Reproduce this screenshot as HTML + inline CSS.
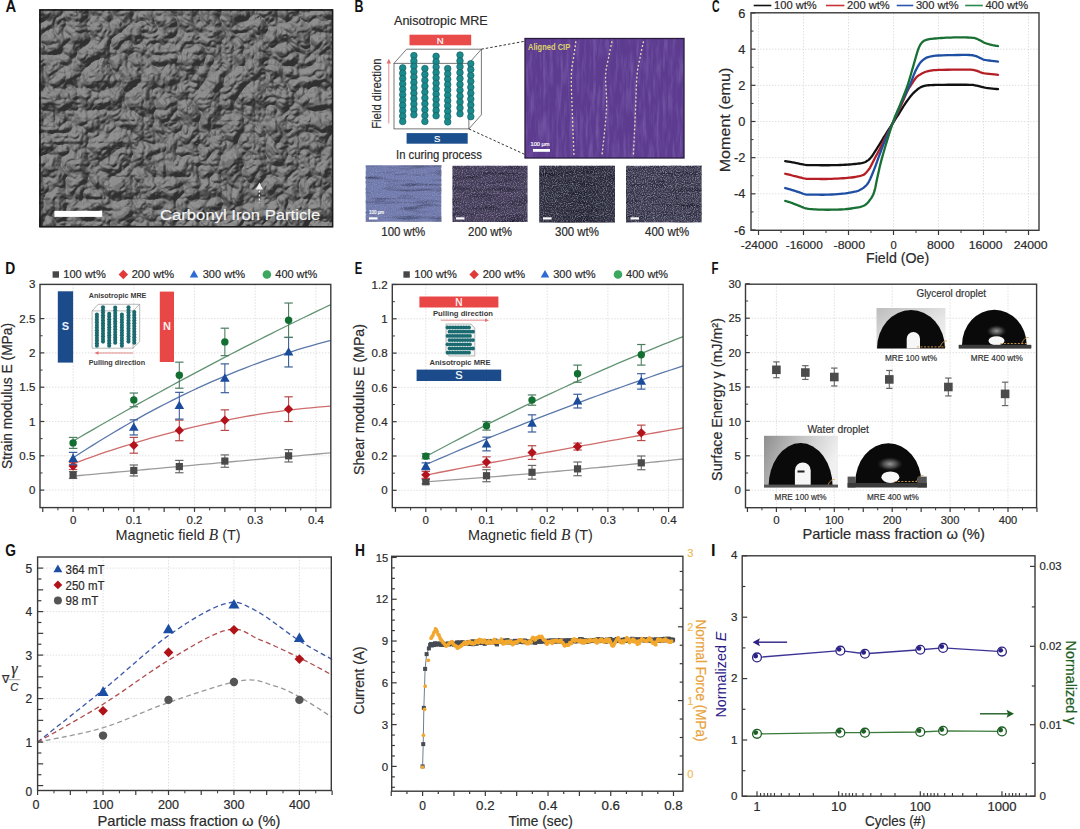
<!DOCTYPE html>
<html><head><meta charset="utf-8"><style>
html,body{margin:0;padding:0;background:#fff;width:1080px;height:829px;overflow:hidden}
svg{display:block;font-family:"Liberation Sans", sans-serif}
</style></head><body>
<svg width="1080" height="829" viewBox="0 0 1080 829" font-family='"Liberation Sans", sans-serif' fill="#2a2a2a"><defs><filter id="sem" x="0" y="0" width="100%" height="100%" color-interpolation-filters="sRGB">
<feTurbulence type="turbulence" baseFrequency="0.045" numOctaves="3" seed="4" result="n"/>
<feColorMatrix in="n" type="matrix" values="0 0 0 0 0  0 0 0 0 0  0 0 0 0 0  1.5 0 0 0 0" result="h"/>
<feDiffuseLighting in="h" surfaceScale="6" diffuseConstant="1" lighting-color="#fff" result="l"><feDistantLight azimuth="240" elevation="45"/></feDiffuseLighting>
<feColorMatrix in="l" type="matrix" values="0.38 0 0 0 0.19  0.38 0 0 0 0.19  0.38 0 0 0 0.19  0 0 0 0 1" result="g"/>
<feGaussianBlur in="g" stdDeviation="0.6"/>
</filter><filter id="purp" x="0" y="0" width="100%" height="100%" color-interpolation-filters="sRGB">
<feTurbulence type="fractalNoise" baseFrequency="0.3 0.035" numOctaves="3" seed="2" result="n"/>
<feColorMatrix in="n" type="matrix" values="0 0 0 0 0.50  0 0 0 0 0.38  0 0 0 0 0.68  1.5 0 0 0 -0.64" result="c"/>
<feComposite in="c" in2="SourceGraphic" operator="over"/>
</filter><filter id="si1" x="0" y="0" width="100%" height="100%" color-interpolation-filters="sRGB">
<feTurbulence type="fractalNoise" baseFrequency="0.9 0.9" numOctaves="2" seed="11" result="n"/>
<feColorMatrix in="n" type="matrix" values="0 0 0 0 0.6  0 0 0 0 0.64  0 0 0 0 0.8  1.3 0 0 0 -0.55" result="c"/>
<feTurbulence type="fractalNoise" baseFrequency="0.03 0.25" numOctaves="2" seed="31" result="n2"/>
<feColorMatrix in="n2" type="matrix" values="0 0 0 0 0  0 0 0 0 0  0 0 0 0 0.05  1.2 0 0 0 -0.58" result="c2"/>
<feMerge result="m"><feMergeNode in="SourceGraphic"/><feMergeNode in="c2"/><feMergeNode in="c"/></feMerge>
<feGaussianBlur in="m" stdDeviation="0.45"/>
</filter><filter id="si2" x="0" y="0" width="100%" height="100%" color-interpolation-filters="sRGB">
<feTurbulence type="fractalNoise" baseFrequency="0.9 0.9" numOctaves="2" seed="12" result="n"/>
<feColorMatrix in="n" type="matrix" values="0 0 0 0 0.62  0 0 0 0 0.6  0 0 0 0 0.72  1.8 0 0 0 -0.8" result="c"/>
<feTurbulence type="fractalNoise" baseFrequency="0.03 0.25" numOctaves="2" seed="32" result="n2"/>
<feColorMatrix in="n2" type="matrix" values="0 0 0 0 0  0 0 0 0 0  0 0 0 0 0.05  1.2 0 0 0 -0.58" result="c2"/>
<feMerge result="m"><feMergeNode in="SourceGraphic"/><feMergeNode in="c2"/><feMergeNode in="c"/></feMerge>
<feGaussianBlur in="m" stdDeviation="0.45"/>
</filter><filter id="si3" x="0" y="0" width="100%" height="100%" color-interpolation-filters="sRGB">
<feTurbulence type="fractalNoise" baseFrequency="0.9 0.9" numOctaves="2" seed="13" result="n"/>
<feColorMatrix in="n" type="matrix" values="0 0 0 0 0.55  0 0 0 0 0.56  0 0 0 0 0.66  2.0 0 0 0 -0.85" result="c"/>
<feTurbulence type="fractalNoise" baseFrequency="0.03 0.25" numOctaves="2" seed="33" result="n2"/>
<feColorMatrix in="n2" type="matrix" values="0 0 0 0 0  0 0 0 0 0  0 0 0 0 0.05  1.2 0 0 0 -0.58" result="c2"/>
<feMerge result="m"><feMergeNode in="SourceGraphic"/><feMergeNode in="c2"/><feMergeNode in="c"/></feMerge>
<feGaussianBlur in="m" stdDeviation="0.45"/>
</filter><filter id="si4" x="0" y="0" width="100%" height="100%" color-interpolation-filters="sRGB">
<feTurbulence type="fractalNoise" baseFrequency="0.9 0.9" numOctaves="2" seed="14" result="n"/>
<feColorMatrix in="n" type="matrix" values="0 0 0 0 0.6  0 0 0 0 0.6  0 0 0 0 0.7  2.0 0 0 0 -0.82" result="c"/>
<feTurbulence type="fractalNoise" baseFrequency="0.03 0.25" numOctaves="2" seed="34" result="n2"/>
<feColorMatrix in="n2" type="matrix" values="0 0 0 0 0  0 0 0 0 0  0 0 0 0 0.05  1.2 0 0 0 -0.58" result="c2"/>
<feMerge result="m"><feMergeNode in="SourceGraphic"/><feMergeNode in="c2"/><feMergeNode in="c"/></feMerge>
<feGaussianBlur in="m" stdDeviation="0.45"/>
</filter><linearGradient id="gbg1" x1="0" y1="0" x2="1" y2="1"><stop offset="0" stop-color="#bdbdbd"/><stop offset="0.6" stop-color="#e6e6e6"/><stop offset="1" stop-color="#f4f4f4"/></linearGradient>
<linearGradient id="wbg1" x1="0" y1="0" x2="1" y2="0.3"><stop offset="0" stop-color="#8e8e8e"/><stop offset="0.5" stop-color="#c6c6c6"/><stop offset="1" stop-color="#f0f0f0"/></linearGradient>
<radialGradient id="glow"><stop offset="0" stop-color="#9a9a9a"/><stop offset="0.5" stop-color="#6a6a6a" stop-opacity="0.7"/><stop offset="1" stop-color="#333" stop-opacity="0"/></radialGradient></defs><rect width="1080" height="829" fill="#ffffff"/><text x="5.4" y="11.7" font-size="16.3" fill="#111" font-weight="bold" textLength="10.7" lengthAdjust="spacingAndGlyphs">A</text>
<rect x="39.5" y="9.5" width="293.5" height="217.5" fill="#6a6a6a" filter="url(#sem)"/>
<rect x="40" y="10" width="292.6" height="216.8" fill="none" stroke="#1a1a1a" stroke-width="1.6"/>
<rect x="54.4" y="210.9" width="47.8" height="6" fill="#ffffff"/>
<text x="160" y="219.9" font-size="15.5" fill="#f4f4f4" stroke="#f4f4f4" stroke-width="0.2" textLength="160.2" lengthAdjust="spacingAndGlyphs">Carbonyl Iron Particle</text>
<path d="M259.4 182.5 L255.8 189.5 L263 189.5 Z" fill="#f0f0f0"/>
<line x1="259.4" y1="190.5" x2="259.4" y2="203" stroke="#eeeeee" stroke-width="1.4" stroke-dasharray="2 2"/>
<text x="354.6" y="11.7" font-size="16.3" fill="#111" font-weight="bold" textLength="9" lengthAdjust="spacingAndGlyphs">B</text>
<text x="394" y="25" font-size="13.5" stroke="#2a2a2a" stroke-width="0.2" textLength="93.6" lengthAdjust="spacingAndGlyphs">Anisotropic MRE</text>
<rect x="409.5" y="34.7" width="61.7" height="10.6" fill="#e94b4b"/>
<text x="440.3" y="43.6" font-size="9.5" text-anchor="middle" fill="#ffffff" stroke="#ffffff" stroke-width="0.2">N</text>
<rect x="406.6" y="133.1" width="61.1" height="10.6" fill="#1c4f8e"/>
<text x="437.2" y="142" font-size="9.5" text-anchor="middle" fill="#ffffff" stroke="#ffffff" stroke-width="0.2">S</text>
<text x="396" y="159.2" font-size="13.5" stroke="#2a2a2a" stroke-width="0.2" textLength="85.8" lengthAdjust="spacingAndGlyphs">In curing process</text>
<text x="381.5" y="93.6" font-size="12.2" text-anchor="middle" stroke="#2a2a2a" stroke-width="0.2" textLength="70.4" lengthAdjust="spacingAndGlyphs" transform="rotate(-90 381.5 93.6)">Field direction</text>
<line x1="388.8" y1="123.5" x2="388.8" y2="62" stroke="#e07070" stroke-width="0.8"/>
<path d="M388.8 58.8 L386.6 63.5 L391 63.5 Z" fill="#e07070"/>
<rect x="394" y="63.3" width="74.9" height="65.6" fill="none" stroke="#555555" stroke-width="0.8"/>
<path d="M394 63.3 L406.6 49.2 L481.4 49.2 L481.4 114.8 L468.9 128.9 M468.9 63.3 L481.4 49.2" fill="none" stroke="#555555" stroke-width="0.8"/>
<circle cx="402.7" cy="67.9" r="3.3" fill="#1b8a8c" stroke="#0e5a5e" stroke-width="0.6"/>
<circle cx="402.7" cy="73.26" r="3.3" fill="#1b8a8c" stroke="#0e5a5e" stroke-width="0.6"/>
<circle cx="402.7" cy="78.62" r="3.3" fill="#1b8a8c" stroke="#0e5a5e" stroke-width="0.6"/>
<circle cx="402.7" cy="83.98" r="3.3" fill="#1b8a8c" stroke="#0e5a5e" stroke-width="0.6"/>
<circle cx="402.7" cy="89.34" r="3.3" fill="#1b8a8c" stroke="#0e5a5e" stroke-width="0.6"/>
<circle cx="402.7" cy="94.7" r="3.3" fill="#1b8a8c" stroke="#0e5a5e" stroke-width="0.6"/>
<circle cx="402.7" cy="100.06" r="3.3" fill="#1b8a8c" stroke="#0e5a5e" stroke-width="0.6"/>
<circle cx="402.7" cy="105.42" r="3.3" fill="#1b8a8c" stroke="#0e5a5e" stroke-width="0.6"/>
<circle cx="402.7" cy="110.78" r="3.3" fill="#1b8a8c" stroke="#0e5a5e" stroke-width="0.6"/>
<circle cx="402.7" cy="116.14" r="3.3" fill="#1b8a8c" stroke="#0e5a5e" stroke-width="0.6"/>
<circle cx="402.7" cy="121.5" r="3.3" fill="#1b8a8c" stroke="#0e5a5e" stroke-width="0.6"/>
<circle cx="413.9" cy="55.6" r="3.3" fill="#1b8a8c" stroke="#0e5a5e" stroke-width="0.6"/>
<circle cx="413.9" cy="60.98" r="3.3" fill="#1b8a8c" stroke="#0e5a5e" stroke-width="0.6"/>
<circle cx="413.9" cy="66.36" r="3.3" fill="#1b8a8c" stroke="#0e5a5e" stroke-width="0.6"/>
<circle cx="413.9" cy="71.75" r="3.3" fill="#1b8a8c" stroke="#0e5a5e" stroke-width="0.6"/>
<circle cx="413.9" cy="77.13" r="3.3" fill="#1b8a8c" stroke="#0e5a5e" stroke-width="0.6"/>
<circle cx="413.9" cy="82.51" r="3.3" fill="#1b8a8c" stroke="#0e5a5e" stroke-width="0.6"/>
<circle cx="413.9" cy="87.89" r="3.3" fill="#1b8a8c" stroke="#0e5a5e" stroke-width="0.6"/>
<circle cx="413.9" cy="93.27" r="3.3" fill="#1b8a8c" stroke="#0e5a5e" stroke-width="0.6"/>
<circle cx="413.9" cy="98.65" r="3.3" fill="#1b8a8c" stroke="#0e5a5e" stroke-width="0.6"/>
<circle cx="413.9" cy="104.04" r="3.3" fill="#1b8a8c" stroke="#0e5a5e" stroke-width="0.6"/>
<circle cx="413.9" cy="109.42" r="3.3" fill="#1b8a8c" stroke="#0e5a5e" stroke-width="0.6"/>
<circle cx="413.9" cy="114.8" r="3.3" fill="#1b8a8c" stroke="#0e5a5e" stroke-width="0.6"/>
<circle cx="424.9" cy="68.5" r="3.3" fill="#1b8a8c" stroke="#0e5a5e" stroke-width="0.6"/>
<circle cx="424.9" cy="74.39" r="3.3" fill="#1b8a8c" stroke="#0e5a5e" stroke-width="0.6"/>
<circle cx="424.9" cy="80.28" r="3.3" fill="#1b8a8c" stroke="#0e5a5e" stroke-width="0.6"/>
<circle cx="424.9" cy="86.17" r="3.3" fill="#1b8a8c" stroke="#0e5a5e" stroke-width="0.6"/>
<circle cx="424.9" cy="92.06" r="3.3" fill="#1b8a8c" stroke="#0e5a5e" stroke-width="0.6"/>
<circle cx="424.9" cy="97.94" r="3.3" fill="#1b8a8c" stroke="#0e5a5e" stroke-width="0.6"/>
<circle cx="424.9" cy="103.83" r="3.3" fill="#1b8a8c" stroke="#0e5a5e" stroke-width="0.6"/>
<circle cx="424.9" cy="109.72" r="3.3" fill="#1b8a8c" stroke="#0e5a5e" stroke-width="0.6"/>
<circle cx="424.9" cy="115.61" r="3.3" fill="#1b8a8c" stroke="#0e5a5e" stroke-width="0.6"/>
<circle cx="424.9" cy="121.5" r="3.3" fill="#1b8a8c" stroke="#0e5a5e" stroke-width="0.6"/>
<circle cx="436.1" cy="56.3" r="3.3" fill="#1b8a8c" stroke="#0e5a5e" stroke-width="0.6"/>
<circle cx="436.1" cy="61.71" r="3.3" fill="#1b8a8c" stroke="#0e5a5e" stroke-width="0.6"/>
<circle cx="436.1" cy="67.12" r="3.3" fill="#1b8a8c" stroke="#0e5a5e" stroke-width="0.6"/>
<circle cx="436.1" cy="72.53" r="3.3" fill="#1b8a8c" stroke="#0e5a5e" stroke-width="0.6"/>
<circle cx="436.1" cy="77.94" r="3.3" fill="#1b8a8c" stroke="#0e5a5e" stroke-width="0.6"/>
<circle cx="436.1" cy="83.35" r="3.3" fill="#1b8a8c" stroke="#0e5a5e" stroke-width="0.6"/>
<circle cx="436.1" cy="88.75" r="3.3" fill="#1b8a8c" stroke="#0e5a5e" stroke-width="0.6"/>
<circle cx="436.1" cy="94.16" r="3.3" fill="#1b8a8c" stroke="#0e5a5e" stroke-width="0.6"/>
<circle cx="436.1" cy="99.57" r="3.3" fill="#1b8a8c" stroke="#0e5a5e" stroke-width="0.6"/>
<circle cx="436.1" cy="104.98" r="3.3" fill="#1b8a8c" stroke="#0e5a5e" stroke-width="0.6"/>
<circle cx="436.1" cy="110.39" r="3.3" fill="#1b8a8c" stroke="#0e5a5e" stroke-width="0.6"/>
<circle cx="436.1" cy="115.8" r="3.3" fill="#1b8a8c" stroke="#0e5a5e" stroke-width="0.6"/>
<circle cx="447.7" cy="68.5" r="3.3" fill="#1b8a8c" stroke="#0e5a5e" stroke-width="0.6"/>
<circle cx="447.7" cy="73.84" r="3.3" fill="#1b8a8c" stroke="#0e5a5e" stroke-width="0.6"/>
<circle cx="447.7" cy="79.18" r="3.3" fill="#1b8a8c" stroke="#0e5a5e" stroke-width="0.6"/>
<circle cx="447.7" cy="84.52" r="3.3" fill="#1b8a8c" stroke="#0e5a5e" stroke-width="0.6"/>
<circle cx="447.7" cy="89.86" r="3.3" fill="#1b8a8c" stroke="#0e5a5e" stroke-width="0.6"/>
<circle cx="447.7" cy="95.2" r="3.3" fill="#1b8a8c" stroke="#0e5a5e" stroke-width="0.6"/>
<circle cx="447.7" cy="100.54" r="3.3" fill="#1b8a8c" stroke="#0e5a5e" stroke-width="0.6"/>
<circle cx="447.7" cy="105.88" r="3.3" fill="#1b8a8c" stroke="#0e5a5e" stroke-width="0.6"/>
<circle cx="447.7" cy="111.22" r="3.3" fill="#1b8a8c" stroke="#0e5a5e" stroke-width="0.6"/>
<circle cx="447.7" cy="116.56" r="3.3" fill="#1b8a8c" stroke="#0e5a5e" stroke-width="0.6"/>
<circle cx="447.7" cy="121.9" r="3.3" fill="#1b8a8c" stroke="#0e5a5e" stroke-width="0.6"/>
<circle cx="460" cy="55" r="3.3" fill="#1b8a8c" stroke="#0e5a5e" stroke-width="0.6"/>
<circle cx="460" cy="60.88" r="3.3" fill="#1b8a8c" stroke="#0e5a5e" stroke-width="0.6"/>
<circle cx="460" cy="66.76" r="3.3" fill="#1b8a8c" stroke="#0e5a5e" stroke-width="0.6"/>
<circle cx="460" cy="72.64" r="3.3" fill="#1b8a8c" stroke="#0e5a5e" stroke-width="0.6"/>
<circle cx="460" cy="78.52" r="3.3" fill="#1b8a8c" stroke="#0e5a5e" stroke-width="0.6"/>
<circle cx="460" cy="84.4" r="3.3" fill="#1b8a8c" stroke="#0e5a5e" stroke-width="0.6"/>
<circle cx="460" cy="90.28" r="3.3" fill="#1b8a8c" stroke="#0e5a5e" stroke-width="0.6"/>
<circle cx="460" cy="96.16" r="3.3" fill="#1b8a8c" stroke="#0e5a5e" stroke-width="0.6"/>
<circle cx="460" cy="102.04" r="3.3" fill="#1b8a8c" stroke="#0e5a5e" stroke-width="0.6"/>
<circle cx="460" cy="107.92" r="3.3" fill="#1b8a8c" stroke="#0e5a5e" stroke-width="0.6"/>
<circle cx="460" cy="113.8" r="3.3" fill="#1b8a8c" stroke="#0e5a5e" stroke-width="0.6"/>
<circle cx="470.8" cy="63.7" r="3.3" fill="#1b8a8c" stroke="#0e5a5e" stroke-width="0.6"/>
<circle cx="470.8" cy="69.59" r="3.3" fill="#1b8a8c" stroke="#0e5a5e" stroke-width="0.6"/>
<circle cx="470.8" cy="75.48" r="3.3" fill="#1b8a8c" stroke="#0e5a5e" stroke-width="0.6"/>
<circle cx="470.8" cy="81.37" r="3.3" fill="#1b8a8c" stroke="#0e5a5e" stroke-width="0.6"/>
<circle cx="470.8" cy="87.26" r="3.3" fill="#1b8a8c" stroke="#0e5a5e" stroke-width="0.6"/>
<circle cx="470.8" cy="93.14" r="3.3" fill="#1b8a8c" stroke="#0e5a5e" stroke-width="0.6"/>
<circle cx="470.8" cy="99.03" r="3.3" fill="#1b8a8c" stroke="#0e5a5e" stroke-width="0.6"/>
<circle cx="470.8" cy="104.92" r="3.3" fill="#1b8a8c" stroke="#0e5a5e" stroke-width="0.6"/>
<circle cx="470.8" cy="110.81" r="3.3" fill="#1b8a8c" stroke="#0e5a5e" stroke-width="0.6"/>
<circle cx="470.8" cy="116.7" r="3.3" fill="#1b8a8c" stroke="#0e5a5e" stroke-width="0.6"/>
<line x1="481.4" y1="49.2" x2="525" y2="41.2" stroke="#333" stroke-width="1" stroke-dasharray="2.5 2"/>
<line x1="468.9" y1="128.9" x2="525" y2="154.5" stroke="#333" stroke-width="1" stroke-dasharray="2.5 2"/>
<rect x="525" y="38.5" width="159" height="119.5" fill="#5d3c90" filter="url(#purp)"/>
<rect x="525" y="38.5" width="159" height="119.5" fill="none" stroke="#2a1c3c" stroke-width="1.3"/>
<path d="M575.9 41.3 L575.64 43.11 L575.27 45.6 L574.84 48.55 L574.37 51.75 L573.92 54.97 L573.5 58 L573.09 60.69 L572.64 63.18 L572.19 65.69 L571.8 68.46 L571.48 71.68 L571.3 75.6 L571.26 80.23 L571.34 85.39 L571.5 91.02 L571.72 97.05 L571.96 103.4 L572.2 110 L572.47 117.53 L572.8 126.18 L573.16 135.15 L573.5 143.64 L573.79 150.86 L574 156" fill="none" stroke="#efe6b8" stroke-width="1.3" stroke-dasharray="1.8 2.2"/>
<path d="M612 41.3 L611.61 43.11 L611.07 45.6 L610.43 48.55 L609.75 51.75 L609.09 54.97 L608.5 58 L607.94 60.7 L607.35 63.22 L606.78 65.76 L606.26 68.54 L605.86 71.75 L605.6 75.6 L605.59 80.08 L605.82 85.03 L606.16 90.41 L606.47 96.2 L606.62 102.37 L606.5 108.9 L606 116.5 L605.2 125.32 L604.26 134.53 L603.3 143.28 L602.46 150.72 L601.9 156" fill="none" stroke="#efe6b8" stroke-width="1.3" stroke-dasharray="1.8 2.2"/>
<path d="M643.5 41.3 L643.11 43.11 L642.57 45.6 L641.94 48.55 L641.26 51.75 L640.59 54.97 L640 58 L639.46 60.63 L638.91 62.99 L638.39 65.38 L637.89 68.09 L637.42 71.39 L637 75.6 L636.64 80.89 L636.35 87.06 L636.09 93.84 L635.84 100.94 L635.59 108.09 L635.3 115 L634.96 122.22 L634.58 130.07 L634.19 137.96 L633.83 145.31 L633.52 151.52 L633.3 156" fill="none" stroke="#efe6b8" stroke-width="1.3" stroke-dasharray="1.8 2.2"/>
<text x="528" y="50" font-size="9.2" fill="#dcd36a" font-weight="bold" textLength="42.2" lengthAdjust="spacingAndGlyphs">Aligned CIP</text>
<text x="530.5" y="146.3" font-size="6.2" fill="#ffffff" stroke="#ffffff" stroke-width="0.2" textLength="19" lengthAdjust="spacingAndGlyphs">100 µm</text>
<rect x="533" y="149" width="17" height="2.8" fill="#ffffff"/>
<rect x="365.8" y="165.3" width="75.4" height="56.4" fill="#7079ab" filter="url(#si1)"/>
<rect x="452.5" y="165.8" width="75" height="56.2" fill="#453d58" filter="url(#si2)"/>
<rect x="539.2" y="165.8" width="75.8" height="56.7" fill="#2c2c3a" filter="url(#si3)"/>
<rect x="626" y="165.9" width="75.6" height="56.4" fill="#38374a" filter="url(#si4)"/>
<text x="369" y="214" font-size="5.2" fill="#ffffff" stroke="#ffffff" stroke-width="0.2" textLength="15" lengthAdjust="spacingAndGlyphs">100 µm</text>
<rect x="369" y="217.3" width="8.5" height="2.2" fill="#ffffff"/>
<rect x="456" y="217.3" width="8.5" height="2.2" fill="#ffffff"/>
<rect x="543" y="217.3" width="8.5" height="2.2" fill="#ffffff"/>
<rect x="630.5" y="217.3" width="8.5" height="2.2" fill="#ffffff"/>
<text x="403.3" y="235.8" font-size="12.2" text-anchor="middle" stroke="#2a2a2a" stroke-width="0.2" textLength="44" lengthAdjust="spacingAndGlyphs">100 wt%</text>
<text x="490" y="235.8" font-size="12.2" text-anchor="middle" stroke="#2a2a2a" stroke-width="0.2" textLength="44" lengthAdjust="spacingAndGlyphs">200 wt%</text>
<text x="577" y="235.8" font-size="12.2" text-anchor="middle" stroke="#2a2a2a" stroke-width="0.2" textLength="44" lengthAdjust="spacingAndGlyphs">300 wt%</text>
<text x="667.1" y="235.8" font-size="12.2" text-anchor="middle" stroke="#2a2a2a" stroke-width="0.2" textLength="44" lengthAdjust="spacingAndGlyphs">400 wt%</text>
<text x="712" y="11.9" font-size="16.3" fill="#111" font-weight="bold" textLength="7.6" lengthAdjust="spacingAndGlyphs">C</text>
<line x1="758.5" y1="13" x2="758.5" y2="230.3" stroke="#dcdcdc" stroke-width="0.9" stroke-dasharray="1.5 1.5"/>
<line x1="803.5" y1="13" x2="803.5" y2="230.3" stroke="#dcdcdc" stroke-width="0.9" stroke-dasharray="1.5 1.5"/>
<line x1="848.5" y1="13" x2="848.5" y2="230.3" stroke="#dcdcdc" stroke-width="0.9" stroke-dasharray="1.5 1.5"/>
<line x1="893.5" y1="13" x2="893.5" y2="230.3" stroke="#dcdcdc" stroke-width="0.9" stroke-dasharray="1.5 1.5"/>
<line x1="938.5" y1="13" x2="938.5" y2="230.3" stroke="#dcdcdc" stroke-width="0.9" stroke-dasharray="1.5 1.5"/>
<line x1="983.5" y1="13" x2="983.5" y2="230.3" stroke="#dcdcdc" stroke-width="0.9" stroke-dasharray="1.5 1.5"/>
<line x1="1028.5" y1="13" x2="1028.5" y2="230.3" stroke="#dcdcdc" stroke-width="0.9" stroke-dasharray="1.5 1.5"/>
<line x1="751" y1="193.82" x2="1039" y2="193.82" stroke="#dcdcdc" stroke-width="0.9" stroke-dasharray="1.5 1.5"/>
<line x1="751" y1="157.66" x2="1039" y2="157.66" stroke="#dcdcdc" stroke-width="0.9" stroke-dasharray="1.5 1.5"/>
<line x1="751" y1="121.5" x2="1039" y2="121.5" stroke="#dcdcdc" stroke-width="0.9" stroke-dasharray="1.5 1.5"/>
<line x1="751" y1="85.34" x2="1039" y2="85.34" stroke="#dcdcdc" stroke-width="0.9" stroke-dasharray="1.5 1.5"/>
<line x1="751" y1="49.18" x2="1039" y2="49.18" stroke="#dcdcdc" stroke-width="0.9" stroke-dasharray="1.5 1.5"/>
<path d="M785.22 161.1 L786.45 161.31 L788.16 161.62 L790.18 161.98 L792.33 162.36 L794.43 162.74 L796.3 163.08 L797.98 163.41 L799.64 163.76 L801.24 164.1 L802.77 164.42 L804.22 164.69 L805.58 164.89 L806.72 165.02 L807.63 165.07 L808.46 165.08 L809.36 165.07 L810.47 165.06 L811.94 165.07 L813.8 165.11 L815.95 165.15 L818.31 165.2 L820.82 165.23 L823.4 165.25 L826 165.25 L828.71 165.23 L831.6 165.19 L834.58 165.14 L837.52 165.07 L840.32 164.99 L842.88 164.89 L845.18 164.77 L847.33 164.64 L849.34 164.49 L851.23 164.32 L853.01 164.16 L854.69 163.99 L856.27 163.82 L857.75 163.66 L859.12 163.49 L860.38 163.31 L861.52 163.12 L862.56 162.9 L863.44 162.69 L864.14 162.49 L864.74 162.27 L865.28 162.01 L865.85 161.69 L866.5 161.28 L867.21 160.82 L867.91 160.35 L868.64 159.82 L869.4 159.17 L870.22 158.34 L871.11 157.3 L872.09 155.99 L873.15 154.45 L874.26 152.73 L875.41 150.91 L876.58 149.04 L877.75 147.17 L878.93 145.28 L880.14 143.31 L881.36 141.29 L882.6 139.25 L883.84 137.22 L885.06 135.24 L886.29 133.3 L887.52 131.37 L888.75 129.46 L889.98 127.56 L891.19 125.69 L892.38 123.85 L893.55 122.03 L894.71 120.23 L895.86 118.46 L896.98 116.72 L898.07 115.02 L899.12 113.36 L900.13 111.76 L901.08 110.2 L902.01 108.67 L902.92 107.19 L903.83 105.74 L904.75 104.32 L905.71 102.91 L906.7 101.5 L907.68 100.13 L908.64 98.83 L909.55 97.62 L910.38 96.55 L911.08 95.65 L911.69 94.91 L912.24 94.27 L912.79 93.67 L913.39 93.06 L914.09 92.39 L914.91 91.63 L915.82 90.82 L916.77 90 L917.75 89.2 L918.7 88.48 L919.6 87.87 L920.44 87.38 L921.23 86.97 L922.01 86.64 L922.79 86.36 L923.59 86.11 L924.44 85.88 L925.23 85.68 L925.94 85.53 L926.67 85.42 L927.53 85.33 L928.63 85.24 L930.06 85.16 L931.79 85.07 L933.71 85 L935.86 84.93 L938.29 84.88 L941.03 84.83 L944.12 84.8 L947.92 84.77 L952.46 84.75 L957.31 84.74 L962.04 84.74 L966.23 84.76 L969.44 84.8 L971.51 84.85 L972.77 84.91 L973.48 84.99 L973.92 85.09 L974.35 85.2 L975.06 85.34 L976 85.51 L976.94 85.71 L977.88 85.93 L978.81 86.16 L979.75 86.39 L980.69 86.61 L981.55 86.82 L982.34 87.03 L983.12 87.24 L983.99 87.45 L985.02 87.66 L986.31 87.87 L988.05 88.1 L990.2 88.34 L992.51 88.58 L994.75 88.81 L996.67 89 L998.01 89.14" fill="none" stroke="#111111" stroke-width="2.3" stroke-linejoin="round" stroke-linecap="round"/>
<path d="M785.22 173.75 L786.43 174.05 L788.12 174.47 L790.12 174.97 L792.24 175.5 L794.32 176.01 L796.19 176.46 L797.88 176.88 L799.55 177.3 L801.17 177.71 L802.73 178.08 L804.21 178.39 L805.58 178.63 L806.73 178.78 L807.64 178.84 L808.47 178.85 L809.36 178.83 L810.47 178.81 L811.94 178.81 L813.8 178.85 L815.95 178.91 L818.31 178.96 L820.82 179 L823.4 179.02 L826 178.99 L828.71 178.93 L831.59 178.84 L834.56 178.72 L837.5 178.59 L840.31 178.43 L842.88 178.27 L845.22 178.1 L847.43 177.91 L849.5 177.71 L851.45 177.49 L853.27 177.25 L854.97 177.01 L856.55 176.74 L858.01 176.44 L859.35 176.14 L860.55 175.82 L861.63 175.51 L862.56 175.2 L863.29 174.94 L863.79 174.74 L864.16 174.53 L864.49 174.27 L864.86 173.91 L865.38 173.39 L866.02 172.73 L866.72 171.97 L867.47 171.11 L868.26 170.13 L869.06 169.02 L869.88 167.78 L870.72 166.32 L871.62 164.62 L872.54 162.8 L873.44 160.96 L874.31 159.21 L875.11 157.66 L875.8 156.38 L876.4 155.3 L876.97 154.32 L877.54 153.31 L878.16 152.17 L878.88 150.79 L879.68 149.18 L880.53 147.42 L881.43 145.54 L882.39 143.53 L883.41 141.42 L884.5 139.22 L885.66 136.94 L886.9 134.56 L888.19 132.09 L889.54 129.49 L890.94 126.75 L892.38 123.85 L893.92 120.65 L895.58 117.13 L897.3 113.47 L898.98 109.84 L900.55 106.43 L901.94 103.42 L903.13 100.78 L904.19 98.36 L905.14 96.15 L906.01 94.16 L906.81 92.36 L907.56 90.76 L908.22 89.47 L908.75 88.5 L909.22 87.74 L909.68 87.04 L910.2 86.29 L910.83 85.34 L911.6 84.15 L912.47 82.8 L913.39 81.39 L914.32 80.01 L915.21 78.77 L916 77.75 L916.68 76.99 L917.27 76.42 L917.82 75.98 L918.37 75.62 L918.95 75.26 L919.6 74.85 L920.33 74.4 L921.12 73.94 L921.94 73.5 L922.78 73.07 L923.62 72.68 L924.44 72.32 L925.19 72.01 L925.89 71.74 L926.58 71.5 L927.34 71.28 L928.21 71.07 L929.27 70.88 L930.34 70.69 L931.32 70.51 L932.43 70.36 L933.86 70.21 L935.82 70.09 L938.5 69.97 L942.32 69.87 L947.2 69.77 L952.61 69.69 L958.01 69.63 L962.86 69.6 L966.62 69.61 L969.2 69.65 L971 69.72 L972.25 69.83 L973.19 69.96 L974.05 70.13 L975.06 70.33 L976.18 70.6 L977.2 70.94 L978.15 71.31 L979.03 71.68 L979.87 72.03 L980.69 72.32 L981.35 72.55 L981.83 72.74 L982.27 72.9 L982.81 73.05 L983.6 73.22 L984.79 73.41 L986.62 73.64 L989.01 73.92 L991.66 74.2 L994.25 74.47 L996.47 74.69 L998.01 74.85" fill="none" stroke="#b51e24" stroke-width="2.3" stroke-linejoin="round" stroke-linecap="round"/>
<path d="M785.22 188.03 L786.43 188.39 L788.12 188.88 L790.12 189.47 L792.24 190.1 L794.32 190.72 L796.19 191.29 L797.88 191.85 L799.55 192.43 L801.17 193.02 L802.73 193.56 L804.21 194.02 L805.58 194.36 L806.73 194.56 L807.64 194.64 L808.47 194.63 L809.36 194.59 L810.47 194.55 L811.94 194.54 L813.8 194.59 L815.95 194.65 L818.31 194.71 L820.82 194.76 L823.4 194.77 L826 194.72 L828.71 194.63 L831.59 194.49 L834.56 194.32 L837.5 194.11 L840.31 193.89 L842.88 193.64 L845.25 193.36 L847.53 193.03 L849.68 192.68 L851.66 192.32 L853.43 191.97 L854.97 191.65 L856.18 191.38 L857.07 191.16 L857.76 190.95 L858.36 190.71 L858.99 190.42 L859.75 190.02 L860.66 189.53 L861.62 188.98 L862.62 188.36 L863.59 187.69 L864.53 186.98 L865.38 186.23 L866.12 185.49 L866.77 184.78 L867.38 184.02 L867.98 183.15 L868.61 182.1 L869.31 180.8 L870.1 179.18 L870.95 177.28 L871.83 175.2 L872.72 173.03 L873.57 170.89 L874.38 168.87 L875.09 167.03 L875.72 165.3 L876.33 163.59 L876.96 161.81 L877.66 159.87 L878.48 157.66 L879.43 155.14 L880.46 152.36 L881.57 149.41 L882.72 146.39 L883.89 143.38 L885.06 140.48 L886.21 137.75 L887.36 135.11 L888.53 132.48 L889.74 129.79 L891.02 126.94 L892.38 123.85 L893.86 120.4 L895.46 116.63 L897.13 112.71 L898.8 108.79 L900.42 105.04 L901.94 101.61 L903.37 98.52 L904.75 95.63 L906.09 92.9 L907.37 90.3 L908.58 87.79 L909.7 85.34 L910.72 82.93 L911.63 80.6 L912.48 78.36 L913.28 76.22 L914.07 74.2 L914.88 72.32 L915.69 70.58 L916.48 68.96 L917.26 67.46 L918.03 66.08 L918.81 64.81 L919.6 63.64 L920.4 62.6 L921.2 61.69 L922.01 60.89 L922.82 60.18 L923.63 59.53 L924.44 58.94 L925.19 58.42 L925.89 58 L926.58 57.64 L927.34 57.34 L928.21 57.05 L929.27 56.77 L930.34 56.5 L931.32 56.26 L932.43 56.04 L933.86 55.84 L935.82 55.67 L938.5 55.51 L942.32 55.36 L947.2 55.22 L952.61 55.1 L958.01 55.01 L962.86 54.96 L966.62 54.97 L969.2 55.02 L971 55.11 L972.25 55.24 L973.19 55.41 L974.05 55.62 L975.06 55.87 L976.18 56.19 L977.2 56.57 L978.15 57 L979.03 57.44 L979.87 57.85 L980.69 58.22 L981.35 58.53 L981.83 58.81 L982.27 59.07 L982.81 59.32 L983.6 59.57 L984.79 59.85 L986.62 60.16 L989.01 60.5 L991.66 60.85 L994.25 61.18 L996.47 61.46 L998.01 61.66" fill="none" stroke="#1f4fa3" stroke-width="2.3" stroke-linejoin="round" stroke-linecap="round"/>
<path d="M785.22 200.87 L785.8 201.04 L786.59 201.27 L787.54 201.55 L788.56 201.86 L789.59 202.18 L790.56 202.5 L791.5 202.83 L792.46 203.19 L793.43 203.57 L794.39 203.95 L795.31 204.32 L796.19 204.67 L797 204.99 L797.76 205.3 L798.48 205.59 L799.2 205.89 L799.93 206.18 L800.69 206.48 L801.46 206.79 L802.24 207.11 L803.02 207.44 L803.83 207.75 L804.68 208.03 L805.58 208.28 L806.47 208.49 L807.31 208.67 L808.19 208.82 L809.19 208.95 L810.42 209.07 L811.94 209.19 L813.8 209.31 L815.95 209.43 L818.31 209.54 L820.82 209.63 L823.4 209.7 L826 209.73 L828.71 209.74 L831.59 209.72 L834.56 209.67 L837.5 209.6 L840.31 209.5 L842.88 209.37 L845.21 209.2 L847.39 208.99 L849.43 208.76 L851.36 208.5 L853.2 208.22 L854.97 207.92 L856.66 207.63 L858.26 207.33 L859.77 207.02 L861.18 206.66 L862.49 206.25 L863.69 205.75 L864.74 205.21 L865.64 204.63 L866.44 203.99 L867.19 203.26 L867.94 202.41 L868.75 201.41 L869.62 200.31 L870.52 199.15 L871.41 197.87 L872.3 196.4 L873.14 194.71 L873.92 192.74 L874.63 190.4 L875.28 187.73 L875.89 184.83 L876.49 181.79 L877.1 178.73 L877.75 175.74 L878.37 172.97 L878.94 170.38 L879.51 167.75 L880.18 164.89 L881.01 161.6 L882.08 157.66 L883.48 152.77 L885.16 147.03 L887.01 140.85 L888.9 134.64 L890.73 128.84 L892.38 123.85 L893.83 119.76 L895.2 116.26 L896.5 113.16 L897.76 110.26 L899 107.38 L900.25 104.32 L901.52 101.13 L902.79 97.96 L904.05 94.8 L905.27 91.65 L906.45 88.5 L907.56 85.34 L908.6 82.16 L909.58 78.95 L910.51 75.74 L911.41 72.55 L912.3 69.42 L913.19 66.36 L914.08 63.27 L914.98 60.12 L915.86 57.01 L916.71 54.07 L917.53 51.43 L918.31 49.18 L919.01 47.39 L919.65 45.97 L920.25 44.84 L920.85 43.91 L921.49 43.09 L922.19 42.31 L922.93 41.6 L923.69 41.04 L924.48 40.59 L925.32 40.23 L926.24 39.91 L927.25 39.6 L928.32 39.32 L929.42 39.11 L930.6 38.94 L931.89 38.8 L933.35 38.66 L935.01 38.51 L936.92 38.34 L939.06 38.17 L941.35 38 L943.75 37.85 L946.2 37.72 L948.62 37.61 L951.12 37.53 L953.76 37.47 L956.44 37.43 L959.07 37.41 L961.56 37.41 L963.81 37.43 L965.85 37.46 L967.73 37.49 L969.47 37.55 L971.08 37.64 L972.57 37.78 L973.94 37.97 L975.14 38.23 L976.16 38.55 L977.06 38.92 L977.88 39.32 L978.7 39.73 L979.56 40.14 L980.44 40.57 L981.29 41.03 L982.12 41.51 L982.96 41.98 L983.85 42.44 L984.79 42.85 L985.81 43.23 L986.89 43.6 L988 43.94 L989.13 44.26 L990.26 44.56 L991.38 44.84 L992.55 45.11 L993.83 45.36 L995.11 45.6 L996.29 45.81 L997.29 45.98 L998.01 46.11" fill="none" stroke="#197034" stroke-width="2.3" stroke-linejoin="round" stroke-linecap="round"/>
<rect x="751" y="12.8" width="288" height="217.5" fill="none" stroke="#3a3a3a" stroke-width="1.4"/>
<line x1="751" y1="229.98" x2="755.5" y2="229.98" stroke="#3a3a3a" stroke-width="1.2"/>
<text x="745.3" y="234.58" font-size="12.8" text-anchor="end" stroke="#2a2a2a" stroke-width="0.2">-6</text>
<line x1="751" y1="211.9" x2="753.5" y2="211.9" stroke="#3a3a3a" stroke-width="1"/>
<line x1="751" y1="193.82" x2="755.5" y2="193.82" stroke="#3a3a3a" stroke-width="1.2"/>
<text x="745.3" y="198.42" font-size="12.8" text-anchor="end" stroke="#2a2a2a" stroke-width="0.2">-4</text>
<line x1="751" y1="175.74" x2="753.5" y2="175.74" stroke="#3a3a3a" stroke-width="1"/>
<line x1="751" y1="157.66" x2="755.5" y2="157.66" stroke="#3a3a3a" stroke-width="1.2"/>
<text x="745.3" y="162.26" font-size="12.8" text-anchor="end" stroke="#2a2a2a" stroke-width="0.2">-2</text>
<line x1="751" y1="139.58" x2="753.5" y2="139.58" stroke="#3a3a3a" stroke-width="1"/>
<line x1="751" y1="121.5" x2="755.5" y2="121.5" stroke="#3a3a3a" stroke-width="1.2"/>
<text x="745.3" y="126.1" font-size="12.8" text-anchor="end" stroke="#2a2a2a" stroke-width="0.2">0</text>
<line x1="751" y1="103.42" x2="753.5" y2="103.42" stroke="#3a3a3a" stroke-width="1"/>
<line x1="751" y1="85.34" x2="755.5" y2="85.34" stroke="#3a3a3a" stroke-width="1.2"/>
<text x="745.3" y="89.94" font-size="12.8" text-anchor="end" stroke="#2a2a2a" stroke-width="0.2">2</text>
<line x1="751" y1="67.26" x2="753.5" y2="67.26" stroke="#3a3a3a" stroke-width="1"/>
<line x1="751" y1="49.18" x2="755.5" y2="49.18" stroke="#3a3a3a" stroke-width="1.2"/>
<text x="745.3" y="53.78" font-size="12.8" text-anchor="end" stroke="#2a2a2a" stroke-width="0.2">4</text>
<line x1="751" y1="31.1" x2="753.5" y2="31.1" stroke="#3a3a3a" stroke-width="1"/>
<line x1="751" y1="13.02" x2="755.5" y2="13.02" stroke="#3a3a3a" stroke-width="1.2"/>
<text x="745.3" y="17.62" font-size="12.8" text-anchor="end" stroke="#2a2a2a" stroke-width="0.2">6</text>
<line x1="758.5" y1="230.3" x2="758.5" y2="235" stroke="#3a3a3a" stroke-width="1.2"/>
<text x="759.3" y="248.7" font-size="11.2" text-anchor="middle" stroke="#2a2a2a" stroke-width="0.2" textLength="37" lengthAdjust="spacingAndGlyphs">-24000</text>
<line x1="781" y1="230.3" x2="781" y2="233" stroke="#3a3a3a" stroke-width="1"/>
<line x1="803.5" y1="230.3" x2="803.5" y2="235" stroke="#3a3a3a" stroke-width="1.2"/>
<text x="804.3" y="248.7" font-size="11.2" text-anchor="middle" stroke="#2a2a2a" stroke-width="0.2" textLength="37" lengthAdjust="spacingAndGlyphs">-16000</text>
<line x1="826" y1="230.3" x2="826" y2="233" stroke="#3a3a3a" stroke-width="1"/>
<line x1="848.5" y1="230.3" x2="848.5" y2="235" stroke="#3a3a3a" stroke-width="1.2"/>
<text x="849.3" y="248.7" font-size="11.2" text-anchor="middle" stroke="#2a2a2a" stroke-width="0.2" textLength="31.5" lengthAdjust="spacingAndGlyphs">-8000</text>
<line x1="871" y1="230.3" x2="871" y2="233" stroke="#3a3a3a" stroke-width="1"/>
<line x1="893.5" y1="230.3" x2="893.5" y2="235" stroke="#3a3a3a" stroke-width="1.2"/>
<text x="893.5" y="248.7" font-size="11.2" text-anchor="middle" stroke="#2a2a2a" stroke-width="0.2">0</text>
<line x1="916" y1="230.3" x2="916" y2="233" stroke="#3a3a3a" stroke-width="1"/>
<line x1="938.5" y1="230.3" x2="938.5" y2="235" stroke="#3a3a3a" stroke-width="1.2"/>
<text x="940.7" y="248.7" font-size="11.2" text-anchor="middle" stroke="#2a2a2a" stroke-width="0.2" textLength="27.4" lengthAdjust="spacingAndGlyphs">8000</text>
<line x1="961" y1="230.3" x2="961" y2="233" stroke="#3a3a3a" stroke-width="1"/>
<line x1="983.5" y1="230.3" x2="983.5" y2="235" stroke="#3a3a3a" stroke-width="1.2"/>
<text x="985.7" y="248.7" font-size="11.2" text-anchor="middle" stroke="#2a2a2a" stroke-width="0.2" textLength="34" lengthAdjust="spacingAndGlyphs">16000</text>
<line x1="1006" y1="230.3" x2="1006" y2="233" stroke="#3a3a3a" stroke-width="1"/>
<line x1="1028.5" y1="230.3" x2="1028.5" y2="235" stroke="#3a3a3a" stroke-width="1.2"/>
<text x="1030.7" y="248.7" font-size="11.2" text-anchor="middle" stroke="#2a2a2a" stroke-width="0.2" textLength="34" lengthAdjust="spacingAndGlyphs">24000</text>
<text x="730" y="120" font-size="15.5" text-anchor="middle" stroke="#2a2a2a" stroke-width="0.2" textLength="104.6" lengthAdjust="spacingAndGlyphs" transform="rotate(-90 730 120)">Moment (emu)</text>
<text x="897.6" y="263.1" font-size="15" text-anchor="middle" stroke="#2a2a2a" stroke-width="0.2" textLength="63.2" lengthAdjust="spacingAndGlyphs">Field (Oe)</text>
<line x1="753.7" y1="5.5" x2="771.3" y2="5.5" stroke="#111111" stroke-width="1.6"/>
<text x="774" y="8.7" font-size="11.5" stroke="#2a2a2a" stroke-width="0.2" textLength="42.7" lengthAdjust="spacingAndGlyphs">100 wt%</text>
<line x1="826" y1="5.5" x2="844.4" y2="5.5" stroke="#c8323a" stroke-width="1.6"/>
<text x="847" y="8.7" font-size="11.5" stroke="#2a2a2a" stroke-width="0.2" textLength="42.7" lengthAdjust="spacingAndGlyphs">200 wt%</text>
<line x1="896.7" y1="5.5" x2="913.3" y2="5.5" stroke="#2a56b0" stroke-width="1.6"/>
<text x="915.9" y="8.7" font-size="11.5" stroke="#2a2a2a" stroke-width="0.2" textLength="42.7" lengthAdjust="spacingAndGlyphs">300 wt%</text>
<line x1="965.2" y1="5.5" x2="982.8" y2="5.5" stroke="#2b8a4e" stroke-width="1.6"/>
<text x="985.4" y="8.7" font-size="11.5" stroke="#2a2a2a" stroke-width="0.2" textLength="42.7" lengthAdjust="spacingAndGlyphs">400 wt%</text>
<text x="5.3" y="273.6" font-size="16.3" fill="#111" font-weight="bold" textLength="10" lengthAdjust="spacingAndGlyphs">D</text>
<rect x="52.6" y="271.3" width="6.4" height="6.4" fill="#474747"/>
<text x="63.3" y="278.3" font-size="11.3" stroke="#2a2a2a" stroke-width="0.2" textLength="42.5" lengthAdjust="spacingAndGlyphs">100 wt%</text>
<path d="M123.3 269.75 L128.05 274.5 L123.3 279.25 L118.55 274.5 Z" fill="#e03b3b"/>
<text x="131.7" y="278.3" font-size="11.3" stroke="#2a2a2a" stroke-width="0.2" textLength="42.5" lengthAdjust="spacingAndGlyphs">200 wt%</text>
<path d="M194 270 L198.32 277.56 L189.68 277.56 Z" fill="#2e6cd3"/>
<text x="202.7" y="278.3" font-size="11.3" stroke="#2a2a2a" stroke-width="0.2" textLength="42.4" lengthAdjust="spacingAndGlyphs">300 wt%</text>
<circle cx="266.9" cy="274.5" r="4.3" fill="#3ca85f"/>
<text x="275.3" y="278.3" font-size="11.3" stroke="#2a2a2a" stroke-width="0.2" textLength="42" lengthAdjust="spacingAndGlyphs">400 wt%</text>
<line x1="40" y1="490.1" x2="330.8" y2="490.1" stroke="#dcdcdc" stroke-width="0.9" stroke-dasharray="1.5 1.5"/>
<line x1="40" y1="455.8" x2="330.8" y2="455.8" stroke="#dcdcdc" stroke-width="0.9" stroke-dasharray="1.5 1.5"/>
<line x1="40" y1="421.5" x2="330.8" y2="421.5" stroke="#dcdcdc" stroke-width="0.9" stroke-dasharray="1.5 1.5"/>
<line x1="40" y1="387.2" x2="330.8" y2="387.2" stroke="#dcdcdc" stroke-width="0.9" stroke-dasharray="1.5 1.5"/>
<line x1="40" y1="352.9" x2="330.8" y2="352.9" stroke="#dcdcdc" stroke-width="0.9" stroke-dasharray="1.5 1.5"/>
<line x1="40" y1="318.6" x2="330.8" y2="318.6" stroke="#dcdcdc" stroke-width="0.9" stroke-dasharray="1.5 1.5"/>
<line x1="40" y1="284.3" x2="330.8" y2="284.3" stroke="#dcdcdc" stroke-width="0.9" stroke-dasharray="1.5 1.5"/>
<line x1="73.1" y1="284.4" x2="73.1" y2="507.6" stroke="#dcdcdc" stroke-width="0.9" stroke-dasharray="1.5 1.5"/>
<line x1="133.8" y1="284.4" x2="133.8" y2="507.6" stroke="#dcdcdc" stroke-width="0.9" stroke-dasharray="1.5 1.5"/>
<line x1="194.5" y1="284.4" x2="194.5" y2="507.6" stroke="#dcdcdc" stroke-width="0.9" stroke-dasharray="1.5 1.5"/>
<line x1="255.2" y1="284.4" x2="255.2" y2="507.6" stroke="#dcdcdc" stroke-width="0.9" stroke-dasharray="1.5 1.5"/>
<line x1="315.9" y1="284.4" x2="315.9" y2="507.6" stroke="#dcdcdc" stroke-width="0.9" stroke-dasharray="1.5 1.5"/>
<g>
<rect x="57.8" y="291.3" width="15.3" height="71.3" fill="#1b4b8b"/>
<text x="65.4" y="330.2" font-size="11" text-anchor="middle" fill="#f0f4ff" font-weight="bold">S</text>
<rect x="159.8" y="291.6" width="14.2" height="70.4" fill="#e94646"/>
<text x="166.9" y="330.2" font-size="11" text-anchor="middle" fill="#fff0f0" font-weight="bold">N</text>
<text x="88.8" y="297.6" font-size="7.8" fill="#3a3a3a" font-weight="bold" textLength="57.5" lengthAdjust="spacingAndGlyphs">Anisotropic MRE</text>
<path d="M92.1 310.9 L133 310.9 L133 348.2 L92.1 348.2 Z M92.1 310.9 L98.1 304.3 L139.7 304.3 L139.7 341.6 L133 348.2 M133 310.9 L139.7 304.3" fill="none" stroke="#8a8a8a" stroke-width="0.6"/>
<circle cx="96.9" cy="314.5" r="2.05" fill="#1a6a70"/>
<circle cx="96.9" cy="317.11" r="2.05" fill="#1a6a70"/>
<circle cx="96.9" cy="319.72" r="2.05" fill="#1a6a70"/>
<circle cx="96.9" cy="322.32" r="2.05" fill="#1a6a70"/>
<circle cx="96.9" cy="324.93" r="2.05" fill="#1a6a70"/>
<circle cx="96.9" cy="327.54" r="2.05" fill="#1a6a70"/>
<circle cx="96.9" cy="330.15" r="2.05" fill="#1a6a70"/>
<circle cx="96.9" cy="332.76" r="2.05" fill="#1a6a70"/>
<circle cx="96.9" cy="335.37" r="2.05" fill="#1a6a70"/>
<circle cx="96.9" cy="337.98" r="2.05" fill="#1a6a70"/>
<circle cx="96.9" cy="340.58" r="2.05" fill="#1a6a70"/>
<circle cx="96.9" cy="343.19" r="2.05" fill="#1a6a70"/>
<circle cx="96.9" cy="345.8" r="2.05" fill="#1a6a70"/>
<circle cx="103" cy="307.3" r="2.05" fill="#1a6a70"/>
<circle cx="103" cy="309.94" r="2.05" fill="#1a6a70"/>
<circle cx="103" cy="312.58" r="2.05" fill="#1a6a70"/>
<circle cx="103" cy="315.22" r="2.05" fill="#1a6a70"/>
<circle cx="103" cy="317.85" r="2.05" fill="#1a6a70"/>
<circle cx="103" cy="320.49" r="2.05" fill="#1a6a70"/>
<circle cx="103" cy="323.13" r="2.05" fill="#1a6a70"/>
<circle cx="103" cy="325.77" r="2.05" fill="#1a6a70"/>
<circle cx="103" cy="328.41" r="2.05" fill="#1a6a70"/>
<circle cx="103" cy="331.05" r="2.05" fill="#1a6a70"/>
<circle cx="103" cy="333.68" r="2.05" fill="#1a6a70"/>
<circle cx="103" cy="336.32" r="2.05" fill="#1a6a70"/>
<circle cx="103" cy="338.96" r="2.05" fill="#1a6a70"/>
<circle cx="103" cy="341.6" r="2.05" fill="#1a6a70"/>
<circle cx="109.2" cy="313.9" r="2.05" fill="#1a6a70"/>
<circle cx="109.2" cy="316.56" r="2.05" fill="#1a6a70"/>
<circle cx="109.2" cy="319.22" r="2.05" fill="#1a6a70"/>
<circle cx="109.2" cy="321.88" r="2.05" fill="#1a6a70"/>
<circle cx="109.2" cy="324.53" r="2.05" fill="#1a6a70"/>
<circle cx="109.2" cy="327.19" r="2.05" fill="#1a6a70"/>
<circle cx="109.2" cy="329.85" r="2.05" fill="#1a6a70"/>
<circle cx="109.2" cy="332.51" r="2.05" fill="#1a6a70"/>
<circle cx="109.2" cy="335.17" r="2.05" fill="#1a6a70"/>
<circle cx="109.2" cy="337.82" r="2.05" fill="#1a6a70"/>
<circle cx="109.2" cy="340.48" r="2.05" fill="#1a6a70"/>
<circle cx="109.2" cy="343.14" r="2.05" fill="#1a6a70"/>
<circle cx="109.2" cy="345.8" r="2.05" fill="#1a6a70"/>
<circle cx="115.2" cy="307.6" r="2.05" fill="#1a6a70"/>
<circle cx="115.2" cy="310.31" r="2.05" fill="#1a6a70"/>
<circle cx="115.2" cy="313.02" r="2.05" fill="#1a6a70"/>
<circle cx="115.2" cy="315.72" r="2.05" fill="#1a6a70"/>
<circle cx="115.2" cy="318.43" r="2.05" fill="#1a6a70"/>
<circle cx="115.2" cy="321.14" r="2.05" fill="#1a6a70"/>
<circle cx="115.2" cy="323.85" r="2.05" fill="#1a6a70"/>
<circle cx="115.2" cy="326.55" r="2.05" fill="#1a6a70"/>
<circle cx="115.2" cy="329.26" r="2.05" fill="#1a6a70"/>
<circle cx="115.2" cy="331.97" r="2.05" fill="#1a6a70"/>
<circle cx="115.2" cy="334.68" r="2.05" fill="#1a6a70"/>
<circle cx="115.2" cy="337.38" r="2.05" fill="#1a6a70"/>
<circle cx="115.2" cy="340.09" r="2.05" fill="#1a6a70"/>
<circle cx="115.2" cy="342.8" r="2.05" fill="#1a6a70"/>
<circle cx="121.9" cy="314.5" r="2.05" fill="#1a6a70"/>
<circle cx="121.9" cy="317.11" r="2.05" fill="#1a6a70"/>
<circle cx="121.9" cy="319.72" r="2.05" fill="#1a6a70"/>
<circle cx="121.9" cy="322.32" r="2.05" fill="#1a6a70"/>
<circle cx="121.9" cy="324.93" r="2.05" fill="#1a6a70"/>
<circle cx="121.9" cy="327.54" r="2.05" fill="#1a6a70"/>
<circle cx="121.9" cy="330.15" r="2.05" fill="#1a6a70"/>
<circle cx="121.9" cy="332.76" r="2.05" fill="#1a6a70"/>
<circle cx="121.9" cy="335.37" r="2.05" fill="#1a6a70"/>
<circle cx="121.9" cy="337.98" r="2.05" fill="#1a6a70"/>
<circle cx="121.9" cy="340.58" r="2.05" fill="#1a6a70"/>
<circle cx="121.9" cy="343.19" r="2.05" fill="#1a6a70"/>
<circle cx="121.9" cy="345.8" r="2.05" fill="#1a6a70"/>
<circle cx="128.5" cy="307.3" r="2.05" fill="#1a6a70"/>
<circle cx="128.5" cy="309.94" r="2.05" fill="#1a6a70"/>
<circle cx="128.5" cy="312.58" r="2.05" fill="#1a6a70"/>
<circle cx="128.5" cy="315.22" r="2.05" fill="#1a6a70"/>
<circle cx="128.5" cy="317.85" r="2.05" fill="#1a6a70"/>
<circle cx="128.5" cy="320.49" r="2.05" fill="#1a6a70"/>
<circle cx="128.5" cy="323.13" r="2.05" fill="#1a6a70"/>
<circle cx="128.5" cy="325.77" r="2.05" fill="#1a6a70"/>
<circle cx="128.5" cy="328.41" r="2.05" fill="#1a6a70"/>
<circle cx="128.5" cy="331.05" r="2.05" fill="#1a6a70"/>
<circle cx="128.5" cy="333.68" r="2.05" fill="#1a6a70"/>
<circle cx="128.5" cy="336.32" r="2.05" fill="#1a6a70"/>
<circle cx="128.5" cy="338.96" r="2.05" fill="#1a6a70"/>
<circle cx="128.5" cy="341.6" r="2.05" fill="#1a6a70"/>
<circle cx="134.3" cy="312.1" r="2.05" fill="#1a6a70"/>
<circle cx="134.3" cy="314.89" r="2.05" fill="#1a6a70"/>
<circle cx="134.3" cy="317.68" r="2.05" fill="#1a6a70"/>
<circle cx="134.3" cy="320.47" r="2.05" fill="#1a6a70"/>
<circle cx="134.3" cy="323.26" r="2.05" fill="#1a6a70"/>
<circle cx="134.3" cy="326.05" r="2.05" fill="#1a6a70"/>
<circle cx="134.3" cy="328.85" r="2.05" fill="#1a6a70"/>
<circle cx="134.3" cy="331.64" r="2.05" fill="#1a6a70"/>
<circle cx="134.3" cy="334.43" r="2.05" fill="#1a6a70"/>
<circle cx="134.3" cy="337.22" r="2.05" fill="#1a6a70"/>
<circle cx="134.3" cy="340.01" r="2.05" fill="#1a6a70"/>
<circle cx="134.3" cy="342.8" r="2.05" fill="#1a6a70"/>
<line x1="133" y1="353" x2="97" y2="353" stroke="#e07070" stroke-width="0.8"/>
<path d="M94.5 353 L98.5 351.3 L98.5 354.7 Z" fill="#e07070"/>
<text x="88.8" y="364.8" font-size="7.8" fill="#3a3a3a" font-weight="bold" textLength="56.3" lengthAdjust="spacingAndGlyphs">Pulling direction</text>
</g>
<path d="M73.1 476.12 L79.71 475.52 L86.32 474.92 L92.92 474.32 L99.53 473.72 L106.14 473.12 L112.75 472.51 L119.35 471.91 L125.96 471.31 L132.57 470.71 L139.18 470.11 L145.78 469.51 L152.39 468.91 L159 468.31 L165.61 467.72 L172.22 467.12 L178.82 466.52 L185.43 465.92 L192.04 465.32 L198.65 464.72 L205.25 464.13 L211.86 463.53 L218.47 462.93 L225.08 462.34 L231.68 461.74 L238.29 461.14 L244.9 460.55 L251.51 459.95 L258.12 459.36 L264.72 458.76 L271.33 458.17 L277.94 457.57 L284.55 456.98 L291.15 456.39 L297.76 455.79 L304.37 455.2 L310.98 454.61 L317.58 454.01 L324.19 453.42 L330.8 452.83" fill="none" stroke="#9c9c9c" stroke-width="1.3"/>
<path d="M73.1 463.75 L79.71 461.3 L86.32 458.89 L92.92 456.54 L99.53 454.23 L106.14 451.98 L112.75 449.79 L119.35 447.64 L125.96 445.54 L132.57 443.5 L139.18 441.51 L145.78 439.56 L152.39 437.67 L159 435.84 L165.61 434.05 L172.22 432.31 L178.82 430.63 L185.43 429 L192.04 427.42 L198.65 425.89 L205.25 424.41 L211.86 422.99 L218.47 421.61 L225.08 420.29 L231.68 419.02 L238.29 417.8 L244.9 416.63 L251.51 415.51 L258.12 414.45 L264.72 413.43 L271.33 412.47 L277.94 411.56 L284.55 410.7 L291.15 409.9 L297.76 409.14 L304.37 408.44 L310.98 407.78 L317.58 407.18 L324.19 406.63 L330.8 406.13" fill="none" stroke="#cf6d6d" stroke-width="1.3"/>
<path d="M73.1 457.82 L79.71 453.51 L86.32 449.27 L92.92 445.1 L99.53 441 L106.14 436.96 L112.75 433 L119.35 429.1 L125.96 425.27 L132.57 421.51 L139.18 417.82 L145.78 414.19 L152.39 410.64 L159 407.15 L165.61 403.73 L172.22 400.38 L178.82 397.1 L185.43 393.89 L192.04 390.74 L198.65 387.66 L205.25 384.65 L211.86 381.71 L218.47 378.84 L225.08 376.04 L231.68 373.3 L238.29 370.64 L244.9 368.04 L251.51 365.51 L258.12 363.05 L264.72 360.66 L271.33 358.33 L277.94 356.08 L284.55 353.89 L291.15 351.77 L297.76 349.72 L304.37 347.73 L310.98 345.82 L317.58 343.97 L324.19 342.2 L330.8 340.49" fill="none" stroke="#5a78aa" stroke-width="1.3"/>
<path d="M73.1 441.09 L79.71 437.24 L86.32 433.4 L92.92 429.59 L99.53 425.79 L106.14 422.01 L112.75 418.25 L119.35 414.51 L125.96 410.79 L132.57 407.08 L139.18 403.39 L145.78 399.73 L152.39 396.08 L159 392.45 L165.61 388.84 L172.22 385.24 L178.82 381.67 L185.43 378.11 L192.04 374.58 L198.65 371.06 L205.25 367.56 L211.86 364.08 L218.47 360.61 L225.08 357.17 L231.68 353.74 L238.29 350.34 L244.9 346.95 L251.51 343.58 L258.12 340.23 L264.72 336.89 L271.33 333.58 L277.94 330.28 L284.55 327.01 L291.15 323.75 L297.76 320.51 L304.37 317.29 L310.98 314.09 L317.58 310.9 L324.19 307.74 L330.8 304.59" fill="none" stroke="#629474" stroke-width="1.3"/>
<line x1="73.1" y1="471.58" x2="73.1" y2="478.44" stroke="#6a6a6a" stroke-width="1.1"/>
<line x1="68.9" y1="471.58" x2="77.3" y2="471.58" stroke="#6a6a6a" stroke-width="1.21"/>
<line x1="68.9" y1="478.44" x2="77.3" y2="478.44" stroke="#6a6a6a" stroke-width="1.21"/>
<line x1="133.8" y1="464.99" x2="133.8" y2="475.97" stroke="#6a6a6a" stroke-width="1.1"/>
<line x1="129.6" y1="464.99" x2="138" y2="464.99" stroke="#6a6a6a" stroke-width="1.21"/>
<line x1="129.6" y1="475.97" x2="138" y2="475.97" stroke="#6a6a6a" stroke-width="1.21"/>
<line x1="179.32" y1="460.4" x2="179.32" y2="472.74" stroke="#6a6a6a" stroke-width="1.1"/>
<line x1="175.12" y1="460.4" x2="183.52" y2="460.4" stroke="#6a6a6a" stroke-width="1.21"/>
<line x1="175.12" y1="472.74" x2="183.52" y2="472.74" stroke="#6a6a6a" stroke-width="1.21"/>
<line x1="224.85" y1="454.91" x2="224.85" y2="467.26" stroke="#6a6a6a" stroke-width="1.1"/>
<line x1="220.65" y1="454.91" x2="229.05" y2="454.91" stroke="#6a6a6a" stroke-width="1.21"/>
<line x1="220.65" y1="467.26" x2="229.05" y2="467.26" stroke="#6a6a6a" stroke-width="1.21"/>
<line x1="288.58" y1="449.63" x2="288.58" y2="461.97" stroke="#6a6a6a" stroke-width="1.1"/>
<line x1="284.38" y1="449.63" x2="292.78" y2="449.63" stroke="#6a6a6a" stroke-width="1.21"/>
<line x1="284.38" y1="461.97" x2="292.78" y2="461.97" stroke="#6a6a6a" stroke-width="1.21"/>
<rect x="69.5" y="471.41" width="7.2" height="7.2" fill="#4a4a4a"/>
<rect x="130.2" y="466.88" width="7.2" height="7.2" fill="#4a4a4a"/>
<rect x="175.72" y="462.97" width="7.2" height="7.2" fill="#4a4a4a"/>
<rect x="221.25" y="457.48" width="7.2" height="7.2" fill="#4a4a4a"/>
<rect x="284.98" y="452.2" width="7.2" height="7.2" fill="#4a4a4a"/>
<line x1="73.1" y1="462.66" x2="73.1" y2="469.52" stroke="#b84a4a" stroke-width="1.1"/>
<line x1="68.9" y1="462.66" x2="77.3" y2="462.66" stroke="#b84a4a" stroke-width="1.21"/>
<line x1="68.9" y1="469.52" x2="77.3" y2="469.52" stroke="#b84a4a" stroke-width="1.21"/>
<line x1="133.8" y1="437.42" x2="133.8" y2="453.19" stroke="#b84a4a" stroke-width="1.1"/>
<line x1="129.6" y1="437.42" x2="138" y2="437.42" stroke="#b84a4a" stroke-width="1.21"/>
<line x1="129.6" y1="453.19" x2="138" y2="453.19" stroke="#b84a4a" stroke-width="1.21"/>
<line x1="179.32" y1="420.13" x2="179.32" y2="440.71" stroke="#b84a4a" stroke-width="1.1"/>
<line x1="175.12" y1="420.13" x2="183.52" y2="420.13" stroke="#b84a4a" stroke-width="1.21"/>
<line x1="175.12" y1="440.71" x2="183.52" y2="440.71" stroke="#b84a4a" stroke-width="1.21"/>
<line x1="224.85" y1="409.84" x2="224.85" y2="430.42" stroke="#b84a4a" stroke-width="1.1"/>
<line x1="220.65" y1="409.84" x2="229.05" y2="409.84" stroke="#b84a4a" stroke-width="1.21"/>
<line x1="220.65" y1="430.42" x2="229.05" y2="430.42" stroke="#b84a4a" stroke-width="1.21"/>
<line x1="288.58" y1="396.8" x2="288.58" y2="421.5" stroke="#b84a4a" stroke-width="1.1"/>
<line x1="284.38" y1="396.8" x2="292.78" y2="396.8" stroke="#b84a4a" stroke-width="1.21"/>
<line x1="284.38" y1="421.5" x2="292.78" y2="421.5" stroke="#b84a4a" stroke-width="1.21"/>
<path d="M73.1 461.47 L77.72 466.09 L73.1 470.72 L68.47 466.09 Z" fill="#b3131c"/>
<path d="M133.8 440.68 L138.43 445.3 L133.8 449.93 L129.18 445.3 Z" fill="#b3131c"/>
<path d="M179.32 425.79 L183.95 430.42 L179.32 435.04 L174.7 430.42 Z" fill="#b3131c"/>
<path d="M224.85 415.5 L229.47 420.13 L224.85 424.75 L220.22 420.13 Z" fill="#b3131c"/>
<path d="M288.58 404.53 L293.21 409.15 L288.58 413.78 L283.96 409.15 Z" fill="#b3131c"/>
<line x1="73.1" y1="452.37" x2="73.1" y2="464.72" stroke="#3b5f9a" stroke-width="1.1"/>
<line x1="68.9" y1="452.37" x2="77.3" y2="452.37" stroke="#3b5f9a" stroke-width="1.21"/>
<line x1="68.9" y1="464.72" x2="77.3" y2="464.72" stroke="#3b5f9a" stroke-width="1.21"/>
<line x1="133.8" y1="419.85" x2="133.8" y2="434.95" stroke="#3b5f9a" stroke-width="1.1"/>
<line x1="129.6" y1="419.85" x2="138" y2="419.85" stroke="#3b5f9a" stroke-width="1.21"/>
<line x1="129.6" y1="434.95" x2="138" y2="434.95" stroke="#3b5f9a" stroke-width="1.21"/>
<line x1="179.32" y1="392.35" x2="179.32" y2="419.1" stroke="#3b5f9a" stroke-width="1.1"/>
<line x1="175.12" y1="392.35" x2="183.52" y2="392.35" stroke="#3b5f9a" stroke-width="1.21"/>
<line x1="175.12" y1="419.1" x2="183.52" y2="419.1" stroke="#3b5f9a" stroke-width="1.21"/>
<line x1="224.85" y1="363.88" x2="224.85" y2="392.69" stroke="#3b5f9a" stroke-width="1.1"/>
<line x1="220.65" y1="363.88" x2="229.05" y2="363.88" stroke="#3b5f9a" stroke-width="1.21"/>
<line x1="220.65" y1="392.69" x2="229.05" y2="392.69" stroke="#3b5f9a" stroke-width="1.21"/>
<line x1="288.58" y1="337.47" x2="288.58" y2="366.96" stroke="#3b5f9a" stroke-width="1.1"/>
<line x1="284.38" y1="337.47" x2="292.78" y2="337.47" stroke="#3b5f9a" stroke-width="1.21"/>
<line x1="284.38" y1="366.96" x2="292.78" y2="366.96" stroke="#3b5f9a" stroke-width="1.21"/>
<path d="M73.1 453.54 L77.9 461.94 L68.3 461.94 Z" fill="#1b4c9c"/>
<path d="M133.8 422.4 L138.6 430.8 L129 430.8 Z" fill="#1b4c9c"/>
<path d="M179.32 400.72 L184.12 409.12 L174.52 409.12 Z" fill="#1b4c9c"/>
<path d="M224.85 373.28 L229.65 381.68 L220.05 381.68 Z" fill="#1b4c9c"/>
<path d="M288.58 347.21 L293.38 355.61 L283.78 355.61 Z" fill="#1b4c9c"/>
<line x1="73.1" y1="437.42" x2="73.1" y2="448.39" stroke="#4e7e62" stroke-width="1.1"/>
<line x1="68.9" y1="437.42" x2="77.3" y2="437.42" stroke="#4e7e62" stroke-width="1.21"/>
<line x1="68.9" y1="448.39" x2="77.3" y2="448.39" stroke="#4e7e62" stroke-width="1.21"/>
<line x1="133.8" y1="393.03" x2="133.8" y2="406.75" stroke="#4e7e62" stroke-width="1.1"/>
<line x1="129.6" y1="393.03" x2="138" y2="393.03" stroke="#4e7e62" stroke-width="1.21"/>
<line x1="129.6" y1="406.75" x2="138" y2="406.75" stroke="#4e7e62" stroke-width="1.21"/>
<line x1="179.32" y1="362.16" x2="179.32" y2="388.23" stroke="#4e7e62" stroke-width="1.1"/>
<line x1="175.12" y1="362.16" x2="183.52" y2="362.16" stroke="#4e7e62" stroke-width="1.21"/>
<line x1="175.12" y1="388.23" x2="183.52" y2="388.23" stroke="#4e7e62" stroke-width="1.21"/>
<line x1="224.85" y1="328.2" x2="224.85" y2="355.64" stroke="#4e7e62" stroke-width="1.1"/>
<line x1="220.65" y1="328.2" x2="229.05" y2="328.2" stroke="#4e7e62" stroke-width="1.21"/>
<line x1="220.65" y1="355.64" x2="229.05" y2="355.64" stroke="#4e7e62" stroke-width="1.21"/>
<line x1="288.58" y1="303.03" x2="288.58" y2="337.33" stroke="#4e7e62" stroke-width="1.1"/>
<line x1="284.38" y1="303.03" x2="292.78" y2="303.03" stroke="#4e7e62" stroke-width="1.21"/>
<line x1="284.38" y1="337.33" x2="292.78" y2="337.33" stroke="#4e7e62" stroke-width="1.21"/>
<circle cx="73.1" cy="442.9" r="3.7" fill="#136e31"/>
<circle cx="133.8" cy="399.89" r="3.7" fill="#136e31"/>
<circle cx="179.32" cy="375.2" r="3.7" fill="#136e31"/>
<circle cx="224.85" cy="341.92" r="3.7" fill="#136e31"/>
<circle cx="288.58" cy="320.18" r="3.7" fill="#136e31"/>
<rect x="40" y="284.4" width="290.8" height="223.2" fill="none" stroke="#3a3a3a" stroke-width="1.4"/>
<line x1="40" y1="490.1" x2="44.3" y2="490.1" stroke="#3a3a3a" stroke-width="1.2"/>
<line x1="40" y1="455.8" x2="44.3" y2="455.8" stroke="#3a3a3a" stroke-width="1.2"/>
<line x1="40" y1="421.5" x2="44.3" y2="421.5" stroke="#3a3a3a" stroke-width="1.2"/>
<line x1="40" y1="387.2" x2="44.3" y2="387.2" stroke="#3a3a3a" stroke-width="1.2"/>
<line x1="40" y1="352.9" x2="44.3" y2="352.9" stroke="#3a3a3a" stroke-width="1.2"/>
<line x1="40" y1="318.6" x2="44.3" y2="318.6" stroke="#3a3a3a" stroke-width="1.2"/>
<line x1="40" y1="472.95" x2="42.6" y2="472.95" stroke="#3a3a3a" stroke-width="1"/>
<line x1="40" y1="438.65" x2="42.6" y2="438.65" stroke="#3a3a3a" stroke-width="1"/>
<line x1="40" y1="404.35" x2="42.6" y2="404.35" stroke="#3a3a3a" stroke-width="1"/>
<line x1="40" y1="370.05" x2="42.6" y2="370.05" stroke="#3a3a3a" stroke-width="1"/>
<line x1="40" y1="335.75" x2="42.6" y2="335.75" stroke="#3a3a3a" stroke-width="1"/>
<text x="35.3" y="494.2" font-size="11.5" text-anchor="end" stroke="#2a2a2a" stroke-width="0.2">0</text>
<text x="35.3" y="459.9" font-size="11.5" text-anchor="end" stroke="#2a2a2a" stroke-width="0.2">0.5</text>
<text x="35.3" y="425.6" font-size="11.5" text-anchor="end" stroke="#2a2a2a" stroke-width="0.2">1</text>
<text x="35.3" y="391.3" font-size="11.5" text-anchor="end" stroke="#2a2a2a" stroke-width="0.2">1.5</text>
<text x="35.3" y="357" font-size="11.5" text-anchor="end" stroke="#2a2a2a" stroke-width="0.2">2</text>
<text x="35.3" y="322.7" font-size="11.5" text-anchor="end" stroke="#2a2a2a" stroke-width="0.2">2.5</text>
<text x="35.3" y="288.4" font-size="11.5" text-anchor="end" stroke="#2a2a2a" stroke-width="0.2">3</text>
<line x1="42.75" y1="507.6" x2="42.75" y2="511.9" stroke="#3a3a3a" stroke-width="1.2"/>
<line x1="57.92" y1="507.6" x2="57.92" y2="510.4" stroke="#3a3a3a" stroke-width="1"/>
<line x1="73.1" y1="507.6" x2="73.1" y2="511.9" stroke="#3a3a3a" stroke-width="1.2"/>
<line x1="88.27" y1="507.6" x2="88.27" y2="510.4" stroke="#3a3a3a" stroke-width="1"/>
<line x1="103.45" y1="507.6" x2="103.45" y2="511.9" stroke="#3a3a3a" stroke-width="1.2"/>
<line x1="118.62" y1="507.6" x2="118.62" y2="510.4" stroke="#3a3a3a" stroke-width="1"/>
<line x1="133.8" y1="507.6" x2="133.8" y2="511.9" stroke="#3a3a3a" stroke-width="1.2"/>
<line x1="148.97" y1="507.6" x2="148.97" y2="510.4" stroke="#3a3a3a" stroke-width="1"/>
<line x1="164.15" y1="507.6" x2="164.15" y2="511.9" stroke="#3a3a3a" stroke-width="1.2"/>
<line x1="179.32" y1="507.6" x2="179.32" y2="510.4" stroke="#3a3a3a" stroke-width="1"/>
<line x1="194.5" y1="507.6" x2="194.5" y2="511.9" stroke="#3a3a3a" stroke-width="1.2"/>
<line x1="209.67" y1="507.6" x2="209.67" y2="510.4" stroke="#3a3a3a" stroke-width="1"/>
<line x1="224.85" y1="507.6" x2="224.85" y2="511.9" stroke="#3a3a3a" stroke-width="1.2"/>
<line x1="240.02" y1="507.6" x2="240.02" y2="510.4" stroke="#3a3a3a" stroke-width="1"/>
<line x1="255.2" y1="507.6" x2="255.2" y2="511.9" stroke="#3a3a3a" stroke-width="1.2"/>
<line x1="270.38" y1="507.6" x2="270.38" y2="510.4" stroke="#3a3a3a" stroke-width="1"/>
<line x1="285.55" y1="507.6" x2="285.55" y2="511.9" stroke="#3a3a3a" stroke-width="1.2"/>
<line x1="300.73" y1="507.6" x2="300.73" y2="510.4" stroke="#3a3a3a" stroke-width="1"/>
<line x1="315.9" y1="507.6" x2="315.9" y2="511.9" stroke="#3a3a3a" stroke-width="1.2"/>
<text x="73.1" y="523.8" font-size="11.5" text-anchor="middle" stroke="#2a2a2a" stroke-width="0.2">0</text>
<text x="133.8" y="523.8" font-size="11.5" text-anchor="middle" stroke="#2a2a2a" stroke-width="0.2" textLength="16" lengthAdjust="spacingAndGlyphs">0.1</text>
<text x="194.5" y="523.8" font-size="11.5" text-anchor="middle" stroke="#2a2a2a" stroke-width="0.2" textLength="16" lengthAdjust="spacingAndGlyphs">0.2</text>
<text x="255.2" y="523.8" font-size="11.5" text-anchor="middle" stroke="#2a2a2a" stroke-width="0.2" textLength="16" lengthAdjust="spacingAndGlyphs">0.3</text>
<text x="315.9" y="523.8" font-size="11.5" text-anchor="middle" stroke="#2a2a2a" stroke-width="0.2" textLength="16" lengthAdjust="spacingAndGlyphs">0.4</text>
<text x="12" y="396" font-size="15" text-anchor="middle" stroke="#2a2a2a" stroke-width="0.2" textLength="146" lengthAdjust="spacingAndGlyphs" transform="rotate(-90 12 396)">Strain modulus E (MPa)</text>
<text x="115.6" y="540.3" font-size="15" textLength="125" lengthAdjust="spacingAndGlyphs">Magnetic field <tspan font-family="'Liberation Serif', serif" font-style="italic" font-size="16">B</tspan> (T)</text>
<text x="354.7" y="273.6" font-size="16.3" fill="#111" font-weight="bold" textLength="7.5" lengthAdjust="spacingAndGlyphs">E</text>
<rect x="403.4" y="271.3" width="6.4" height="6.4" fill="#474747"/>
<text x="414.3" y="278.3" font-size="11.3" stroke="#2a2a2a" stroke-width="0.2" textLength="42.5" lengthAdjust="spacingAndGlyphs">100 wt%</text>
<path d="M474.1 269.75 L478.85 274.5 L474.1 279.25 L469.35 274.5 Z" fill="#e03b3b"/>
<text x="482.7" y="278.3" font-size="11.3" stroke="#2a2a2a" stroke-width="0.2" textLength="42.5" lengthAdjust="spacingAndGlyphs">200 wt%</text>
<path d="M545 270 L549.32 277.56 L540.68 277.56 Z" fill="#2e6cd3"/>
<text x="553.2" y="278.3" font-size="11.3" stroke="#2a2a2a" stroke-width="0.2" textLength="42.4" lengthAdjust="spacingAndGlyphs">300 wt%</text>
<circle cx="618" cy="274.5" r="4.3" fill="#3ca85f"/>
<text x="626.1" y="278.3" font-size="11.3" stroke="#2a2a2a" stroke-width="0.2" textLength="42" lengthAdjust="spacingAndGlyphs">400 wt%</text>
<line x1="392.3" y1="490.3" x2="683.1" y2="490.3" stroke="#dcdcdc" stroke-width="0.9" stroke-dasharray="1.5 1.5"/>
<line x1="392.3" y1="456" x2="683.1" y2="456" stroke="#dcdcdc" stroke-width="0.9" stroke-dasharray="1.5 1.5"/>
<line x1="392.3" y1="421.7" x2="683.1" y2="421.7" stroke="#dcdcdc" stroke-width="0.9" stroke-dasharray="1.5 1.5"/>
<line x1="392.3" y1="387.4" x2="683.1" y2="387.4" stroke="#dcdcdc" stroke-width="0.9" stroke-dasharray="1.5 1.5"/>
<line x1="392.3" y1="353.1" x2="683.1" y2="353.1" stroke="#dcdcdc" stroke-width="0.9" stroke-dasharray="1.5 1.5"/>
<line x1="392.3" y1="318.8" x2="683.1" y2="318.8" stroke="#dcdcdc" stroke-width="0.9" stroke-dasharray="1.5 1.5"/>
<line x1="392.3" y1="284.5" x2="683.1" y2="284.5" stroke="#dcdcdc" stroke-width="0.9" stroke-dasharray="1.5 1.5"/>
<line x1="425.8" y1="284.4" x2="425.8" y2="507.6" stroke="#dcdcdc" stroke-width="0.9" stroke-dasharray="1.5 1.5"/>
<line x1="486.5" y1="284.4" x2="486.5" y2="507.6" stroke="#dcdcdc" stroke-width="0.9" stroke-dasharray="1.5 1.5"/>
<line x1="547.2" y1="284.4" x2="547.2" y2="507.6" stroke="#dcdcdc" stroke-width="0.9" stroke-dasharray="1.5 1.5"/>
<line x1="607.9" y1="284.4" x2="607.9" y2="507.6" stroke="#dcdcdc" stroke-width="0.9" stroke-dasharray="1.5 1.5"/>
<line x1="668.6" y1="284.4" x2="668.6" y2="507.6" stroke="#dcdcdc" stroke-width="0.9" stroke-dasharray="1.5 1.5"/>
<rect x="419.4" y="296.5" width="79" height="11" fill="#e94646"/>
<text x="458.9" y="305.8" font-size="10" text-anchor="middle" fill="#ffffff" stroke="#ffffff" stroke-width="0.2">N</text>
<text x="463" y="315.8" font-size="7.8" text-anchor="middle" fill="#3a3a3a" font-weight="bold" textLength="60" lengthAdjust="spacingAndGlyphs">Pulling direction</text>
<line x1="440.7" y1="320.2" x2="486" y2="320.2" stroke="#e07070" stroke-width="0.8"/>
<path d="M489 320.2 L485 318.5 L485 321.9 Z" fill="#e07070"/>
<path d="M446 324 L471 324 L474.8 328 L474.8 356 L449 356 L446 352 Z" fill="#f4f6f6" stroke="#8a8a8a" stroke-width="0.6"/>
<circle cx="447.5" cy="327.5" r="1.9" fill="#1a6a70"/>
<circle cx="450.19" cy="327.5" r="1.9" fill="#1a6a70"/>
<circle cx="452.88" cy="327.5" r="1.9" fill="#1a6a70"/>
<circle cx="455.56" cy="327.5" r="1.9" fill="#1a6a70"/>
<circle cx="458.25" cy="327.5" r="1.9" fill="#1a6a70"/>
<circle cx="460.94" cy="327.5" r="1.9" fill="#1a6a70"/>
<circle cx="463.62" cy="327.5" r="1.9" fill="#1a6a70"/>
<circle cx="466.31" cy="327.5" r="1.9" fill="#1a6a70"/>
<circle cx="469" cy="327.5" r="1.9" fill="#1a6a70"/>
<circle cx="449.5" cy="331.7" r="1.9" fill="#1a6a70"/>
<circle cx="452.11" cy="331.7" r="1.9" fill="#1a6a70"/>
<circle cx="454.72" cy="331.7" r="1.9" fill="#1a6a70"/>
<circle cx="457.33" cy="331.7" r="1.9" fill="#1a6a70"/>
<circle cx="459.94" cy="331.7" r="1.9" fill="#1a6a70"/>
<circle cx="462.56" cy="331.7" r="1.9" fill="#1a6a70"/>
<circle cx="465.17" cy="331.7" r="1.9" fill="#1a6a70"/>
<circle cx="467.78" cy="331.7" r="1.9" fill="#1a6a70"/>
<circle cx="470.39" cy="331.7" r="1.9" fill="#1a6a70"/>
<circle cx="473" cy="331.7" r="1.9" fill="#1a6a70"/>
<circle cx="447.5" cy="335.9" r="1.9" fill="#1a6a70"/>
<circle cx="450" cy="335.9" r="1.9" fill="#1a6a70"/>
<circle cx="452.5" cy="335.9" r="1.9" fill="#1a6a70"/>
<circle cx="455" cy="335.9" r="1.9" fill="#1a6a70"/>
<circle cx="457.5" cy="335.9" r="1.9" fill="#1a6a70"/>
<circle cx="460" cy="335.9" r="1.9" fill="#1a6a70"/>
<circle cx="462.5" cy="335.9" r="1.9" fill="#1a6a70"/>
<circle cx="465" cy="335.9" r="1.9" fill="#1a6a70"/>
<circle cx="467.5" cy="335.9" r="1.9" fill="#1a6a70"/>
<circle cx="470" cy="335.9" r="1.9" fill="#1a6a70"/>
<circle cx="449.5" cy="340.1" r="1.9" fill="#1a6a70"/>
<circle cx="452.11" cy="340.1" r="1.9" fill="#1a6a70"/>
<circle cx="454.72" cy="340.1" r="1.9" fill="#1a6a70"/>
<circle cx="457.33" cy="340.1" r="1.9" fill="#1a6a70"/>
<circle cx="459.94" cy="340.1" r="1.9" fill="#1a6a70"/>
<circle cx="462.56" cy="340.1" r="1.9" fill="#1a6a70"/>
<circle cx="465.17" cy="340.1" r="1.9" fill="#1a6a70"/>
<circle cx="467.78" cy="340.1" r="1.9" fill="#1a6a70"/>
<circle cx="470.39" cy="340.1" r="1.9" fill="#1a6a70"/>
<circle cx="473" cy="340.1" r="1.9" fill="#1a6a70"/>
<circle cx="447.5" cy="344.3" r="1.9" fill="#1a6a70"/>
<circle cx="450" cy="344.3" r="1.9" fill="#1a6a70"/>
<circle cx="452.5" cy="344.3" r="1.9" fill="#1a6a70"/>
<circle cx="455" cy="344.3" r="1.9" fill="#1a6a70"/>
<circle cx="457.5" cy="344.3" r="1.9" fill="#1a6a70"/>
<circle cx="460" cy="344.3" r="1.9" fill="#1a6a70"/>
<circle cx="462.5" cy="344.3" r="1.9" fill="#1a6a70"/>
<circle cx="465" cy="344.3" r="1.9" fill="#1a6a70"/>
<circle cx="467.5" cy="344.3" r="1.9" fill="#1a6a70"/>
<circle cx="470" cy="344.3" r="1.9" fill="#1a6a70"/>
<circle cx="449.5" cy="348.5" r="1.9" fill="#1a6a70"/>
<circle cx="452.11" cy="348.5" r="1.9" fill="#1a6a70"/>
<circle cx="454.72" cy="348.5" r="1.9" fill="#1a6a70"/>
<circle cx="457.33" cy="348.5" r="1.9" fill="#1a6a70"/>
<circle cx="459.94" cy="348.5" r="1.9" fill="#1a6a70"/>
<circle cx="462.56" cy="348.5" r="1.9" fill="#1a6a70"/>
<circle cx="465.17" cy="348.5" r="1.9" fill="#1a6a70"/>
<circle cx="467.78" cy="348.5" r="1.9" fill="#1a6a70"/>
<circle cx="470.39" cy="348.5" r="1.9" fill="#1a6a70"/>
<circle cx="473" cy="348.5" r="1.9" fill="#1a6a70"/>
<circle cx="447.5" cy="352.7" r="1.9" fill="#1a6a70"/>
<circle cx="450.19" cy="352.7" r="1.9" fill="#1a6a70"/>
<circle cx="452.88" cy="352.7" r="1.9" fill="#1a6a70"/>
<circle cx="455.56" cy="352.7" r="1.9" fill="#1a6a70"/>
<circle cx="458.25" cy="352.7" r="1.9" fill="#1a6a70"/>
<circle cx="460.94" cy="352.7" r="1.9" fill="#1a6a70"/>
<circle cx="463.62" cy="352.7" r="1.9" fill="#1a6a70"/>
<circle cx="466.31" cy="352.7" r="1.9" fill="#1a6a70"/>
<circle cx="469" cy="352.7" r="1.9" fill="#1a6a70"/>
<text x="460" y="364.6" font-size="7.8" text-anchor="middle" fill="#3a3a3a" font-weight="bold" textLength="61" lengthAdjust="spacingAndGlyphs">Anisotropic MRE</text>
<rect x="416.6" y="369.6" width="84.6" height="11.4" fill="#1b4b8b"/>
<text x="458.9" y="379.2" font-size="11" text-anchor="middle" fill="#ffffff" stroke="#ffffff" stroke-width="0.2">S</text>
<path d="M425.8 481.84 L432.4 481.37 L438.99 480.89 L445.59 480.4 L452.19 479.91 L458.79 479.41 L465.38 478.9 L471.98 478.39 L478.58 477.88 L485.18 477.36 L491.77 476.83 L498.37 476.3 L504.97 475.76 L511.57 475.21 L518.16 474.66 L524.76 474.11 L531.36 473.54 L537.96 472.98 L544.55 472.4 L551.15 471.82 L557.75 471.24 L564.35 470.65 L570.94 470.05 L577.54 469.45 L584.14 468.84 L590.74 468.22 L597.33 467.6 L603.93 466.98 L610.53 466.35 L617.13 465.71 L623.72 465.06 L630.32 464.41 L636.92 463.76 L643.52 463.1 L650.11 462.43 L656.71 461.76 L663.31 461.08 L669.91 460.4 L676.5 459.71 L683.1 459.01" fill="none" stroke="#9c9c9c" stroke-width="1.3"/>
<path d="M425.8 475.04 L432.4 473.77 L438.99 472.51 L445.59 471.25 L452.19 469.99 L458.79 468.73 L465.38 467.48 L471.98 466.23 L478.58 464.99 L485.18 463.75 L491.77 462.51 L498.37 461.27 L504.97 460.04 L511.57 458.8 L518.16 457.58 L524.76 456.35 L531.36 455.13 L537.96 453.91 L544.55 452.7 L551.15 451.49 L557.75 450.28 L564.35 449.07 L570.94 447.87 L577.54 446.67 L584.14 445.47 L590.74 444.28 L597.33 443.09 L603.93 441.9 L610.53 440.72 L617.13 439.53 L623.72 438.36 L630.32 437.18 L636.92 436.01 L643.52 434.84 L650.11 433.67 L656.71 432.51 L663.31 431.35 L669.91 430.2 L676.5 429.04 L683.1 427.89" fill="none" stroke="#cf6d6d" stroke-width="1.3"/>
<path d="M425.8 464.6 L432.4 461.73 L438.99 458.88 L445.59 456.05 L452.19 453.23 L458.79 450.43 L465.38 447.65 L471.98 444.89 L478.58 442.14 L485.18 439.41 L491.77 436.7 L498.37 434.01 L504.97 431.34 L511.57 428.68 L518.16 426.04 L524.76 423.42 L531.36 420.82 L537.96 418.23 L544.55 415.66 L551.15 413.11 L557.75 410.58 L564.35 408.07 L570.94 405.57 L577.54 403.09 L584.14 400.63 L590.74 398.19 L597.33 395.76 L603.93 393.35 L610.53 390.96 L617.13 388.59 L623.72 386.24 L630.32 383.9 L636.92 381.58 L643.52 379.28 L650.11 377 L656.71 374.73 L663.31 372.48 L669.91 370.25 L676.5 368.04 L683.1 365.84" fill="none" stroke="#5a78aa" stroke-width="1.3"/>
<path d="M425.8 456.57 L432.4 453.02 L438.99 449.49 L445.59 445.99 L452.19 442.51 L458.79 439.06 L465.38 435.64 L471.98 432.23 L478.58 428.86 L485.18 425.5 L491.77 422.18 L498.37 418.88 L504.97 415.6 L511.57 412.35 L518.16 409.12 L524.76 405.92 L531.36 402.74 L537.96 399.59 L544.55 396.46 L551.15 393.36 L557.75 390.28 L564.35 387.23 L570.94 384.2 L577.54 381.2 L584.14 378.22 L590.74 375.27 L597.33 372.34 L603.93 369.44 L610.53 366.56 L617.13 363.71 L623.72 360.88 L630.32 358.08 L636.92 355.3 L643.52 352.55 L650.11 349.82 L656.71 347.12 L663.31 344.44 L669.91 341.79 L676.5 339.16 L683.1 336.55" fill="none" stroke="#629474" stroke-width="1.3"/>
<line x1="425.8" y1="479.67" x2="425.8" y2="483.78" stroke="#6a6a6a" stroke-width="1.1"/>
<line x1="421.6" y1="479.67" x2="430" y2="479.67" stroke="#6a6a6a" stroke-width="1.21"/>
<line x1="421.6" y1="483.78" x2="430" y2="483.78" stroke="#6a6a6a" stroke-width="1.21"/>
<line x1="486.5" y1="469.72" x2="486.5" y2="481.73" stroke="#6a6a6a" stroke-width="1.1"/>
<line x1="482.3" y1="469.72" x2="490.7" y2="469.72" stroke="#6a6a6a" stroke-width="1.21"/>
<line x1="482.3" y1="481.73" x2="490.7" y2="481.73" stroke="#6a6a6a" stroke-width="1.21"/>
<line x1="532.02" y1="465.43" x2="532.02" y2="479.15" stroke="#6a6a6a" stroke-width="1.1"/>
<line x1="527.82" y1="465.43" x2="536.23" y2="465.43" stroke="#6a6a6a" stroke-width="1.21"/>
<line x1="527.82" y1="479.15" x2="536.23" y2="479.15" stroke="#6a6a6a" stroke-width="1.21"/>
<line x1="577.55" y1="462" x2="577.55" y2="475.72" stroke="#6a6a6a" stroke-width="1.1"/>
<line x1="573.35" y1="462" x2="581.75" y2="462" stroke="#6a6a6a" stroke-width="1.21"/>
<line x1="573.35" y1="475.72" x2="581.75" y2="475.72" stroke="#6a6a6a" stroke-width="1.21"/>
<line x1="641.28" y1="456" x2="641.28" y2="469.72" stroke="#6a6a6a" stroke-width="1.1"/>
<line x1="637.08" y1="456" x2="645.49" y2="456" stroke="#6a6a6a" stroke-width="1.21"/>
<line x1="637.08" y1="469.72" x2="645.49" y2="469.72" stroke="#6a6a6a" stroke-width="1.21"/>
<rect x="422.2" y="478.12" width="7.2" height="7.2" fill="#4a4a4a"/>
<rect x="482.9" y="472.12" width="7.2" height="7.2" fill="#4a4a4a"/>
<rect x="528.42" y="468.69" width="7.2" height="7.2" fill="#4a4a4a"/>
<rect x="573.95" y="465.26" width="7.2" height="7.2" fill="#4a4a4a"/>
<rect x="637.68" y="459.26" width="7.2" height="7.2" fill="#4a4a4a"/>
<line x1="425.8" y1="471.44" x2="425.8" y2="478.3" stroke="#b84a4a" stroke-width="1.1"/>
<line x1="421.6" y1="471.44" x2="430" y2="471.44" stroke="#b84a4a" stroke-width="1.21"/>
<line x1="421.6" y1="478.3" x2="430" y2="478.3" stroke="#b84a4a" stroke-width="1.21"/>
<line x1="486.5" y1="456.86" x2="486.5" y2="467.15" stroke="#b84a4a" stroke-width="1.1"/>
<line x1="482.3" y1="456.86" x2="490.7" y2="456.86" stroke="#b84a4a" stroke-width="1.21"/>
<line x1="482.3" y1="467.15" x2="490.7" y2="467.15" stroke="#b84a4a" stroke-width="1.21"/>
<line x1="532.02" y1="445.71" x2="532.02" y2="459.43" stroke="#b84a4a" stroke-width="1.1"/>
<line x1="527.82" y1="445.71" x2="536.23" y2="445.71" stroke="#b84a4a" stroke-width="1.21"/>
<line x1="527.82" y1="459.43" x2="536.23" y2="459.43" stroke="#b84a4a" stroke-width="1.21"/>
<line x1="577.55" y1="443.14" x2="577.55" y2="450" stroke="#b84a4a" stroke-width="1.1"/>
<line x1="573.35" y1="443.14" x2="581.75" y2="443.14" stroke="#b84a4a" stroke-width="1.21"/>
<line x1="573.35" y1="450" x2="581.75" y2="450" stroke="#b84a4a" stroke-width="1.21"/>
<line x1="641.28" y1="425.13" x2="641.28" y2="440.56" stroke="#b84a4a" stroke-width="1.1"/>
<line x1="637.08" y1="425.13" x2="645.49" y2="425.13" stroke="#b84a4a" stroke-width="1.21"/>
<line x1="637.08" y1="440.56" x2="645.49" y2="440.56" stroke="#b84a4a" stroke-width="1.21"/>
<path d="M425.8 470.24 L430.43 474.87 L425.8 479.49 L421.18 474.87 Z" fill="#b3131c"/>
<path d="M486.5 457.38 L491.12 462 L486.5 466.63 L481.88 462 Z" fill="#b3131c"/>
<path d="M532.02 447.94 L536.65 452.57 L532.02 457.19 L527.4 452.57 Z" fill="#b3131c"/>
<path d="M577.55 441.94 L582.17 446.57 L577.55 451.19 L572.92 446.57 Z" fill="#b3131c"/>
<path d="M641.28 428.22 L645.91 432.85 L641.28 437.47 L636.66 432.85 Z" fill="#b3131c"/>
<line x1="425.8" y1="462.86" x2="425.8" y2="469.72" stroke="#3b5f9a" stroke-width="1.1"/>
<line x1="421.6" y1="462.86" x2="430" y2="462.86" stroke="#3b5f9a" stroke-width="1.21"/>
<line x1="421.6" y1="469.72" x2="430" y2="469.72" stroke="#3b5f9a" stroke-width="1.21"/>
<line x1="486.5" y1="437.13" x2="486.5" y2="450.86" stroke="#3b5f9a" stroke-width="1.1"/>
<line x1="482.3" y1="437.13" x2="490.7" y2="437.13" stroke="#3b5f9a" stroke-width="1.21"/>
<line x1="482.3" y1="450.86" x2="490.7" y2="450.86" stroke="#3b5f9a" stroke-width="1.21"/>
<line x1="532.02" y1="414.84" x2="532.02" y2="431.99" stroke="#3b5f9a" stroke-width="1.1"/>
<line x1="527.82" y1="414.84" x2="536.23" y2="414.84" stroke="#3b5f9a" stroke-width="1.21"/>
<line x1="527.82" y1="431.99" x2="536.23" y2="431.99" stroke="#3b5f9a" stroke-width="1.21"/>
<line x1="577.55" y1="394.26" x2="577.55" y2="407.98" stroke="#3b5f9a" stroke-width="1.1"/>
<line x1="573.35" y1="394.26" x2="581.75" y2="394.26" stroke="#3b5f9a" stroke-width="1.21"/>
<line x1="573.35" y1="407.98" x2="581.75" y2="407.98" stroke="#3b5f9a" stroke-width="1.21"/>
<line x1="641.28" y1="373.68" x2="641.28" y2="389.12" stroke="#3b5f9a" stroke-width="1.1"/>
<line x1="637.08" y1="373.68" x2="645.49" y2="373.68" stroke="#3b5f9a" stroke-width="1.21"/>
<line x1="637.08" y1="389.12" x2="645.49" y2="389.12" stroke="#3b5f9a" stroke-width="1.21"/>
<path d="M425.8 461.29 L430.6 469.69 L421 469.69 Z" fill="#1b4c9c"/>
<path d="M486.5 439 L491.3 447.39 L481.7 447.39 Z" fill="#1b4c9c"/>
<path d="M532.02 418.42 L536.82 426.81 L527.23 426.81 Z" fill="#1b4c9c"/>
<path d="M577.55 396.12 L582.35 404.52 L572.75 404.52 Z" fill="#1b4c9c"/>
<path d="M641.28 376.4 L646.08 384.8 L636.49 384.8 Z" fill="#1b4c9c"/>
<line x1="425.8" y1="453.6" x2="425.8" y2="458.74" stroke="#4e7e62" stroke-width="1.1"/>
<line x1="421.6" y1="453.6" x2="430" y2="453.6" stroke="#4e7e62" stroke-width="1.21"/>
<line x1="421.6" y1="458.74" x2="430" y2="458.74" stroke="#4e7e62" stroke-width="1.21"/>
<line x1="486.5" y1="421.53" x2="486.5" y2="430.1" stroke="#4e7e62" stroke-width="1.1"/>
<line x1="482.3" y1="421.53" x2="490.7" y2="421.53" stroke="#4e7e62" stroke-width="1.21"/>
<line x1="482.3" y1="430.1" x2="490.7" y2="430.1" stroke="#4e7e62" stroke-width="1.21"/>
<line x1="532.02" y1="394.95" x2="532.02" y2="405.24" stroke="#4e7e62" stroke-width="1.1"/>
<line x1="527.82" y1="394.95" x2="536.23" y2="394.95" stroke="#4e7e62" stroke-width="1.21"/>
<line x1="527.82" y1="405.24" x2="536.23" y2="405.24" stroke="#4e7e62" stroke-width="1.21"/>
<line x1="577.55" y1="365.11" x2="577.55" y2="382.25" stroke="#4e7e62" stroke-width="1.1"/>
<line x1="573.35" y1="365.11" x2="581.75" y2="365.11" stroke="#4e7e62" stroke-width="1.21"/>
<line x1="573.35" y1="382.25" x2="581.75" y2="382.25" stroke="#4e7e62" stroke-width="1.21"/>
<line x1="641.28" y1="344.52" x2="641.28" y2="365.11" stroke="#4e7e62" stroke-width="1.1"/>
<line x1="637.08" y1="344.52" x2="645.49" y2="344.52" stroke="#4e7e62" stroke-width="1.21"/>
<line x1="637.08" y1="365.11" x2="645.49" y2="365.11" stroke="#4e7e62" stroke-width="1.21"/>
<circle cx="425.8" cy="456.17" r="3.7" fill="#136e31"/>
<circle cx="486.5" cy="425.82" r="3.7" fill="#136e31"/>
<circle cx="532.02" cy="400.09" r="3.7" fill="#136e31"/>
<circle cx="577.55" cy="373.68" r="3.7" fill="#136e31"/>
<circle cx="641.28" cy="354.81" r="3.7" fill="#136e31"/>
<rect x="392.3" y="284.4" width="290.8" height="223.2" fill="none" stroke="#3a3a3a" stroke-width="1.4"/>
<line x1="392.3" y1="490.3" x2="396.6" y2="490.3" stroke="#3a3a3a" stroke-width="1.2"/>
<line x1="392.3" y1="456" x2="396.6" y2="456" stroke="#3a3a3a" stroke-width="1.2"/>
<line x1="392.3" y1="421.7" x2="396.6" y2="421.7" stroke="#3a3a3a" stroke-width="1.2"/>
<line x1="392.3" y1="387.4" x2="396.6" y2="387.4" stroke="#3a3a3a" stroke-width="1.2"/>
<line x1="392.3" y1="353.1" x2="396.6" y2="353.1" stroke="#3a3a3a" stroke-width="1.2"/>
<line x1="392.3" y1="318.8" x2="396.6" y2="318.8" stroke="#3a3a3a" stroke-width="1.2"/>
<line x1="392.3" y1="284.5" x2="396.6" y2="284.5" stroke="#3a3a3a" stroke-width="1.2"/>
<line x1="392.3" y1="473.15" x2="394.9" y2="473.15" stroke="#3a3a3a" stroke-width="1"/>
<line x1="392.3" y1="438.85" x2="394.9" y2="438.85" stroke="#3a3a3a" stroke-width="1"/>
<line x1="392.3" y1="404.55" x2="394.9" y2="404.55" stroke="#3a3a3a" stroke-width="1"/>
<line x1="392.3" y1="370.25" x2="394.9" y2="370.25" stroke="#3a3a3a" stroke-width="1"/>
<line x1="392.3" y1="335.95" x2="394.9" y2="335.95" stroke="#3a3a3a" stroke-width="1"/>
<line x1="392.3" y1="301.65" x2="394.9" y2="301.65" stroke="#3a3a3a" stroke-width="1"/>
<text x="387.6" y="494.4" font-size="11.5" text-anchor="end" stroke="#2a2a2a" stroke-width="0.2">0</text>
<text x="387.6" y="460.1" font-size="11.5" text-anchor="end" stroke="#2a2a2a" stroke-width="0.2">0.2</text>
<text x="387.6" y="425.8" font-size="11.5" text-anchor="end" stroke="#2a2a2a" stroke-width="0.2">0.4</text>
<text x="387.6" y="391.5" font-size="11.5" text-anchor="end" stroke="#2a2a2a" stroke-width="0.2">0.6</text>
<text x="387.6" y="357.2" font-size="11.5" text-anchor="end" stroke="#2a2a2a" stroke-width="0.2">0.8</text>
<text x="387.6" y="322.9" font-size="11.5" text-anchor="end" stroke="#2a2a2a" stroke-width="0.2">1</text>
<text x="387.6" y="288.6" font-size="11.5" text-anchor="end" stroke="#2a2a2a" stroke-width="0.2">1.2</text>
<line x1="395.45" y1="507.6" x2="395.45" y2="511.9" stroke="#3a3a3a" stroke-width="1.2"/>
<line x1="410.62" y1="507.6" x2="410.62" y2="510.4" stroke="#3a3a3a" stroke-width="1"/>
<line x1="425.8" y1="507.6" x2="425.8" y2="511.9" stroke="#3a3a3a" stroke-width="1.2"/>
<line x1="440.98" y1="507.6" x2="440.98" y2="510.4" stroke="#3a3a3a" stroke-width="1"/>
<line x1="456.15" y1="507.6" x2="456.15" y2="511.9" stroke="#3a3a3a" stroke-width="1.2"/>
<line x1="471.33" y1="507.6" x2="471.33" y2="510.4" stroke="#3a3a3a" stroke-width="1"/>
<line x1="486.5" y1="507.6" x2="486.5" y2="511.9" stroke="#3a3a3a" stroke-width="1.2"/>
<line x1="501.68" y1="507.6" x2="501.68" y2="510.4" stroke="#3a3a3a" stroke-width="1"/>
<line x1="516.85" y1="507.6" x2="516.85" y2="511.9" stroke="#3a3a3a" stroke-width="1.2"/>
<line x1="532.02" y1="507.6" x2="532.02" y2="510.4" stroke="#3a3a3a" stroke-width="1"/>
<line x1="547.2" y1="507.6" x2="547.2" y2="511.9" stroke="#3a3a3a" stroke-width="1.2"/>
<line x1="562.38" y1="507.6" x2="562.38" y2="510.4" stroke="#3a3a3a" stroke-width="1"/>
<line x1="577.55" y1="507.6" x2="577.55" y2="511.9" stroke="#3a3a3a" stroke-width="1.2"/>
<line x1="592.73" y1="507.6" x2="592.73" y2="510.4" stroke="#3a3a3a" stroke-width="1"/>
<line x1="607.9" y1="507.6" x2="607.9" y2="511.9" stroke="#3a3a3a" stroke-width="1.2"/>
<line x1="623.08" y1="507.6" x2="623.08" y2="510.4" stroke="#3a3a3a" stroke-width="1"/>
<line x1="638.25" y1="507.6" x2="638.25" y2="511.9" stroke="#3a3a3a" stroke-width="1.2"/>
<line x1="653.43" y1="507.6" x2="653.43" y2="510.4" stroke="#3a3a3a" stroke-width="1"/>
<line x1="668.6" y1="507.6" x2="668.6" y2="511.9" stroke="#3a3a3a" stroke-width="1.2"/>
<text x="425.8" y="523.8" font-size="11.5" text-anchor="middle" stroke="#2a2a2a" stroke-width="0.2">0</text>
<text x="486.5" y="523.8" font-size="11.5" text-anchor="middle" stroke="#2a2a2a" stroke-width="0.2" textLength="16" lengthAdjust="spacingAndGlyphs">0.1</text>
<text x="547.2" y="523.8" font-size="11.5" text-anchor="middle" stroke="#2a2a2a" stroke-width="0.2" textLength="16" lengthAdjust="spacingAndGlyphs">0.2</text>
<text x="607.9" y="523.8" font-size="11.5" text-anchor="middle" stroke="#2a2a2a" stroke-width="0.2" textLength="16" lengthAdjust="spacingAndGlyphs">0.3</text>
<text x="668.6" y="523.8" font-size="11.5" text-anchor="middle" stroke="#2a2a2a" stroke-width="0.2" textLength="16" lengthAdjust="spacingAndGlyphs">0.4</text>
<text x="364.3" y="399.5" font-size="15" text-anchor="middle" stroke="#2a2a2a" stroke-width="0.2" textLength="150.8" lengthAdjust="spacingAndGlyphs" transform="rotate(-90 364.3 399.5)">Shear modulus E (MPa)</text>
<text x="467.9" y="540.3" font-size="15" textLength="125" lengthAdjust="spacingAndGlyphs">Magnetic field <tspan font-family="'Liberation Serif', serif" font-style="italic" font-size="16">B</tspan> (T)</text>
<text x="711.4" y="273.6" font-size="16.3" fill="#111" font-weight="bold" textLength="7" lengthAdjust="spacingAndGlyphs">F</text>
<line x1="745.5" y1="490.2" x2="1036.6" y2="490.2" stroke="#dcdcdc" stroke-width="0.9" stroke-dasharray="1.5 1.5"/>
<line x1="745.5" y1="455.8" x2="1036.6" y2="455.8" stroke="#dcdcdc" stroke-width="0.9" stroke-dasharray="1.5 1.5"/>
<line x1="745.5" y1="421.4" x2="1036.6" y2="421.4" stroke="#dcdcdc" stroke-width="0.9" stroke-dasharray="1.5 1.5"/>
<line x1="745.5" y1="387" x2="1036.6" y2="387" stroke="#dcdcdc" stroke-width="0.9" stroke-dasharray="1.5 1.5"/>
<line x1="745.5" y1="352.6" x2="1036.6" y2="352.6" stroke="#dcdcdc" stroke-width="0.9" stroke-dasharray="1.5 1.5"/>
<line x1="745.5" y1="318.2" x2="1036.6" y2="318.2" stroke="#dcdcdc" stroke-width="0.9" stroke-dasharray="1.5 1.5"/>
<line x1="776.4" y1="284.2" x2="776.4" y2="507.7" stroke="#dcdcdc" stroke-width="0.9" stroke-dasharray="1.5 1.5"/>
<line x1="834.3" y1="284.2" x2="834.3" y2="507.7" stroke="#dcdcdc" stroke-width="0.9" stroke-dasharray="1.5 1.5"/>
<line x1="892.2" y1="284.2" x2="892.2" y2="507.7" stroke="#dcdcdc" stroke-width="0.9" stroke-dasharray="1.5 1.5"/>
<line x1="950.1" y1="284.2" x2="950.1" y2="507.7" stroke="#dcdcdc" stroke-width="0.9" stroke-dasharray="1.5 1.5"/>
<line x1="1008" y1="284.2" x2="1008" y2="507.7" stroke="#dcdcdc" stroke-width="0.9" stroke-dasharray="1.5 1.5"/>
<rect x="876.5" y="308" width="69" height="40.4" fill="url(#gbg1)"/>
<path d="M877 348.4 A34 38.4 0 0 1 945 348.4 Z" fill="#0a0a0a"/>
<path d="M906.7 348.4 L906.7 338.65 A6.65 6.65 0 0 1 920 338.65 L920 348.4 Z" fill="#f6f6f6"/>
<line x1="917" y1="346.9" x2="946" y2="346.9" stroke="#d9a24a" stroke-width="0.9" stroke-dasharray="2 1.5"/>
<path d="M940 346.9 q 3 -7 7 -6" fill="none" stroke="#d9a24a" stroke-width="0.8"/>
<rect x="958.8" y="344.99" width="72.4" height="3.41" fill="#3a3a3a"/>
<path d="M962 345 A32.35 35.3 0 0 1 1026.7 345 Z" fill="#0a0a0a"/>
<ellipse cx="996.5" cy="331" rx="10" ry="6" fill="url(#glow)"/>
<ellipse cx="996.5" cy="340.8" rx="8" ry="4.6" fill="#f8f8f8"/>
<line x1="1000.35" y1="343.5" x2="1027.7" y2="343.5" stroke="#d9a24a" stroke-width="0.9" stroke-dasharray="2 1.5"/>
<path d="M1021.7 343.5 q 3 -7 7 -6" fill="none" stroke="#d9a24a" stroke-width="0.8"/>
<rect x="958.8" y="344.8" width="72.4" height="3.6" fill="#3c3c3c"/>
<text x="951.2" y="297.4" font-size="10.8" text-anchor="middle" fill="#333" stroke="#333" stroke-width="0.2" textLength="69.5" lengthAdjust="spacingAndGlyphs">Glycerol droplet</text>
<text x="911" y="360.5" font-size="9.5" text-anchor="middle" fill="#333" stroke="#333" stroke-width="0.2" textLength="52" lengthAdjust="spacingAndGlyphs">MRE 100 wt%</text>
<text x="996.8" y="360.5" font-size="9.5" text-anchor="middle" fill="#333" stroke="#333" stroke-width="0.2" textLength="52" lengthAdjust="spacingAndGlyphs">MRE 400 wt%</text>
<rect x="764" y="435.8" width="74" height="51.7" fill="url(#wbg1)"/>
<path d="M768.5 487 A32.1 43.9 0 0 1 832.7 487 Z" fill="#0a0a0a"/>
<path d="M794.9 487 L794.9 470.4 A7.9 7.9 0 0 1 810.7 470.4 L810.7 487 Z" fill="#f6f6f6"/>
<line x1="806.6" y1="485.5" x2="833.7" y2="485.5" stroke="#d9a24a" stroke-width="0.9" stroke-dasharray="2 1.5"/>
<path d="M827.7 485.5 q 3 -7 7 -6" fill="none" stroke="#d9a24a" stroke-width="0.8"/>
<rect x="764" y="484.6" width="74" height="2.9" fill="#555"/>
<rect x="797.5" y="470.5" width="7" height="2" fill="#222"/>
<path d="M855.2 483 A33.15 39.9 0 0 1 921.5 483 Z" fill="#0a0a0a"/>
<ellipse cx="890" cy="464" rx="13" ry="7" fill="url(#glow)"/>
<ellipse cx="890.4" cy="477.2" rx="9" ry="5.8" fill="#f8f8f8"/>
<line x1="894.35" y1="481.5" x2="922.5" y2="481.5" stroke="#d9a24a" stroke-width="0.9" stroke-dasharray="2 1.5"/>
<path d="M916.5 481.5 q 3 -7 7 -6" fill="none" stroke="#d9a24a" stroke-width="0.8"/>
<rect x="847.6" y="476.6" width="8" height="10.9" fill="#555"/>
<rect x="917.5" y="476.6" width="9.3" height="10.9" fill="#555"/>
<rect x="847.6" y="483" width="79.2" height="4.5" fill="#3a3a3a"/>
<text x="838.2" y="433" font-size="10.8" text-anchor="middle" fill="#333" stroke="#333" stroke-width="0.2" textLength="61.5" lengthAdjust="spacingAndGlyphs">Water droplet</text>
<text x="800.6" y="499.6" font-size="9.5" text-anchor="middle" fill="#333" stroke="#333" stroke-width="0.2" textLength="52" lengthAdjust="spacingAndGlyphs">MRE 100 wt%</text>
<text x="892.9" y="499.6" font-size="9.5" text-anchor="middle" fill="#333" stroke="#333" stroke-width="0.2" textLength="52" lengthAdjust="spacingAndGlyphs">MRE 400 wt%</text>
<line x1="776.4" y1="361.89" x2="776.4" y2="377.71" stroke="#666" stroke-width="1.1"/>
<line x1="773.2" y1="361.89" x2="779.6" y2="361.89" stroke="#666" stroke-width="1.21"/>
<line x1="773.2" y1="377.71" x2="779.6" y2="377.71" stroke="#666" stroke-width="1.21"/>
<rect x="772.1" y="365.5" width="8.6" height="8.6" fill="#4b4b4b"/>
<line x1="805.35" y1="365.67" x2="805.35" y2="379.43" stroke="#666" stroke-width="1.1"/>
<line x1="802.15" y1="365.67" x2="808.55" y2="365.67" stroke="#666" stroke-width="1.21"/>
<line x1="802.15" y1="379.43" x2="808.55" y2="379.43" stroke="#666" stroke-width="1.21"/>
<rect x="801.05" y="368.25" width="8.6" height="8.6" fill="#4b4b4b"/>
<line x1="834.3" y1="368.08" x2="834.3" y2="385.97" stroke="#666" stroke-width="1.1"/>
<line x1="831.1" y1="368.08" x2="837.5" y2="368.08" stroke="#666" stroke-width="1.21"/>
<line x1="831.1" y1="385.97" x2="837.5" y2="385.97" stroke="#666" stroke-width="1.21"/>
<rect x="830" y="372.72" width="8.6" height="8.6" fill="#4b4b4b"/>
<line x1="889.3" y1="370.49" x2="889.3" y2="388.38" stroke="#666" stroke-width="1.1"/>
<line x1="886.1" y1="370.49" x2="892.5" y2="370.49" stroke="#666" stroke-width="1.21"/>
<line x1="886.1" y1="388.38" x2="892.5" y2="388.38" stroke="#666" stroke-width="1.21"/>
<rect x="885" y="375.13" width="8.6" height="8.6" fill="#4b4b4b"/>
<line x1="948.36" y1="378.06" x2="948.36" y2="395.94" stroke="#666" stroke-width="1.1"/>
<line x1="945.16" y1="378.06" x2="951.56" y2="378.06" stroke="#666" stroke-width="1.21"/>
<line x1="945.16" y1="395.94" x2="951.56" y2="395.94" stroke="#666" stroke-width="1.21"/>
<rect x="944.06" y="382.7" width="8.6" height="8.6" fill="#4b4b4b"/>
<line x1="1005.11" y1="382.18" x2="1005.11" y2="405.58" stroke="#666" stroke-width="1.1"/>
<line x1="1001.9" y1="382.18" x2="1008.31" y2="382.18" stroke="#666" stroke-width="1.21"/>
<line x1="1001.9" y1="405.58" x2="1008.31" y2="405.58" stroke="#666" stroke-width="1.21"/>
<rect x="1000.81" y="389.58" width="8.6" height="8.6" fill="#4b4b4b"/>
<rect x="745.5" y="284.2" width="291.1" height="223.5" fill="none" stroke="#3a3a3a" stroke-width="1.4"/>
<line x1="745.5" y1="490.2" x2="749.8" y2="490.2" stroke="#3a3a3a" stroke-width="1.2"/>
<line x1="745.5" y1="473" x2="748.1" y2="473" stroke="#3a3a3a" stroke-width="1"/>
<text x="741" y="494.3" font-size="11.5" text-anchor="end" stroke="#2a2a2a" stroke-width="0.2">0</text>
<line x1="745.5" y1="455.8" x2="749.8" y2="455.8" stroke="#3a3a3a" stroke-width="1.2"/>
<line x1="745.5" y1="438.6" x2="748.1" y2="438.6" stroke="#3a3a3a" stroke-width="1"/>
<text x="741" y="459.9" font-size="11.5" text-anchor="end" stroke="#2a2a2a" stroke-width="0.2">5</text>
<line x1="745.5" y1="421.4" x2="749.8" y2="421.4" stroke="#3a3a3a" stroke-width="1.2"/>
<line x1="745.5" y1="404.2" x2="748.1" y2="404.2" stroke="#3a3a3a" stroke-width="1"/>
<text x="741" y="425.5" font-size="11.5" text-anchor="end" stroke="#2a2a2a" stroke-width="0.2" textLength="12.5" lengthAdjust="spacingAndGlyphs">10</text>
<line x1="745.5" y1="387" x2="749.8" y2="387" stroke="#3a3a3a" stroke-width="1.2"/>
<line x1="745.5" y1="369.8" x2="748.1" y2="369.8" stroke="#3a3a3a" stroke-width="1"/>
<text x="741" y="391.1" font-size="11.5" text-anchor="end" stroke="#2a2a2a" stroke-width="0.2" textLength="12.5" lengthAdjust="spacingAndGlyphs">15</text>
<line x1="745.5" y1="352.6" x2="749.8" y2="352.6" stroke="#3a3a3a" stroke-width="1.2"/>
<line x1="745.5" y1="335.4" x2="748.1" y2="335.4" stroke="#3a3a3a" stroke-width="1"/>
<text x="741" y="356.7" font-size="11.5" text-anchor="end" stroke="#2a2a2a" stroke-width="0.2" textLength="12.5" lengthAdjust="spacingAndGlyphs">20</text>
<line x1="745.5" y1="318.2" x2="749.8" y2="318.2" stroke="#3a3a3a" stroke-width="1.2"/>
<line x1="745.5" y1="301" x2="748.1" y2="301" stroke="#3a3a3a" stroke-width="1"/>
<text x="741" y="322.3" font-size="11.5" text-anchor="end" stroke="#2a2a2a" stroke-width="0.2" textLength="12.5" lengthAdjust="spacingAndGlyphs">25</text>
<line x1="745.5" y1="283.8" x2="749.8" y2="283.8" stroke="#3a3a3a" stroke-width="1.2"/>
<text x="741" y="287.9" font-size="11.5" text-anchor="end" stroke="#2a2a2a" stroke-width="0.2" textLength="12.5" lengthAdjust="spacingAndGlyphs">30</text>
<line x1="747.45" y1="507.7" x2="747.45" y2="512" stroke="#3a3a3a" stroke-width="1.2"/>
<line x1="761.92" y1="507.7" x2="761.92" y2="510.3" stroke="#3a3a3a" stroke-width="1"/>
<line x1="776.4" y1="507.7" x2="776.4" y2="512" stroke="#3a3a3a" stroke-width="1.2"/>
<line x1="790.88" y1="507.7" x2="790.88" y2="510.3" stroke="#3a3a3a" stroke-width="1"/>
<line x1="805.35" y1="507.7" x2="805.35" y2="512" stroke="#3a3a3a" stroke-width="1.2"/>
<line x1="819.82" y1="507.7" x2="819.82" y2="510.3" stroke="#3a3a3a" stroke-width="1"/>
<line x1="834.3" y1="507.7" x2="834.3" y2="512" stroke="#3a3a3a" stroke-width="1.2"/>
<line x1="848.77" y1="507.7" x2="848.77" y2="510.3" stroke="#3a3a3a" stroke-width="1"/>
<line x1="863.25" y1="507.7" x2="863.25" y2="512" stroke="#3a3a3a" stroke-width="1.2"/>
<line x1="877.72" y1="507.7" x2="877.72" y2="510.3" stroke="#3a3a3a" stroke-width="1"/>
<line x1="892.2" y1="507.7" x2="892.2" y2="512" stroke="#3a3a3a" stroke-width="1.2"/>
<line x1="906.67" y1="507.7" x2="906.67" y2="510.3" stroke="#3a3a3a" stroke-width="1"/>
<line x1="921.15" y1="507.7" x2="921.15" y2="512" stroke="#3a3a3a" stroke-width="1.2"/>
<line x1="935.62" y1="507.7" x2="935.62" y2="510.3" stroke="#3a3a3a" stroke-width="1"/>
<line x1="950.1" y1="507.7" x2="950.1" y2="512" stroke="#3a3a3a" stroke-width="1.2"/>
<line x1="964.57" y1="507.7" x2="964.57" y2="510.3" stroke="#3a3a3a" stroke-width="1"/>
<line x1="979.05" y1="507.7" x2="979.05" y2="512" stroke="#3a3a3a" stroke-width="1.2"/>
<line x1="993.52" y1="507.7" x2="993.52" y2="510.3" stroke="#3a3a3a" stroke-width="1"/>
<line x1="1008" y1="507.7" x2="1008" y2="512" stroke="#3a3a3a" stroke-width="1.2"/>
<line x1="1022.47" y1="507.7" x2="1022.47" y2="510.3" stroke="#3a3a3a" stroke-width="1"/>
<line x1="1036.95" y1="507.7" x2="1036.95" y2="512" stroke="#3a3a3a" stroke-width="1.2"/>
<text x="776.4" y="523.8" font-size="11.5" text-anchor="middle" stroke="#2a2a2a" stroke-width="0.2">0</text>
<text x="834.3" y="523.8" font-size="11.5" text-anchor="middle" stroke="#2a2a2a" stroke-width="0.2" textLength="18.5" lengthAdjust="spacingAndGlyphs">100</text>
<text x="892.2" y="523.8" font-size="11.5" text-anchor="middle" stroke="#2a2a2a" stroke-width="0.2" textLength="18.5" lengthAdjust="spacingAndGlyphs">200</text>
<text x="950.1" y="523.8" font-size="11.5" text-anchor="middle" stroke="#2a2a2a" stroke-width="0.2" textLength="18.5" lengthAdjust="spacingAndGlyphs">300</text>
<text x="1008" y="523.8" font-size="11.5" text-anchor="middle" stroke="#2a2a2a" stroke-width="0.2" textLength="18.5" lengthAdjust="spacingAndGlyphs">400</text>
<text x="722.2" y="399.5" font-size="15" text-anchor="middle" stroke="#2a2a2a" stroke-width="0.2" textLength="162.8" lengthAdjust="spacingAndGlyphs" transform="rotate(-90 722.2 399.5)">Surface Energy γ (mJ/m²)</text>
<text x="893.6" y="539.3" font-size="15" text-anchor="middle" stroke="#2a2a2a" stroke-width="0.2" textLength="182.4" lengthAdjust="spacingAndGlyphs">Particle mass fraction  ω (%)</text>
<text x="5.2" y="556" font-size="16.3" fill="#111" font-weight="bold" textLength="10.7" lengthAdjust="spacingAndGlyphs">G</text>
<line x1="37.6" y1="742.1" x2="331.3" y2="742.1" stroke="#dcdcdc" stroke-width="0.9" stroke-dasharray="1.5 1.5"/>
<line x1="37.6" y1="698.6" x2="331.3" y2="698.6" stroke="#dcdcdc" stroke-width="0.9" stroke-dasharray="1.5 1.5"/>
<line x1="37.6" y1="655.1" x2="331.3" y2="655.1" stroke="#dcdcdc" stroke-width="0.9" stroke-dasharray="1.5 1.5"/>
<line x1="37.6" y1="611.6" x2="331.3" y2="611.6" stroke="#dcdcdc" stroke-width="0.9" stroke-dasharray="1.5 1.5"/>
<line x1="37.6" y1="568.1" x2="331.3" y2="568.1" stroke="#dcdcdc" stroke-width="0.9" stroke-dasharray="1.5 1.5"/>
<line x1="103.05" y1="557" x2="103.05" y2="790.5" stroke="#dcdcdc" stroke-width="0.9" stroke-dasharray="1.5 1.5"/>
<line x1="168.5" y1="557" x2="168.5" y2="790.5" stroke="#dcdcdc" stroke-width="0.9" stroke-dasharray="1.5 1.5"/>
<line x1="233.95" y1="557" x2="233.95" y2="790.5" stroke="#dcdcdc" stroke-width="0.9" stroke-dasharray="1.5 1.5"/>
<line x1="299.4" y1="557" x2="299.4" y2="790.5" stroke="#dcdcdc" stroke-width="0.9" stroke-dasharray="1.5 1.5"/>
<path d="M37.6 742.1 L41.49 739 L46.5 735.04 L52.42 730.35 L59.07 725.08 L66.23 719.4 L73.73 713.44 L81.35 707.36 L88.91 701.31 L96.21 695.44 L103.05 689.9 L109.64 684.45 L116.31 678.8 L123.01 673.02 L129.73 667.2 L136.43 661.41 L143.07 655.72 L149.63 650.21 L156.08 644.96 L162.38 640.04 L168.5 635.52 L174.53 631.29 L180.56 627.2 L186.55 623.28 L192.44 619.58 L198.2 616.14 L203.78 613 L209.14 610.19 L214.24 607.76 L219.03 605.75 L223.48 604.21 L227.43 603.13 L230.84 602.49 L233.84 602.26 L236.56 602.41 L239.1 602.9 L241.61 603.7 L244.18 604.79 L246.96 606.13 L250.05 607.68 L253.58 609.43 L257.59 611.56 L261.95 614.22 L266.59 617.3 L271.41 620.68 L276.33 624.24 L281.26 627.87 L286.12 631.45 L290.82 634.87 L295.28 638.01 L299.4 640.75 L303.35 643.21 L307.31 645.59 L311.21 647.87 L315 650.03 L318.63 652.06 L322.02 653.92 L325.13 655.61 L327.88 657.11 L330.24 658.39 L332.12 659.45" fill="none" stroke="#3a56a8" stroke-width="1.3" stroke-dasharray="5 3.2"/>
<path d="M37.6 742.1 L41.49 739.88 L46.5 737.05 L52.42 733.72 L59.07 729.98 L66.23 725.92 L73.73 721.65 L81.35 717.25 L88.91 712.82 L96.21 708.46 L103.05 704.25 L109.62 700.05 L116.24 695.64 L122.89 691.1 L129.54 686.47 L136.18 681.83 L142.79 677.22 L149.35 672.7 L155.83 668.34 L162.22 664.19 L168.5 660.32 L174.77 656.55 L181.12 652.72 L187.48 648.92 L193.79 645.23 L200 641.72 L206.04 638.49 L211.86 635.61 L217.4 633.16 L222.6 631.22 L227.4 629.87 L231.71 629.2 L235.52 629.16 L238.94 629.65 L242.07 630.58 L244.99 631.85 L247.83 633.37 L250.66 635.02 L253.58 636.73 L256.71 638.38 L260.13 639.88 L263.82 641.34 L267.67 642.95 L271.64 644.66 L275.68 646.47 L279.76 648.33 L283.85 650.23 L287.89 652.14 L291.86 654.05 L295.71 655.91 L299.4 657.71 L303.08 659.55 L306.89 661.5 L310.73 663.51 L314.53 665.54 L318.22 667.52 L321.71 669.42 L324.92 671.18 L327.78 672.75 L330.21 674.08 L332.12 675.11" fill="none" stroke="#b04a4a" stroke-width="1.3" stroke-dasharray="5 3.2"/>
<path d="M37.6 742.1 L41.49 741.29 L46.5 740.32 L52.42 739.19 L59.07 737.91 L66.23 736.5 L73.73 734.96 L81.35 733.3 L88.91 731.54 L96.21 729.69 L103.05 727.75 L109.57 725.65 L116.04 723.34 L122.48 720.87 L128.92 718.27 L135.37 715.59 L141.85 712.88 L148.38 710.17 L154.99 707.51 L161.69 704.95 L168.5 702.51 L175.61 700.08 L183.11 697.52 L190.85 694.9 L198.71 692.29 L206.54 689.76 L214.21 687.39 L221.58 685.23 L228.5 683.36 L234.86 681.85 L240.49 680.76 L245.39 680.14 L249.66 679.92 L253.41 680.04 L256.73 680.46 L259.72 681.09 L262.49 681.89 L265.12 682.8 L267.72 683.75 L270.39 684.69 L273.22 685.55 L276.07 686.38 L278.77 687.25 L281.35 688.18 L283.85 689.17 L286.31 690.23 L288.77 691.37 L291.27 692.59 L293.85 693.91 L296.55 695.33 L299.4 696.86 L302.55 698.63 L306.05 700.69 L309.77 702.97 L313.59 705.36 L317.4 707.79 L321.08 710.16 L324.51 712.39 L327.57 714.38 L330.15 716.05 L332.12 717.31" fill="none" stroke="#999999" stroke-width="1.3" stroke-dasharray="5 3.2"/>
<path d="M103.05 686.33 L108.57 695.99 L97.53 695.99 Z" fill="#1b4ea3"/>
<path d="M168.5 623.69 L174.02 633.35 L162.98 633.35 Z" fill="#1b4ea3"/>
<path d="M233.95 598.89 L239.47 608.55 L228.43 608.55 Z" fill="#1b4ea3"/>
<path d="M299.4 632.38 L304.92 642.04 L293.88 642.04 Z" fill="#1b4ea3"/>
<path d="M103.05 705.9 L107.93 710.78 L103.05 715.65 L98.18 710.78 Z" fill="#b01218"/>
<path d="M168.5 647.62 L173.38 652.49 L168.5 657.37 L163.62 652.49 Z" fill="#b01218"/>
<path d="M233.95 625 L238.82 629.87 L233.95 634.75 L229.07 629.87 Z" fill="#b01218"/>
<path d="M299.4 654.14 L304.28 659.01 L299.4 663.89 L294.53 659.01 Z" fill="#b01218"/>
<circle cx="103.05" cy="735.58" r="4.2" fill="#555555"/>
<circle cx="168.5" cy="699.9" r="4.2" fill="#555555"/>
<circle cx="233.95" cy="682.07" r="4.2" fill="#555555"/>
<circle cx="299.4" cy="699.9" r="4.2" fill="#555555"/>
<rect x="37.6" y="557" width="293.7" height="233.5" fill="none" stroke="#3a3a3a" stroke-width="1.4"/>
<line x1="37.6" y1="785.6" x2="43.2" y2="785.6" stroke="#3a3a3a" stroke-width="1.2"/>
<line x1="37.6" y1="774.73" x2="41.4" y2="774.73" stroke="#3a3a3a" stroke-width="1.2"/>
<line x1="37.6" y1="763.85" x2="43.2" y2="763.85" stroke="#3a3a3a" stroke-width="1.2"/>
<line x1="37.6" y1="752.98" x2="41.4" y2="752.98" stroke="#3a3a3a" stroke-width="1.2"/>
<line x1="37.6" y1="742.1" x2="43.2" y2="742.1" stroke="#3a3a3a" stroke-width="1.2"/>
<line x1="37.6" y1="731.23" x2="41.4" y2="731.23" stroke="#3a3a3a" stroke-width="1.2"/>
<line x1="37.6" y1="720.35" x2="43.2" y2="720.35" stroke="#3a3a3a" stroke-width="1.2"/>
<line x1="37.6" y1="709.48" x2="41.4" y2="709.48" stroke="#3a3a3a" stroke-width="1.2"/>
<line x1="37.6" y1="698.6" x2="43.2" y2="698.6" stroke="#3a3a3a" stroke-width="1.2"/>
<line x1="37.6" y1="687.73" x2="41.4" y2="687.73" stroke="#3a3a3a" stroke-width="1.2"/>
<line x1="37.6" y1="676.85" x2="43.2" y2="676.85" stroke="#3a3a3a" stroke-width="1.2"/>
<line x1="37.6" y1="665.98" x2="41.4" y2="665.98" stroke="#3a3a3a" stroke-width="1.2"/>
<line x1="37.6" y1="655.1" x2="43.2" y2="655.1" stroke="#3a3a3a" stroke-width="1.2"/>
<line x1="37.6" y1="644.23" x2="41.4" y2="644.23" stroke="#3a3a3a" stroke-width="1.2"/>
<line x1="37.6" y1="633.35" x2="43.2" y2="633.35" stroke="#3a3a3a" stroke-width="1.2"/>
<line x1="37.6" y1="622.48" x2="41.4" y2="622.48" stroke="#3a3a3a" stroke-width="1.2"/>
<line x1="37.6" y1="611.6" x2="43.2" y2="611.6" stroke="#3a3a3a" stroke-width="1.2"/>
<line x1="37.6" y1="600.73" x2="41.4" y2="600.73" stroke="#3a3a3a" stroke-width="1.2"/>
<line x1="37.6" y1="589.85" x2="43.2" y2="589.85" stroke="#3a3a3a" stroke-width="1.2"/>
<line x1="37.6" y1="578.98" x2="41.4" y2="578.98" stroke="#3a3a3a" stroke-width="1.2"/>
<line x1="37.6" y1="568.1" x2="43.2" y2="568.1" stroke="#3a3a3a" stroke-width="1.2"/>
<text x="32.3" y="746.5" font-size="12" text-anchor="end" stroke="#2a2a2a" stroke-width="0.2">1</text>
<text x="32.3" y="703" font-size="12" text-anchor="end" stroke="#2a2a2a" stroke-width="0.2">2</text>
<text x="32.3" y="659.5" font-size="12" text-anchor="end" stroke="#2a2a2a" stroke-width="0.2">3</text>
<text x="32.3" y="616" font-size="12" text-anchor="end" stroke="#2a2a2a" stroke-width="0.2">4</text>
<text x="32.3" y="572.5" font-size="12" text-anchor="end" stroke="#2a2a2a" stroke-width="0.2">5</text>
<text x="32.1" y="796.4" font-size="12" text-anchor="end" stroke="#2a2a2a" stroke-width="0.2">0</text>
<line x1="37.6" y1="790.5" x2="37.6" y2="795" stroke="#3a3a3a" stroke-width="1.2"/>
<line x1="53.96" y1="790.5" x2="53.96" y2="793.3" stroke="#3a3a3a" stroke-width="1"/>
<line x1="70.33" y1="790.5" x2="70.33" y2="795" stroke="#3a3a3a" stroke-width="1.2"/>
<line x1="86.69" y1="790.5" x2="86.69" y2="793.3" stroke="#3a3a3a" stroke-width="1"/>
<line x1="103.05" y1="790.5" x2="103.05" y2="795" stroke="#3a3a3a" stroke-width="1.2"/>
<line x1="119.41" y1="790.5" x2="119.41" y2="793.3" stroke="#3a3a3a" stroke-width="1"/>
<line x1="135.78" y1="790.5" x2="135.78" y2="795" stroke="#3a3a3a" stroke-width="1.2"/>
<line x1="152.14" y1="790.5" x2="152.14" y2="793.3" stroke="#3a3a3a" stroke-width="1"/>
<line x1="168.5" y1="790.5" x2="168.5" y2="795" stroke="#3a3a3a" stroke-width="1.2"/>
<line x1="184.86" y1="790.5" x2="184.86" y2="793.3" stroke="#3a3a3a" stroke-width="1"/>
<line x1="201.22" y1="790.5" x2="201.22" y2="795" stroke="#3a3a3a" stroke-width="1.2"/>
<line x1="217.59" y1="790.5" x2="217.59" y2="793.3" stroke="#3a3a3a" stroke-width="1"/>
<line x1="233.95" y1="790.5" x2="233.95" y2="795" stroke="#3a3a3a" stroke-width="1.2"/>
<line x1="250.31" y1="790.5" x2="250.31" y2="793.3" stroke="#3a3a3a" stroke-width="1"/>
<line x1="266.68" y1="790.5" x2="266.68" y2="795" stroke="#3a3a3a" stroke-width="1.2"/>
<line x1="283.04" y1="790.5" x2="283.04" y2="793.3" stroke="#3a3a3a" stroke-width="1"/>
<line x1="299.4" y1="790.5" x2="299.4" y2="795" stroke="#3a3a3a" stroke-width="1.2"/>
<line x1="315.76" y1="790.5" x2="315.76" y2="793.3" stroke="#3a3a3a" stroke-width="1"/>
<line x1="332.12" y1="790.5" x2="332.12" y2="795" stroke="#3a3a3a" stroke-width="1.2"/>
<text x="36.1" y="809.4" font-size="12.5" text-anchor="middle" stroke="#2a2a2a" stroke-width="0.2">0</text>
<text x="103.05" y="809.4" font-size="12.5" text-anchor="middle" stroke="#2a2a2a" stroke-width="0.2" textLength="21" lengthAdjust="spacingAndGlyphs">100</text>
<text x="168.5" y="809.4" font-size="12.5" text-anchor="middle" stroke="#2a2a2a" stroke-width="0.2" textLength="21" lengthAdjust="spacingAndGlyphs">200</text>
<text x="233.95" y="809.4" font-size="12.5" text-anchor="middle" stroke="#2a2a2a" stroke-width="0.2" textLength="21" lengthAdjust="spacingAndGlyphs">300</text>
<text x="299.4" y="809.4" font-size="12.5" text-anchor="middle" stroke="#2a2a2a" stroke-width="0.2" textLength="21" lengthAdjust="spacingAndGlyphs">400</text>
<text x="189" y="826.2" font-size="15" text-anchor="middle" stroke="#2a2a2a" stroke-width="0.2" textLength="183" lengthAdjust="spacingAndGlyphs">Particle mass fraction  ω (%)</text>
<path d="M57.9 564.38 L62.34 572.14 L53.46 572.14 Z" fill="#1b4ea3"/>
<text x="65.5" y="573.6" font-size="12.5" stroke="#2a2a2a" stroke-width="0.2" textLength="39" lengthAdjust="spacingAndGlyphs">364 mT</text>
<path d="M57.9 580.52 L62.27 584.9 L57.9 589.27 L53.52 584.9 Z" fill="#b01218"/>
<text x="65.5" y="589.5" font-size="12.5" stroke="#2a2a2a" stroke-width="0.2" textLength="39" lengthAdjust="spacingAndGlyphs">250 mT</text>
<circle cx="57.9" cy="600.6" r="4" fill="#555555"/>
<text x="65.5" y="605.2" font-size="12.5" stroke="#2a2a2a" stroke-width="0.2" textLength="32.8" lengthAdjust="spacingAndGlyphs">98 mT</text>
<text x="1.5" y="682.8" font-size="10.5" fill="#333" stroke="#333" stroke-width="0.2">∇</text>
<text x="14.4" y="674" font-size="16" text-anchor="middle" stroke="#2a2a2a" stroke-width="0.2" font-family='"Liberation Serif", serif' font-style="italic">γ</text>
<line x1="8.7" y1="679.7" x2="20.3" y2="679.7" stroke="#999" stroke-width="0.9"/>
<text x="14.2" y="691" font-size="11.2" text-anchor="middle" stroke="#2a2a2a" stroke-width="0.2" font-style="italic">C</text>
<text x="355" y="556" font-size="16.3" fill="#111" font-weight="bold" textLength="10" lengthAdjust="spacingAndGlyphs">H</text>
<path d="M422.6 766.4 L423.23 744.11 L423.85 707.89 L425.11 668.89 L426.61 654.12 L428.87 648.41 L430.13 644.95 L430.94 644.07" fill="none" stroke="#6b7f95" stroke-width="1"/>
<rect x="420.6" y="764.4" width="4" height="4" fill="#474b52"/>
<rect x="421.23" y="742.11" width="4" height="4" fill="#474b52"/>
<rect x="421.85" y="705.89" width="4" height="4" fill="#474b52"/>
<rect x="423.11" y="666.89" width="4" height="4" fill="#474b52"/>
<rect x="424.61" y="652.12" width="4" height="4" fill="#474b52"/>
<rect x="426.87" y="646.41" width="4" height="4" fill="#474b52"/>
<rect x="428.13" y="642.95" width="4" height="4" fill="#474b52"/>
<rect x="428.94" y="642.07" width="4" height="4" fill="#474b52"/>
<rect x="429.76" y="643.51" width="4" height="4" fill="#474b52"/>
<rect x="430.57" y="642.1" width="4" height="4" fill="#474b52"/>
<rect x="431.39" y="642.9" width="4" height="4" fill="#474b52"/>
<rect x="432.2" y="642.83" width="4" height="4" fill="#474b52"/>
<rect x="433.02" y="641.25" width="4" height="4" fill="#474b52"/>
<rect x="433.83" y="642.4" width="4" height="4" fill="#474b52"/>
<rect x="434.65" y="642.47" width="4" height="4" fill="#474b52"/>
<rect x="435.46" y="641.87" width="4" height="4" fill="#474b52"/>
<rect x="436.28" y="641.53" width="4" height="4" fill="#474b52"/>
<rect x="437.1" y="642.27" width="4" height="4" fill="#474b52"/>
<rect x="437.91" y="641.78" width="4" height="4" fill="#474b52"/>
<rect x="438.73" y="642.81" width="4" height="4" fill="#474b52"/>
<rect x="439.54" y="642.33" width="4" height="4" fill="#474b52"/>
<rect x="440.36" y="642.32" width="4" height="4" fill="#474b52"/>
<rect x="441.17" y="642.89" width="4" height="4" fill="#474b52"/>
<rect x="441.99" y="642.96" width="4" height="4" fill="#474b52"/>
<rect x="442.8" y="642.99" width="4" height="4" fill="#474b52"/>
<rect x="443.62" y="641.97" width="4" height="4" fill="#474b52"/>
<rect x="444.43" y="641.87" width="4" height="4" fill="#474b52"/>
<rect x="445.25" y="641.92" width="4" height="4" fill="#474b52"/>
<rect x="446.06" y="641.6" width="4" height="4" fill="#474b52"/>
<rect x="446.88" y="642.53" width="4" height="4" fill="#474b52"/>
<rect x="447.7" y="641.61" width="4" height="4" fill="#474b52"/>
<rect x="448.51" y="641.34" width="4" height="4" fill="#474b52"/>
<rect x="449.33" y="640.94" width="4" height="4" fill="#474b52"/>
<rect x="450.14" y="642.01" width="4" height="4" fill="#474b52"/>
<rect x="450.96" y="641.66" width="4" height="4" fill="#474b52"/>
<rect x="451.77" y="642.74" width="4" height="4" fill="#474b52"/>
<rect x="452.59" y="641.65" width="4" height="4" fill="#474b52"/>
<rect x="453.4" y="642.78" width="4" height="4" fill="#474b52"/>
<rect x="454.22" y="642.2" width="4" height="4" fill="#474b52"/>
<rect x="455.03" y="640.41" width="4" height="4" fill="#474b52"/>
<rect x="455.85" y="642.67" width="4" height="4" fill="#474b52"/>
<rect x="456.66" y="640.54" width="4" height="4" fill="#474b52"/>
<rect x="457.48" y="640.83" width="4" height="4" fill="#474b52"/>
<rect x="458.29" y="641.24" width="4" height="4" fill="#474b52"/>
<rect x="459.11" y="640.67" width="4" height="4" fill="#474b52"/>
<rect x="459.93" y="640.59" width="4" height="4" fill="#474b52"/>
<rect x="460.74" y="640.2" width="4" height="4" fill="#474b52"/>
<rect x="461.56" y="641.05" width="4" height="4" fill="#474b52"/>
<rect x="462.37" y="641.27" width="4" height="4" fill="#474b52"/>
<rect x="463.19" y="641.25" width="4" height="4" fill="#474b52"/>
<rect x="464" y="641.48" width="4" height="4" fill="#474b52"/>
<rect x="464.82" y="640.79" width="4" height="4" fill="#474b52"/>
<rect x="465.63" y="641.28" width="4" height="4" fill="#474b52"/>
<rect x="466.45" y="639.96" width="4" height="4" fill="#474b52"/>
<rect x="467.26" y="641.98" width="4" height="4" fill="#474b52"/>
<rect x="468.08" y="641.41" width="4" height="4" fill="#474b52"/>
<rect x="468.89" y="641.28" width="4" height="4" fill="#474b52"/>
<rect x="469.71" y="642.05" width="4" height="4" fill="#474b52"/>
<rect x="470.53" y="639.24" width="4" height="4" fill="#474b52"/>
<rect x="471.34" y="642.21" width="4" height="4" fill="#474b52"/>
<rect x="472.16" y="640.71" width="4" height="4" fill="#474b52"/>
<rect x="472.97" y="640.85" width="4" height="4" fill="#474b52"/>
<rect x="473.79" y="639.3" width="4" height="4" fill="#474b52"/>
<rect x="474.6" y="641.81" width="4" height="4" fill="#474b52"/>
<rect x="475.42" y="639.66" width="4" height="4" fill="#474b52"/>
<rect x="476.23" y="640.89" width="4" height="4" fill="#474b52"/>
<rect x="477.05" y="640.47" width="4" height="4" fill="#474b52"/>
<rect x="477.86" y="640.8" width="4" height="4" fill="#474b52"/>
<rect x="478.68" y="639.87" width="4" height="4" fill="#474b52"/>
<rect x="479.49" y="641.08" width="4" height="4" fill="#474b52"/>
<rect x="480.31" y="640.32" width="4" height="4" fill="#474b52"/>
<rect x="481.12" y="640" width="4" height="4" fill="#474b52"/>
<rect x="481.94" y="638.94" width="4" height="4" fill="#474b52"/>
<rect x="482.76" y="641.88" width="4" height="4" fill="#474b52"/>
<rect x="483.57" y="639.12" width="4" height="4" fill="#474b52"/>
<rect x="484.39" y="639.5" width="4" height="4" fill="#474b52"/>
<rect x="485.2" y="640.48" width="4" height="4" fill="#474b52"/>
<rect x="486.02" y="639.91" width="4" height="4" fill="#474b52"/>
<rect x="486.83" y="640.42" width="4" height="4" fill="#474b52"/>
<rect x="487.65" y="638.93" width="4" height="4" fill="#474b52"/>
<rect x="488.46" y="639.91" width="4" height="4" fill="#474b52"/>
<rect x="489.28" y="640.19" width="4" height="4" fill="#474b52"/>
<rect x="490.09" y="640.18" width="4" height="4" fill="#474b52"/>
<rect x="490.91" y="640.14" width="4" height="4" fill="#474b52"/>
<rect x="491.72" y="640.11" width="4" height="4" fill="#474b52"/>
<rect x="492.54" y="640.58" width="4" height="4" fill="#474b52"/>
<rect x="493.36" y="638.52" width="4" height="4" fill="#474b52"/>
<rect x="494.17" y="641.26" width="4" height="4" fill="#474b52"/>
<rect x="494.99" y="642.43" width="4" height="4" fill="#474b52"/>
<rect x="495.8" y="639.98" width="4" height="4" fill="#474b52"/>
<rect x="496.62" y="639.98" width="4" height="4" fill="#474b52"/>
<rect x="497.43" y="639.6" width="4" height="4" fill="#474b52"/>
<rect x="498.25" y="639.99" width="4" height="4" fill="#474b52"/>
<rect x="499.06" y="639.93" width="4" height="4" fill="#474b52"/>
<rect x="499.88" y="639.58" width="4" height="4" fill="#474b52"/>
<rect x="500.69" y="639.12" width="4" height="4" fill="#474b52"/>
<rect x="501.51" y="640.09" width="4" height="4" fill="#474b52"/>
<rect x="502.32" y="640.03" width="4" height="4" fill="#474b52"/>
<rect x="503.14" y="638.4" width="4" height="4" fill="#474b52"/>
<rect x="503.95" y="639.37" width="4" height="4" fill="#474b52"/>
<rect x="504.77" y="640.41" width="4" height="4" fill="#474b52"/>
<rect x="505.59" y="638.09" width="4" height="4" fill="#474b52"/>
<rect x="506.4" y="639.15" width="4" height="4" fill="#474b52"/>
<rect x="507.22" y="640.09" width="4" height="4" fill="#474b52"/>
<rect x="508.03" y="640.48" width="4" height="4" fill="#474b52"/>
<rect x="508.85" y="639.44" width="4" height="4" fill="#474b52"/>
<rect x="509.66" y="640.21" width="4" height="4" fill="#474b52"/>
<rect x="510.48" y="640.36" width="4" height="4" fill="#474b52"/>
<rect x="511.29" y="640.51" width="4" height="4" fill="#474b52"/>
<rect x="512.11" y="639.94" width="4" height="4" fill="#474b52"/>
<rect x="512.92" y="638.81" width="4" height="4" fill="#474b52"/>
<rect x="513.74" y="639.87" width="4" height="4" fill="#474b52"/>
<rect x="514.55" y="640.56" width="4" height="4" fill="#474b52"/>
<rect x="515.37" y="639.07" width="4" height="4" fill="#474b52"/>
<rect x="516.19" y="639.48" width="4" height="4" fill="#474b52"/>
<rect x="517" y="638.92" width="4" height="4" fill="#474b52"/>
<rect x="517.82" y="638.66" width="4" height="4" fill="#474b52"/>
<rect x="518.63" y="639.6" width="4" height="4" fill="#474b52"/>
<rect x="519.45" y="639.57" width="4" height="4" fill="#474b52"/>
<rect x="520.26" y="639.49" width="4" height="4" fill="#474b52"/>
<rect x="521.08" y="640.24" width="4" height="4" fill="#474b52"/>
<rect x="521.89" y="638.97" width="4" height="4" fill="#474b52"/>
<rect x="522.71" y="638.46" width="4" height="4" fill="#474b52"/>
<rect x="523.52" y="639.29" width="4" height="4" fill="#474b52"/>
<rect x="524.34" y="639.56" width="4" height="4" fill="#474b52"/>
<rect x="525.15" y="639.56" width="4" height="4" fill="#474b52"/>
<rect x="525.97" y="639.91" width="4" height="4" fill="#474b52"/>
<rect x="526.78" y="639.92" width="4" height="4" fill="#474b52"/>
<rect x="527.6" y="639.63" width="4" height="4" fill="#474b52"/>
<rect x="528.42" y="639.92" width="4" height="4" fill="#474b52"/>
<rect x="529.23" y="639.63" width="4" height="4" fill="#474b52"/>
<rect x="530.05" y="640.41" width="4" height="4" fill="#474b52"/>
<rect x="530.86" y="639.06" width="4" height="4" fill="#474b52"/>
<rect x="531.68" y="639.25" width="4" height="4" fill="#474b52"/>
<rect x="532.49" y="640.08" width="4" height="4" fill="#474b52"/>
<rect x="533.31" y="640.87" width="4" height="4" fill="#474b52"/>
<rect x="534.12" y="639.26" width="4" height="4" fill="#474b52"/>
<rect x="534.94" y="638.47" width="4" height="4" fill="#474b52"/>
<rect x="535.75" y="639.74" width="4" height="4" fill="#474b52"/>
<rect x="536.57" y="639.56" width="4" height="4" fill="#474b52"/>
<rect x="537.38" y="639.6" width="4" height="4" fill="#474b52"/>
<rect x="538.2" y="638.74" width="4" height="4" fill="#474b52"/>
<rect x="539.02" y="639.82" width="4" height="4" fill="#474b52"/>
<rect x="539.83" y="638.49" width="4" height="4" fill="#474b52"/>
<rect x="540.65" y="639.37" width="4" height="4" fill="#474b52"/>
<rect x="541.46" y="638.51" width="4" height="4" fill="#474b52"/>
<rect x="542.28" y="639.12" width="4" height="4" fill="#474b52"/>
<rect x="543.09" y="639.29" width="4" height="4" fill="#474b52"/>
<rect x="543.91" y="640.15" width="4" height="4" fill="#474b52"/>
<rect x="544.72" y="639.59" width="4" height="4" fill="#474b52"/>
<rect x="545.54" y="639.28" width="4" height="4" fill="#474b52"/>
<rect x="546.35" y="638.63" width="4" height="4" fill="#474b52"/>
<rect x="547.17" y="638.91" width="4" height="4" fill="#474b52"/>
<rect x="547.98" y="639.55" width="4" height="4" fill="#474b52"/>
<rect x="548.8" y="638.77" width="4" height="4" fill="#474b52"/>
<rect x="549.62" y="638.36" width="4" height="4" fill="#474b52"/>
<rect x="550.43" y="639.14" width="4" height="4" fill="#474b52"/>
<rect x="551.25" y="639.33" width="4" height="4" fill="#474b52"/>
<rect x="552.06" y="639.29" width="4" height="4" fill="#474b52"/>
<rect x="552.88" y="638.44" width="4" height="4" fill="#474b52"/>
<rect x="553.69" y="638.62" width="4" height="4" fill="#474b52"/>
<rect x="554.51" y="639.63" width="4" height="4" fill="#474b52"/>
<rect x="555.32" y="638.71" width="4" height="4" fill="#474b52"/>
<rect x="556.14" y="639.3" width="4" height="4" fill="#474b52"/>
<rect x="556.95" y="639.48" width="4" height="4" fill="#474b52"/>
<rect x="557.77" y="638.08" width="4" height="4" fill="#474b52"/>
<rect x="558.58" y="638.36" width="4" height="4" fill="#474b52"/>
<rect x="559.4" y="639.43" width="4" height="4" fill="#474b52"/>
<rect x="560.21" y="638.86" width="4" height="4" fill="#474b52"/>
<rect x="561.03" y="638.55" width="4" height="4" fill="#474b52"/>
<rect x="561.85" y="639.34" width="4" height="4" fill="#474b52"/>
<rect x="562.66" y="638.97" width="4" height="4" fill="#474b52"/>
<rect x="563.48" y="638.41" width="4" height="4" fill="#474b52"/>
<rect x="564.29" y="640.11" width="4" height="4" fill="#474b52"/>
<rect x="565.11" y="638.62" width="4" height="4" fill="#474b52"/>
<rect x="565.92" y="638.33" width="4" height="4" fill="#474b52"/>
<rect x="566.74" y="638.48" width="4" height="4" fill="#474b52"/>
<rect x="567.55" y="639.76" width="4" height="4" fill="#474b52"/>
<rect x="568.37" y="638.59" width="4" height="4" fill="#474b52"/>
<rect x="569.18" y="639.4" width="4" height="4" fill="#474b52"/>
<rect x="570" y="638.4" width="4" height="4" fill="#474b52"/>
<rect x="570.81" y="638.36" width="4" height="4" fill="#474b52"/>
<rect x="571.63" y="638.62" width="4" height="4" fill="#474b52"/>
<rect x="572.45" y="639.3" width="4" height="4" fill="#474b52"/>
<rect x="573.26" y="639.17" width="4" height="4" fill="#474b52"/>
<rect x="574.08" y="638.15" width="4" height="4" fill="#474b52"/>
<rect x="574.89" y="639.36" width="4" height="4" fill="#474b52"/>
<rect x="575.71" y="638.38" width="4" height="4" fill="#474b52"/>
<rect x="576.52" y="638.36" width="4" height="4" fill="#474b52"/>
<rect x="577.34" y="638.9" width="4" height="4" fill="#474b52"/>
<rect x="578.15" y="637.03" width="4" height="4" fill="#474b52"/>
<rect x="578.97" y="638.64" width="4" height="4" fill="#474b52"/>
<rect x="579.78" y="637.18" width="4" height="4" fill="#474b52"/>
<rect x="580.6" y="640.07" width="4" height="4" fill="#474b52"/>
<rect x="581.41" y="640.22" width="4" height="4" fill="#474b52"/>
<rect x="582.23" y="637.96" width="4" height="4" fill="#474b52"/>
<rect x="583.04" y="638.2" width="4" height="4" fill="#474b52"/>
<rect x="583.86" y="638.85" width="4" height="4" fill="#474b52"/>
<rect x="584.68" y="638.66" width="4" height="4" fill="#474b52"/>
<rect x="585.49" y="639.94" width="4" height="4" fill="#474b52"/>
<rect x="586.31" y="639.04" width="4" height="4" fill="#474b52"/>
<rect x="587.12" y="639.31" width="4" height="4" fill="#474b52"/>
<rect x="587.94" y="638.74" width="4" height="4" fill="#474b52"/>
<rect x="588.75" y="637.95" width="4" height="4" fill="#474b52"/>
<rect x="589.57" y="638.53" width="4" height="4" fill="#474b52"/>
<rect x="590.38" y="638.29" width="4" height="4" fill="#474b52"/>
<rect x="591.2" y="639.03" width="4" height="4" fill="#474b52"/>
<rect x="592.01" y="638.84" width="4" height="4" fill="#474b52"/>
<rect x="592.83" y="638.45" width="4" height="4" fill="#474b52"/>
<rect x="593.64" y="638.71" width="4" height="4" fill="#474b52"/>
<rect x="594.46" y="637.62" width="4" height="4" fill="#474b52"/>
<rect x="595.28" y="639.11" width="4" height="4" fill="#474b52"/>
<rect x="596.09" y="637.17" width="4" height="4" fill="#474b52"/>
<rect x="596.91" y="639.16" width="4" height="4" fill="#474b52"/>
<rect x="597.72" y="637.73" width="4" height="4" fill="#474b52"/>
<rect x="598.54" y="639" width="4" height="4" fill="#474b52"/>
<rect x="599.35" y="637.3" width="4" height="4" fill="#474b52"/>
<rect x="600.17" y="638.34" width="4" height="4" fill="#474b52"/>
<rect x="600.98" y="638.15" width="4" height="4" fill="#474b52"/>
<rect x="601.8" y="637.9" width="4" height="4" fill="#474b52"/>
<rect x="602.61" y="638.85" width="4" height="4" fill="#474b52"/>
<rect x="603.43" y="639.13" width="4" height="4" fill="#474b52"/>
<rect x="604.24" y="639.8" width="4" height="4" fill="#474b52"/>
<rect x="605.06" y="637.53" width="4" height="4" fill="#474b52"/>
<rect x="605.87" y="638.86" width="4" height="4" fill="#474b52"/>
<rect x="606.69" y="638.78" width="4" height="4" fill="#474b52"/>
<rect x="607.51" y="638.38" width="4" height="4" fill="#474b52"/>
<rect x="608.32" y="636.96" width="4" height="4" fill="#474b52"/>
<rect x="609.14" y="639.54" width="4" height="4" fill="#474b52"/>
<rect x="609.95" y="638.15" width="4" height="4" fill="#474b52"/>
<rect x="610.77" y="638.59" width="4" height="4" fill="#474b52"/>
<rect x="611.58" y="637.94" width="4" height="4" fill="#474b52"/>
<rect x="612.4" y="639.55" width="4" height="4" fill="#474b52"/>
<rect x="613.21" y="638.57" width="4" height="4" fill="#474b52"/>
<rect x="614.03" y="637.7" width="4" height="4" fill="#474b52"/>
<rect x="614.84" y="637.19" width="4" height="4" fill="#474b52"/>
<rect x="615.66" y="637.15" width="4" height="4" fill="#474b52"/>
<rect x="616.47" y="638.85" width="4" height="4" fill="#474b52"/>
<rect x="617.29" y="638.21" width="4" height="4" fill="#474b52"/>
<rect x="618.11" y="638.31" width="4" height="4" fill="#474b52"/>
<rect x="618.92" y="639.19" width="4" height="4" fill="#474b52"/>
<rect x="619.74" y="639.22" width="4" height="4" fill="#474b52"/>
<rect x="620.55" y="637.68" width="4" height="4" fill="#474b52"/>
<rect x="621.37" y="638.03" width="4" height="4" fill="#474b52"/>
<rect x="622.18" y="638.29" width="4" height="4" fill="#474b52"/>
<rect x="623" y="637.33" width="4" height="4" fill="#474b52"/>
<rect x="623.81" y="638.87" width="4" height="4" fill="#474b52"/>
<rect x="624.63" y="637.8" width="4" height="4" fill="#474b52"/>
<rect x="625.44" y="638.15" width="4" height="4" fill="#474b52"/>
<rect x="626.26" y="638.19" width="4" height="4" fill="#474b52"/>
<rect x="627.07" y="637.79" width="4" height="4" fill="#474b52"/>
<rect x="627.89" y="638" width="4" height="4" fill="#474b52"/>
<rect x="628.7" y="637.93" width="4" height="4" fill="#474b52"/>
<rect x="629.52" y="637.92" width="4" height="4" fill="#474b52"/>
<rect x="630.34" y="636.75" width="4" height="4" fill="#474b52"/>
<rect x="631.15" y="638.31" width="4" height="4" fill="#474b52"/>
<rect x="631.97" y="637.37" width="4" height="4" fill="#474b52"/>
<rect x="632.78" y="637.65" width="4" height="4" fill="#474b52"/>
<rect x="633.6" y="638.31" width="4" height="4" fill="#474b52"/>
<rect x="634.41" y="637.5" width="4" height="4" fill="#474b52"/>
<rect x="635.23" y="638.64" width="4" height="4" fill="#474b52"/>
<rect x="636.04" y="637.23" width="4" height="4" fill="#474b52"/>
<rect x="636.86" y="638.59" width="4" height="4" fill="#474b52"/>
<rect x="637.67" y="638.36" width="4" height="4" fill="#474b52"/>
<rect x="638.49" y="637.78" width="4" height="4" fill="#474b52"/>
<rect x="639.3" y="637.42" width="4" height="4" fill="#474b52"/>
<rect x="640.12" y="637.36" width="4" height="4" fill="#474b52"/>
<rect x="640.94" y="637.36" width="4" height="4" fill="#474b52"/>
<rect x="641.75" y="638.11" width="4" height="4" fill="#474b52"/>
<rect x="642.57" y="638.63" width="4" height="4" fill="#474b52"/>
<rect x="643.38" y="637.57" width="4" height="4" fill="#474b52"/>
<rect x="644.2" y="637.73" width="4" height="4" fill="#474b52"/>
<rect x="645.01" y="638.6" width="4" height="4" fill="#474b52"/>
<rect x="645.83" y="637.25" width="4" height="4" fill="#474b52"/>
<rect x="646.64" y="637.78" width="4" height="4" fill="#474b52"/>
<rect x="647.46" y="638.57" width="4" height="4" fill="#474b52"/>
<rect x="648.27" y="637.59" width="4" height="4" fill="#474b52"/>
<rect x="649.09" y="638.81" width="4" height="4" fill="#474b52"/>
<rect x="649.9" y="638.49" width="4" height="4" fill="#474b52"/>
<rect x="650.72" y="637.59" width="4" height="4" fill="#474b52"/>
<rect x="651.54" y="638.95" width="4" height="4" fill="#474b52"/>
<rect x="652.35" y="637.83" width="4" height="4" fill="#474b52"/>
<rect x="653.17" y="638.78" width="4" height="4" fill="#474b52"/>
<rect x="653.98" y="637.32" width="4" height="4" fill="#474b52"/>
<rect x="654.8" y="638.33" width="4" height="4" fill="#474b52"/>
<rect x="655.61" y="637.69" width="4" height="4" fill="#474b52"/>
<rect x="656.43" y="638.85" width="4" height="4" fill="#474b52"/>
<rect x="657.24" y="638.04" width="4" height="4" fill="#474b52"/>
<rect x="658.06" y="637.13" width="4" height="4" fill="#474b52"/>
<rect x="658.87" y="637.46" width="4" height="4" fill="#474b52"/>
<rect x="659.69" y="639.05" width="4" height="4" fill="#474b52"/>
<rect x="660.5" y="637.12" width="4" height="4" fill="#474b52"/>
<rect x="661.32" y="637.13" width="4" height="4" fill="#474b52"/>
<rect x="662.13" y="638" width="4" height="4" fill="#474b52"/>
<rect x="662.95" y="636.75" width="4" height="4" fill="#474b52"/>
<rect x="663.77" y="638.46" width="4" height="4" fill="#474b52"/>
<rect x="664.58" y="637.77" width="4" height="4" fill="#474b52"/>
<rect x="665.4" y="636.93" width="4" height="4" fill="#474b52"/>
<rect x="666.21" y="636.78" width="4" height="4" fill="#474b52"/>
<rect x="667.03" y="636.8" width="4" height="4" fill="#474b52"/>
<rect x="667.84" y="638.44" width="4" height="4" fill="#474b52"/>
<rect x="668.66" y="638.91" width="4" height="4" fill="#474b52"/>
<rect x="669.47" y="637.39" width="4" height="4" fill="#474b52"/>
<rect x="670.29" y="638.65" width="4" height="4" fill="#474b52"/>
<rect x="671.1" y="637.73" width="4" height="4" fill="#474b52"/>
<circle cx="422.4" cy="767.1" r="1.85" fill="#f2a72e"/>
<circle cx="423.4" cy="735.2" r="1.85" fill="#f2a72e"/>
<circle cx="424.6" cy="709.3" r="1.85" fill="#f2a72e"/>
<circle cx="425.2" cy="686.2" r="1.85" fill="#f2a72e"/>
<circle cx="428.3" cy="660.3" r="1.85" fill="#f2a72e"/>
<circle cx="431.07" cy="638.19" r="1.85" fill="#f2a72e"/>
<circle cx="431.95" cy="636.96" r="1.85" fill="#f2a72e"/>
<circle cx="432.82" cy="635.3" r="1.85" fill="#f2a72e"/>
<circle cx="433.7" cy="632.91" r="1.85" fill="#f2a72e"/>
<circle cx="434.58" cy="631.72" r="1.85" fill="#f2a72e"/>
<circle cx="435.46" cy="628.89" r="1.85" fill="#f2a72e"/>
<circle cx="436.34" cy="629.83" r="1.85" fill="#f2a72e"/>
<circle cx="437.21" cy="631.72" r="1.85" fill="#f2a72e"/>
<circle cx="438.09" cy="634.26" r="1.85" fill="#f2a72e"/>
<circle cx="438.97" cy="635.14" r="1.85" fill="#f2a72e"/>
<circle cx="439.85" cy="637.7" r="1.85" fill="#f2a72e"/>
<circle cx="440.73" cy="639.18" r="1.85" fill="#f2a72e"/>
<circle cx="441.6" cy="640.23" r="1.85" fill="#f2a72e"/>
<circle cx="442.48" cy="641.79" r="1.85" fill="#f2a72e"/>
<circle cx="443.36" cy="642.38" r="1.85" fill="#f2a72e"/>
<circle cx="444.24" cy="643.78" r="1.85" fill="#f2a72e"/>
<circle cx="445.12" cy="644.74" r="1.85" fill="#f2a72e"/>
<circle cx="445.99" cy="646.03" r="1.85" fill="#f2a72e"/>
<circle cx="446.87" cy="645.56" r="1.85" fill="#f2a72e"/>
<circle cx="447.75" cy="645.23" r="1.85" fill="#f2a72e"/>
<circle cx="448.63" cy="643.99" r="1.85" fill="#f2a72e"/>
<circle cx="449.51" cy="642.84" r="1.85" fill="#f2a72e"/>
<circle cx="450.38" cy="642.85" r="1.85" fill="#f2a72e"/>
<circle cx="451.26" cy="642.11" r="1.85" fill="#f2a72e"/>
<circle cx="452.14" cy="641.57" r="1.85" fill="#f2a72e"/>
<circle cx="453.02" cy="643.7" r="1.85" fill="#f2a72e"/>
<circle cx="453.9" cy="644.54" r="1.85" fill="#f2a72e"/>
<circle cx="454.78" cy="645.71" r="1.85" fill="#f2a72e"/>
<circle cx="455.65" cy="645.82" r="1.85" fill="#f2a72e"/>
<circle cx="456.53" cy="646.4" r="1.85" fill="#f2a72e"/>
<circle cx="457.41" cy="648.13" r="1.85" fill="#f2a72e"/>
<circle cx="458.29" cy="647.42" r="1.85" fill="#f2a72e"/>
<circle cx="459.17" cy="647.12" r="1.85" fill="#f2a72e"/>
<circle cx="460.04" cy="646.37" r="1.85" fill="#f2a72e"/>
<circle cx="460.92" cy="646.32" r="1.85" fill="#f2a72e"/>
<circle cx="461.8" cy="644.83" r="1.85" fill="#f2a72e"/>
<circle cx="462.68" cy="644.84" r="1.85" fill="#f2a72e"/>
<circle cx="463.56" cy="643.42" r="1.85" fill="#f2a72e"/>
<circle cx="464.43" cy="642.36" r="1.85" fill="#f2a72e"/>
<circle cx="465.31" cy="643.27" r="1.85" fill="#f2a72e"/>
<circle cx="466.19" cy="644.22" r="1.85" fill="#f2a72e"/>
<circle cx="467.07" cy="642.11" r="1.85" fill="#f2a72e"/>
<circle cx="467.95" cy="643.52" r="1.85" fill="#f2a72e"/>
<circle cx="468.82" cy="642.29" r="1.85" fill="#f2a72e"/>
<circle cx="469.7" cy="641.4" r="1.85" fill="#f2a72e"/>
<circle cx="470.58" cy="642.5" r="1.85" fill="#f2a72e"/>
<circle cx="471.46" cy="643.38" r="1.85" fill="#f2a72e"/>
<circle cx="472.34" cy="642.67" r="1.85" fill="#f2a72e"/>
<circle cx="473.22" cy="643.78" r="1.85" fill="#f2a72e"/>
<circle cx="474.09" cy="643.58" r="1.85" fill="#f2a72e"/>
<circle cx="474.97" cy="643.07" r="1.85" fill="#f2a72e"/>
<circle cx="475.85" cy="640.5" r="1.85" fill="#f2a72e"/>
<circle cx="476.73" cy="642.04" r="1.85" fill="#f2a72e"/>
<circle cx="477.61" cy="642.07" r="1.85" fill="#f2a72e"/>
<circle cx="478.48" cy="642.72" r="1.85" fill="#f2a72e"/>
<circle cx="479.36" cy="639.43" r="1.85" fill="#f2a72e"/>
<circle cx="480.24" cy="641.49" r="1.85" fill="#f2a72e"/>
<circle cx="481.12" cy="639.86" r="1.85" fill="#f2a72e"/>
<circle cx="482" cy="642.24" r="1.85" fill="#f2a72e"/>
<circle cx="482.87" cy="642.34" r="1.85" fill="#f2a72e"/>
<circle cx="483.75" cy="640.49" r="1.85" fill="#f2a72e"/>
<circle cx="484.63" cy="640.04" r="1.85" fill="#f2a72e"/>
<circle cx="485.51" cy="642.03" r="1.85" fill="#f2a72e"/>
<circle cx="486.39" cy="642.91" r="1.85" fill="#f2a72e"/>
<circle cx="487.26" cy="642.02" r="1.85" fill="#f2a72e"/>
<circle cx="488.14" cy="642.97" r="1.85" fill="#f2a72e"/>
<circle cx="489.02" cy="640.83" r="1.85" fill="#f2a72e"/>
<circle cx="489.9" cy="642.43" r="1.85" fill="#f2a72e"/>
<circle cx="490.78" cy="642.8" r="1.85" fill="#f2a72e"/>
<circle cx="491.65" cy="642.25" r="1.85" fill="#f2a72e"/>
<circle cx="492.53" cy="643.25" r="1.85" fill="#f2a72e"/>
<circle cx="493.41" cy="640.34" r="1.85" fill="#f2a72e"/>
<circle cx="494.29" cy="639.29" r="1.85" fill="#f2a72e"/>
<circle cx="495.17" cy="642.17" r="1.85" fill="#f2a72e"/>
<circle cx="496.05" cy="641.25" r="1.85" fill="#f2a72e"/>
<circle cx="496.92" cy="642.05" r="1.85" fill="#f2a72e"/>
<circle cx="497.8" cy="642.19" r="1.85" fill="#f2a72e"/>
<circle cx="498.68" cy="641.65" r="1.85" fill="#f2a72e"/>
<circle cx="499.56" cy="642.13" r="1.85" fill="#f2a72e"/>
<circle cx="500.44" cy="641.93" r="1.85" fill="#f2a72e"/>
<circle cx="501.31" cy="639.13" r="1.85" fill="#f2a72e"/>
<circle cx="502.19" cy="641.23" r="1.85" fill="#f2a72e"/>
<circle cx="503.07" cy="643.88" r="1.85" fill="#f2a72e"/>
<circle cx="503.95" cy="641.92" r="1.85" fill="#f2a72e"/>
<circle cx="504.83" cy="643.42" r="1.85" fill="#f2a72e"/>
<circle cx="505.7" cy="642.17" r="1.85" fill="#f2a72e"/>
<circle cx="506.58" cy="641.34" r="1.85" fill="#f2a72e"/>
<circle cx="507.46" cy="642.89" r="1.85" fill="#f2a72e"/>
<circle cx="508.34" cy="642.14" r="1.85" fill="#f2a72e"/>
<circle cx="509.22" cy="641.04" r="1.85" fill="#f2a72e"/>
<circle cx="510.09" cy="642.77" r="1.85" fill="#f2a72e"/>
<circle cx="510.97" cy="641.33" r="1.85" fill="#f2a72e"/>
<circle cx="511.85" cy="642.63" r="1.85" fill="#f2a72e"/>
<circle cx="512.73" cy="644.65" r="1.85" fill="#f2a72e"/>
<circle cx="513.61" cy="643.71" r="1.85" fill="#f2a72e"/>
<circle cx="514.48" cy="642.09" r="1.85" fill="#f2a72e"/>
<circle cx="515.36" cy="642.81" r="1.85" fill="#f2a72e"/>
<circle cx="516.24" cy="641.86" r="1.85" fill="#f2a72e"/>
<circle cx="517.12" cy="642.15" r="1.85" fill="#f2a72e"/>
<circle cx="518" cy="641.42" r="1.85" fill="#f2a72e"/>
<circle cx="518.88" cy="640.02" r="1.85" fill="#f2a72e"/>
<circle cx="519.75" cy="639.76" r="1.85" fill="#f2a72e"/>
<circle cx="520.63" cy="640.05" r="1.85" fill="#f2a72e"/>
<circle cx="521.51" cy="639.86" r="1.85" fill="#f2a72e"/>
<circle cx="522.39" cy="641.45" r="1.85" fill="#f2a72e"/>
<circle cx="523.27" cy="641.61" r="1.85" fill="#f2a72e"/>
<circle cx="524.14" cy="641.7" r="1.85" fill="#f2a72e"/>
<circle cx="525.02" cy="641.4" r="1.85" fill="#f2a72e"/>
<circle cx="525.9" cy="641.74" r="1.85" fill="#f2a72e"/>
<circle cx="526.78" cy="643.63" r="1.85" fill="#f2a72e"/>
<circle cx="527.66" cy="642.87" r="1.85" fill="#f2a72e"/>
<circle cx="528.53" cy="643.54" r="1.85" fill="#f2a72e"/>
<circle cx="529.41" cy="641.19" r="1.85" fill="#f2a72e"/>
<circle cx="530.29" cy="641.52" r="1.85" fill="#f2a72e"/>
<circle cx="531.17" cy="642.22" r="1.85" fill="#f2a72e"/>
<circle cx="532.05" cy="638.61" r="1.85" fill="#f2a72e"/>
<circle cx="532.92" cy="637.27" r="1.85" fill="#f2a72e"/>
<circle cx="533.8" cy="638.11" r="1.85" fill="#f2a72e"/>
<circle cx="534.68" cy="639.8" r="1.85" fill="#f2a72e"/>
<circle cx="535.56" cy="639.62" r="1.85" fill="#f2a72e"/>
<circle cx="536.44" cy="637.83" r="1.85" fill="#f2a72e"/>
<circle cx="537.31" cy="637.57" r="1.85" fill="#f2a72e"/>
<circle cx="538.19" cy="637.62" r="1.85" fill="#f2a72e"/>
<circle cx="539.07" cy="636.41" r="1.85" fill="#f2a72e"/>
<circle cx="539.95" cy="637.14" r="1.85" fill="#f2a72e"/>
<circle cx="540.83" cy="636.9" r="1.85" fill="#f2a72e"/>
<circle cx="541.71" cy="636.24" r="1.85" fill="#f2a72e"/>
<circle cx="542.58" cy="638.05" r="1.85" fill="#f2a72e"/>
<circle cx="543.46" cy="639.49" r="1.85" fill="#f2a72e"/>
<circle cx="544.34" cy="639.97" r="1.85" fill="#f2a72e"/>
<circle cx="545.22" cy="640.57" r="1.85" fill="#f2a72e"/>
<circle cx="546.1" cy="643.1" r="1.85" fill="#f2a72e"/>
<circle cx="546.97" cy="644.27" r="1.85" fill="#f2a72e"/>
<circle cx="547.85" cy="642.08" r="1.85" fill="#f2a72e"/>
<circle cx="548.73" cy="641.63" r="1.85" fill="#f2a72e"/>
<circle cx="549.61" cy="642.3" r="1.85" fill="#f2a72e"/>
<circle cx="550.49" cy="641.51" r="1.85" fill="#f2a72e"/>
<circle cx="551.36" cy="641.04" r="1.85" fill="#f2a72e"/>
<circle cx="552.24" cy="643.34" r="1.85" fill="#f2a72e"/>
<circle cx="553.12" cy="640.94" r="1.85" fill="#f2a72e"/>
<circle cx="554" cy="641.12" r="1.85" fill="#f2a72e"/>
<circle cx="554.88" cy="640.88" r="1.85" fill="#f2a72e"/>
<circle cx="555.75" cy="640.26" r="1.85" fill="#f2a72e"/>
<circle cx="556.63" cy="640.54" r="1.85" fill="#f2a72e"/>
<circle cx="557.51" cy="641.1" r="1.85" fill="#f2a72e"/>
<circle cx="558.39" cy="641.89" r="1.85" fill="#f2a72e"/>
<circle cx="559.27" cy="641.18" r="1.85" fill="#f2a72e"/>
<circle cx="560.14" cy="640.69" r="1.85" fill="#f2a72e"/>
<circle cx="561.02" cy="640.11" r="1.85" fill="#f2a72e"/>
<circle cx="561.9" cy="642.47" r="1.85" fill="#f2a72e"/>
<circle cx="562.78" cy="642.56" r="1.85" fill="#f2a72e"/>
<circle cx="563.66" cy="644.15" r="1.85" fill="#f2a72e"/>
<circle cx="564.54" cy="645.78" r="1.85" fill="#f2a72e"/>
<circle cx="565.41" cy="645.4" r="1.85" fill="#f2a72e"/>
<circle cx="566.29" cy="645.23" r="1.85" fill="#f2a72e"/>
<circle cx="567.17" cy="644.73" r="1.85" fill="#f2a72e"/>
<circle cx="568.05" cy="645.23" r="1.85" fill="#f2a72e"/>
<circle cx="568.93" cy="644.76" r="1.85" fill="#f2a72e"/>
<circle cx="569.8" cy="642.71" r="1.85" fill="#f2a72e"/>
<circle cx="570.68" cy="642.64" r="1.85" fill="#f2a72e"/>
<circle cx="571.56" cy="643.44" r="1.85" fill="#f2a72e"/>
<circle cx="572.44" cy="640.07" r="1.85" fill="#f2a72e"/>
<circle cx="573.32" cy="640.39" r="1.85" fill="#f2a72e"/>
<circle cx="574.19" cy="638.89" r="1.85" fill="#f2a72e"/>
<circle cx="575.07" cy="641.09" r="1.85" fill="#f2a72e"/>
<circle cx="575.95" cy="640" r="1.85" fill="#f2a72e"/>
<circle cx="576.83" cy="640.1" r="1.85" fill="#f2a72e"/>
<circle cx="577.71" cy="640.45" r="1.85" fill="#f2a72e"/>
<circle cx="578.58" cy="640.93" r="1.85" fill="#f2a72e"/>
<circle cx="579.46" cy="641.52" r="1.85" fill="#f2a72e"/>
<circle cx="580.34" cy="640.09" r="1.85" fill="#f2a72e"/>
<circle cx="581.22" cy="642.19" r="1.85" fill="#f2a72e"/>
<circle cx="582.1" cy="642.6" r="1.85" fill="#f2a72e"/>
<circle cx="582.98" cy="640.53" r="1.85" fill="#f2a72e"/>
<circle cx="583.85" cy="642.69" r="1.85" fill="#f2a72e"/>
<circle cx="584.73" cy="642.48" r="1.85" fill="#f2a72e"/>
<circle cx="585.61" cy="640.29" r="1.85" fill="#f2a72e"/>
<circle cx="586.49" cy="641.36" r="1.85" fill="#f2a72e"/>
<circle cx="587.37" cy="641.51" r="1.85" fill="#f2a72e"/>
<circle cx="588.24" cy="641.16" r="1.85" fill="#f2a72e"/>
<circle cx="589.12" cy="641.79" r="1.85" fill="#f2a72e"/>
<circle cx="590" cy="639.71" r="1.85" fill="#f2a72e"/>
<circle cx="590.88" cy="640.31" r="1.85" fill="#f2a72e"/>
<circle cx="591.76" cy="640.41" r="1.85" fill="#f2a72e"/>
<circle cx="592.63" cy="640.77" r="1.85" fill="#f2a72e"/>
<circle cx="593.51" cy="640.24" r="1.85" fill="#f2a72e"/>
<circle cx="594.39" cy="640.35" r="1.85" fill="#f2a72e"/>
<circle cx="595.27" cy="641.82" r="1.85" fill="#f2a72e"/>
<circle cx="596.15" cy="639.66" r="1.85" fill="#f2a72e"/>
<circle cx="597.02" cy="642.93" r="1.85" fill="#f2a72e"/>
<circle cx="597.9" cy="641.78" r="1.85" fill="#f2a72e"/>
<circle cx="598.78" cy="640.68" r="1.85" fill="#f2a72e"/>
<circle cx="599.66" cy="641.23" r="1.85" fill="#f2a72e"/>
<circle cx="600.54" cy="639.55" r="1.85" fill="#f2a72e"/>
<circle cx="601.41" cy="639.19" r="1.85" fill="#f2a72e"/>
<circle cx="602.29" cy="640.92" r="1.85" fill="#f2a72e"/>
<circle cx="603.17" cy="640.57" r="1.85" fill="#f2a72e"/>
<circle cx="604.05" cy="642.14" r="1.85" fill="#f2a72e"/>
<circle cx="604.93" cy="640.41" r="1.85" fill="#f2a72e"/>
<circle cx="605.81" cy="639.67" r="1.85" fill="#f2a72e"/>
<circle cx="606.68" cy="639.5" r="1.85" fill="#f2a72e"/>
<circle cx="607.56" cy="641.68" r="1.85" fill="#f2a72e"/>
<circle cx="608.44" cy="639.71" r="1.85" fill="#f2a72e"/>
<circle cx="609.32" cy="639.44" r="1.85" fill="#f2a72e"/>
<circle cx="610.2" cy="641.27" r="1.85" fill="#f2a72e"/>
<circle cx="611.07" cy="643.15" r="1.85" fill="#f2a72e"/>
<circle cx="611.95" cy="645.29" r="1.85" fill="#f2a72e"/>
<circle cx="612.83" cy="645.91" r="1.85" fill="#f2a72e"/>
<circle cx="613.71" cy="645.42" r="1.85" fill="#f2a72e"/>
<circle cx="614.59" cy="643.4" r="1.85" fill="#f2a72e"/>
<circle cx="615.46" cy="641.77" r="1.85" fill="#f2a72e"/>
<circle cx="616.34" cy="640.02" r="1.85" fill="#f2a72e"/>
<circle cx="617.22" cy="639.25" r="1.85" fill="#f2a72e"/>
<circle cx="618.1" cy="637.7" r="1.85" fill="#f2a72e"/>
<circle cx="618.98" cy="639.39" r="1.85" fill="#f2a72e"/>
<circle cx="619.85" cy="641.55" r="1.85" fill="#f2a72e"/>
<circle cx="620.73" cy="641.53" r="1.85" fill="#f2a72e"/>
<circle cx="621.61" cy="642.68" r="1.85" fill="#f2a72e"/>
<circle cx="622.49" cy="640.94" r="1.85" fill="#f2a72e"/>
<circle cx="623.37" cy="642.71" r="1.85" fill="#f2a72e"/>
<circle cx="624.24" cy="641.35" r="1.85" fill="#f2a72e"/>
<circle cx="625.12" cy="640.37" r="1.85" fill="#f2a72e"/>
<circle cx="626" cy="640.28" r="1.85" fill="#f2a72e"/>
<circle cx="626.88" cy="637.58" r="1.85" fill="#f2a72e"/>
<circle cx="627.76" cy="639.53" r="1.85" fill="#f2a72e"/>
<circle cx="628.64" cy="639.58" r="1.85" fill="#f2a72e"/>
<circle cx="629.51" cy="642.58" r="1.85" fill="#f2a72e"/>
<circle cx="630.39" cy="640.6" r="1.85" fill="#f2a72e"/>
<circle cx="631.27" cy="640.05" r="1.85" fill="#f2a72e"/>
<circle cx="632.15" cy="641.09" r="1.85" fill="#f2a72e"/>
<circle cx="633.03" cy="639.03" r="1.85" fill="#f2a72e"/>
<circle cx="633.9" cy="641.73" r="1.85" fill="#f2a72e"/>
<circle cx="634.78" cy="640.25" r="1.85" fill="#f2a72e"/>
<circle cx="635.66" cy="641.82" r="1.85" fill="#f2a72e"/>
<circle cx="636.54" cy="641.87" r="1.85" fill="#f2a72e"/>
<circle cx="637.42" cy="644.16" r="1.85" fill="#f2a72e"/>
<circle cx="638.29" cy="641.15" r="1.85" fill="#f2a72e"/>
<circle cx="639.17" cy="643.39" r="1.85" fill="#f2a72e"/>
<circle cx="640.05" cy="640.84" r="1.85" fill="#f2a72e"/>
<circle cx="640.93" cy="640.6" r="1.85" fill="#f2a72e"/>
<circle cx="641.81" cy="638.57" r="1.85" fill="#f2a72e"/>
<circle cx="642.68" cy="639.62" r="1.85" fill="#f2a72e"/>
<circle cx="643.56" cy="639.74" r="1.85" fill="#f2a72e"/>
<circle cx="644.44" cy="640.59" r="1.85" fill="#f2a72e"/>
<circle cx="645.32" cy="640.75" r="1.85" fill="#f2a72e"/>
<circle cx="646.2" cy="641.21" r="1.85" fill="#f2a72e"/>
<circle cx="647.07" cy="641.36" r="1.85" fill="#f2a72e"/>
<circle cx="647.95" cy="639.49" r="1.85" fill="#f2a72e"/>
<circle cx="648.83" cy="638.24" r="1.85" fill="#f2a72e"/>
<circle cx="649.71" cy="638.01" r="1.85" fill="#f2a72e"/>
<circle cx="650.59" cy="640.37" r="1.85" fill="#f2a72e"/>
<circle cx="651.47" cy="640.21" r="1.85" fill="#f2a72e"/>
<circle cx="652.34" cy="642.81" r="1.85" fill="#f2a72e"/>
<circle cx="653.22" cy="642.87" r="1.85" fill="#f2a72e"/>
<circle cx="654.1" cy="642.41" r="1.85" fill="#f2a72e"/>
<circle cx="654.98" cy="644.28" r="1.85" fill="#f2a72e"/>
<circle cx="655.86" cy="644.65" r="1.85" fill="#f2a72e"/>
<circle cx="656.73" cy="641.5" r="1.85" fill="#f2a72e"/>
<circle cx="657.61" cy="639.71" r="1.85" fill="#f2a72e"/>
<circle cx="658.49" cy="639.09" r="1.85" fill="#f2a72e"/>
<circle cx="659.37" cy="640.57" r="1.85" fill="#f2a72e"/>
<circle cx="660.25" cy="639.24" r="1.85" fill="#f2a72e"/>
<circle cx="661.12" cy="639.77" r="1.85" fill="#f2a72e"/>
<circle cx="662" cy="641.14" r="1.85" fill="#f2a72e"/>
<circle cx="662.88" cy="640.52" r="1.85" fill="#f2a72e"/>
<circle cx="663.76" cy="640.44" r="1.85" fill="#f2a72e"/>
<circle cx="664.64" cy="639.49" r="1.85" fill="#f2a72e"/>
<circle cx="665.51" cy="639.22" r="1.85" fill="#f2a72e"/>
<circle cx="666.39" cy="640.14" r="1.85" fill="#f2a72e"/>
<circle cx="667.27" cy="640.58" r="1.85" fill="#f2a72e"/>
<circle cx="668.15" cy="641.64" r="1.85" fill="#f2a72e"/>
<circle cx="669.03" cy="641.1" r="1.85" fill="#f2a72e"/>
<circle cx="669.9" cy="642.19" r="1.85" fill="#f2a72e"/>
<circle cx="670.78" cy="642.11" r="1.85" fill="#f2a72e"/>
<circle cx="671.66" cy="641.12" r="1.85" fill="#f2a72e"/>
<rect x="391.7" y="556.3" width="291.2" height="234.9" fill="none" stroke="#3a3a3a" stroke-width="1.4"/>
<line x1="391.7" y1="787.29" x2="394.9" y2="787.29" stroke="#3a3a3a" stroke-width="1.2"/>
<line x1="391.7" y1="776.85" x2="394.9" y2="776.85" stroke="#3a3a3a" stroke-width="1.2"/>
<line x1="391.7" y1="766.4" x2="396.7" y2="766.4" stroke="#3a3a3a" stroke-width="1.2"/>
<line x1="391.7" y1="755.95" x2="394.9" y2="755.95" stroke="#3a3a3a" stroke-width="1.2"/>
<line x1="391.7" y1="745.5" x2="394.9" y2="745.5" stroke="#3a3a3a" stroke-width="1.2"/>
<line x1="391.7" y1="735.06" x2="394.9" y2="735.06" stroke="#3a3a3a" stroke-width="1.2"/>
<line x1="391.7" y1="724.61" x2="396.7" y2="724.61" stroke="#3a3a3a" stroke-width="1.2"/>
<line x1="391.7" y1="714.16" x2="394.9" y2="714.16" stroke="#3a3a3a" stroke-width="1.2"/>
<line x1="391.7" y1="703.71" x2="394.9" y2="703.71" stroke="#3a3a3a" stroke-width="1.2"/>
<line x1="391.7" y1="693.27" x2="394.9" y2="693.27" stroke="#3a3a3a" stroke-width="1.2"/>
<line x1="391.7" y1="682.82" x2="396.7" y2="682.82" stroke="#3a3a3a" stroke-width="1.2"/>
<line x1="391.7" y1="672.37" x2="394.9" y2="672.37" stroke="#3a3a3a" stroke-width="1.2"/>
<line x1="391.7" y1="661.92" x2="394.9" y2="661.92" stroke="#3a3a3a" stroke-width="1.2"/>
<line x1="391.7" y1="651.48" x2="394.9" y2="651.48" stroke="#3a3a3a" stroke-width="1.2"/>
<line x1="391.7" y1="641.03" x2="396.7" y2="641.03" stroke="#3a3a3a" stroke-width="1.2"/>
<line x1="391.7" y1="630.58" x2="394.9" y2="630.58" stroke="#3a3a3a" stroke-width="1.2"/>
<line x1="391.7" y1="620.13" x2="394.9" y2="620.13" stroke="#3a3a3a" stroke-width="1.2"/>
<line x1="391.7" y1="609.69" x2="394.9" y2="609.69" stroke="#3a3a3a" stroke-width="1.2"/>
<line x1="391.7" y1="599.24" x2="396.7" y2="599.24" stroke="#3a3a3a" stroke-width="1.2"/>
<line x1="391.7" y1="588.79" x2="394.9" y2="588.79" stroke="#3a3a3a" stroke-width="1.2"/>
<line x1="391.7" y1="578.35" x2="394.9" y2="578.35" stroke="#3a3a3a" stroke-width="1.2"/>
<line x1="391.7" y1="567.9" x2="394.9" y2="567.9" stroke="#3a3a3a" stroke-width="1.2"/>
<line x1="391.7" y1="557.45" x2="396.7" y2="557.45" stroke="#3a3a3a" stroke-width="1.2"/>
<text x="388.2" y="770.5" font-size="11.5" text-anchor="end" stroke="#2a2a2a" stroke-width="0.2">0</text>
<text x="388.2" y="728.71" font-size="11.5" text-anchor="end" stroke="#2a2a2a" stroke-width="0.2">3</text>
<text x="388.2" y="686.92" font-size="11.5" text-anchor="end" stroke="#2a2a2a" stroke-width="0.2">6</text>
<text x="388.2" y="645.13" font-size="11.5" text-anchor="end" stroke="#2a2a2a" stroke-width="0.2">9</text>
<text x="388.2" y="603.34" font-size="11.5" text-anchor="end" stroke="#2a2a2a" stroke-width="0.2" textLength="12.4" lengthAdjust="spacingAndGlyphs">12</text>
<text x="388.2" y="561.55" font-size="11.5" text-anchor="end" stroke="#2a2a2a" stroke-width="0.2" textLength="12.4" lengthAdjust="spacingAndGlyphs">15</text>
<line x1="391.24" y1="791.2" x2="391.24" y2="796" stroke="#3a3a3a" stroke-width="1.2"/>
<line x1="406.92" y1="791.2" x2="406.92" y2="794" stroke="#3a3a3a" stroke-width="1.2"/>
<line x1="422.6" y1="791.2" x2="422.6" y2="796" stroke="#3a3a3a" stroke-width="1.2"/>
<line x1="438.28" y1="791.2" x2="438.28" y2="794" stroke="#3a3a3a" stroke-width="1.2"/>
<line x1="453.96" y1="791.2" x2="453.96" y2="796" stroke="#3a3a3a" stroke-width="1.2"/>
<line x1="469.64" y1="791.2" x2="469.64" y2="794" stroke="#3a3a3a" stroke-width="1.2"/>
<line x1="485.32" y1="791.2" x2="485.32" y2="796" stroke="#3a3a3a" stroke-width="1.2"/>
<line x1="501" y1="791.2" x2="501" y2="794" stroke="#3a3a3a" stroke-width="1.2"/>
<line x1="516.68" y1="791.2" x2="516.68" y2="796" stroke="#3a3a3a" stroke-width="1.2"/>
<line x1="532.36" y1="791.2" x2="532.36" y2="794" stroke="#3a3a3a" stroke-width="1.2"/>
<line x1="548.04" y1="791.2" x2="548.04" y2="796" stroke="#3a3a3a" stroke-width="1.2"/>
<line x1="563.72" y1="791.2" x2="563.72" y2="794" stroke="#3a3a3a" stroke-width="1.2"/>
<line x1="579.4" y1="791.2" x2="579.4" y2="796" stroke="#3a3a3a" stroke-width="1.2"/>
<line x1="595.08" y1="791.2" x2="595.08" y2="794" stroke="#3a3a3a" stroke-width="1.2"/>
<line x1="610.76" y1="791.2" x2="610.76" y2="796" stroke="#3a3a3a" stroke-width="1.2"/>
<line x1="626.44" y1="791.2" x2="626.44" y2="794" stroke="#3a3a3a" stroke-width="1.2"/>
<line x1="642.12" y1="791.2" x2="642.12" y2="796" stroke="#3a3a3a" stroke-width="1.2"/>
<line x1="657.8" y1="791.2" x2="657.8" y2="794" stroke="#3a3a3a" stroke-width="1.2"/>
<line x1="673.48" y1="791.2" x2="673.48" y2="796" stroke="#3a3a3a" stroke-width="1.2"/>
<text x="422.6" y="809.6" font-size="12" text-anchor="middle" stroke="#2a2a2a" stroke-width="0.2">0</text>
<text x="485.32" y="809.6" font-size="12" text-anchor="middle" stroke="#2a2a2a" stroke-width="0.2" textLength="18.5" lengthAdjust="spacingAndGlyphs">0.2</text>
<text x="548.04" y="809.6" font-size="12" text-anchor="middle" stroke="#2a2a2a" stroke-width="0.2" textLength="18.5" lengthAdjust="spacingAndGlyphs">0.4</text>
<text x="610.76" y="809.6" font-size="12" text-anchor="middle" stroke="#2a2a2a" stroke-width="0.2" textLength="18.5" lengthAdjust="spacingAndGlyphs">0.6</text>
<text x="673.48" y="809.6" font-size="12" text-anchor="middle" stroke="#2a2a2a" stroke-width="0.2" textLength="18.5" lengthAdjust="spacingAndGlyphs">0.8</text>
<line x1="682.9" y1="774.4" x2="677.9" y2="774.4" stroke="#3a3a3a" stroke-width="1.2"/>
<line x1="682.9" y1="755.95" x2="679.7" y2="755.95" stroke="#3a3a3a" stroke-width="1.2"/>
<line x1="682.9" y1="737.5" x2="679.7" y2="737.5" stroke="#3a3a3a" stroke-width="1.2"/>
<line x1="682.9" y1="719.05" x2="679.7" y2="719.05" stroke="#3a3a3a" stroke-width="1.2"/>
<line x1="682.9" y1="700.6" x2="677.9" y2="700.6" stroke="#3a3a3a" stroke-width="1.2"/>
<line x1="682.9" y1="682.15" x2="679.7" y2="682.15" stroke="#3a3a3a" stroke-width="1.2"/>
<line x1="682.9" y1="663.7" x2="679.7" y2="663.7" stroke="#3a3a3a" stroke-width="1.2"/>
<line x1="682.9" y1="645.25" x2="679.7" y2="645.25" stroke="#3a3a3a" stroke-width="1.2"/>
<line x1="682.9" y1="626.8" x2="677.9" y2="626.8" stroke="#3a3a3a" stroke-width="1.2"/>
<line x1="682.9" y1="608.35" x2="679.7" y2="608.35" stroke="#3a3a3a" stroke-width="1.2"/>
<line x1="682.9" y1="589.9" x2="679.7" y2="589.9" stroke="#3a3a3a" stroke-width="1.2"/>
<line x1="682.9" y1="571.45" x2="679.7" y2="571.45" stroke="#3a3a3a" stroke-width="1.2"/>
<text x="687.2" y="778.4" font-size="11" fill="#f0bb55" stroke="#f0bb55" stroke-width="0.2">0</text>
<text x="687.2" y="704.6" font-size="11" fill="#f0bb55" stroke="#f0bb55" stroke-width="0.2">1</text>
<text x="687.2" y="630.8" font-size="11" fill="#f0bb55" stroke="#f0bb55" stroke-width="0.2">2</text>
<text x="687.2" y="557" font-size="11" fill="#f0bb55" stroke="#f0bb55" stroke-width="0.2">3</text>
<text x="364.4" y="680.5" font-size="15" text-anchor="middle" stroke="#2a2a2a" stroke-width="0.2" textLength="68" lengthAdjust="spacingAndGlyphs" transform="rotate(-90 364.4 680.5)">Current (A)</text>
<text x="696" y="680.5" font-size="15" text-anchor="middle" fill="#e8a23a" stroke="#e8a23a" stroke-width="0.2" textLength="122" lengthAdjust="spacingAndGlyphs" transform="rotate(90 696 680.5)">Normal Force (MPa)</text>
<text x="540.6" y="826.2" font-size="15" text-anchor="middle" stroke="#2a2a2a" stroke-width="0.2" textLength="64.4" lengthAdjust="spacingAndGlyphs">Time (sec)</text>
<text x="711" y="556" font-size="16.3" fill="#111" font-weight="bold">I</text>
<path d="M757 657.42 L840.38 650.66 L864.96 653.73 L920.3 649.74 L943.06 647.9 L1001.95 651.58" fill="none" stroke="#3b3496" stroke-width="1.3"/>
<circle cx="757" cy="657.42" r="4.4" fill="#ffffff" stroke="#2b2185" stroke-width="1.3"/>
<circle cx="755.7" cy="656.12" r="2.4" fill="#2b2185"/>
<circle cx="840.38" cy="650.66" r="4.4" fill="#ffffff" stroke="#2b2185" stroke-width="1.3"/>
<circle cx="839.08" cy="649.36" r="2.4" fill="#2b2185"/>
<circle cx="864.96" cy="653.73" r="4.4" fill="#ffffff" stroke="#2b2185" stroke-width="1.3"/>
<circle cx="863.66" cy="652.43" r="2.4" fill="#2b2185"/>
<circle cx="920.3" cy="649.74" r="4.4" fill="#ffffff" stroke="#2b2185" stroke-width="1.3"/>
<circle cx="919" cy="648.44" r="2.4" fill="#2b2185"/>
<circle cx="943.06" cy="647.9" r="4.4" fill="#ffffff" stroke="#2b2185" stroke-width="1.3"/>
<circle cx="941.76" cy="646.6" r="2.4" fill="#2b2185"/>
<circle cx="1001.95" cy="651.58" r="4.4" fill="#ffffff" stroke="#2b2185" stroke-width="1.3"/>
<circle cx="1000.65" cy="650.28" r="2.4" fill="#2b2185"/>
<path d="M757 733.86 L840.38 732.63 L864.96 732.63 L920.3 732.02 L943.06 730.79 L1001.95 731.4" fill="none" stroke="#3a7a3a" stroke-width="1.3"/>
<circle cx="757" cy="733.86" r="4.4" fill="#ffffff" stroke="#1d5e24" stroke-width="1.3"/>
<circle cx="755.7" cy="732.56" r="2.4" fill="#1d5e24"/>
<circle cx="840.38" cy="732.63" r="4.4" fill="#ffffff" stroke="#1d5e24" stroke-width="1.3"/>
<circle cx="839.08" cy="731.33" r="2.4" fill="#1d5e24"/>
<circle cx="864.96" cy="732.63" r="4.4" fill="#ffffff" stroke="#1d5e24" stroke-width="1.3"/>
<circle cx="863.66" cy="731.33" r="2.4" fill="#1d5e24"/>
<circle cx="920.3" cy="732.02" r="4.4" fill="#ffffff" stroke="#1d5e24" stroke-width="1.3"/>
<circle cx="919" cy="730.72" r="2.4" fill="#1d5e24"/>
<circle cx="943.06" cy="730.79" r="4.4" fill="#ffffff" stroke="#1d5e24" stroke-width="1.3"/>
<circle cx="941.76" cy="729.49" r="2.4" fill="#1d5e24"/>
<circle cx="1001.95" cy="731.4" r="4.4" fill="#ffffff" stroke="#1d5e24" stroke-width="1.3"/>
<circle cx="1000.65" cy="730.1" r="2.4" fill="#1d5e24"/>
<line x1="758" y1="642.2" x2="787.1" y2="642.2" stroke="#2b2185" stroke-width="1.4"/>
<path d="M752.6 642.2 L760 638.2 L758.5 642.2 L760 646.2 Z" fill="#2b2185"/>
<line x1="980" y1="713.8" x2="1008" y2="713.8" stroke="#1d5e24" stroke-width="1.4"/>
<path d="M1014 713.8 L1006.5 709.8 L1008 713.8 L1006.5 717.8 Z" fill="#1d5e24"/>
<rect x="742.2" y="555.8" width="292.8" height="240.4" fill="none" stroke="#3a3a3a" stroke-width="1.4"/>
<line x1="742.2" y1="796.2" x2="747.2" y2="796.2" stroke="#3a3a3a" stroke-width="1.2"/>
<line x1="742.2" y1="770.7" x2="745.4" y2="770.7" stroke="#3a3a3a" stroke-width="1.2"/>
<line x1="742.2" y1="740" x2="747.2" y2="740" stroke="#3a3a3a" stroke-width="1.2"/>
<line x1="742.2" y1="709.3" x2="745.4" y2="709.3" stroke="#3a3a3a" stroke-width="1.2"/>
<line x1="742.2" y1="678.6" x2="747.2" y2="678.6" stroke="#3a3a3a" stroke-width="1.2"/>
<line x1="742.2" y1="647.9" x2="745.4" y2="647.9" stroke="#3a3a3a" stroke-width="1.2"/>
<line x1="742.2" y1="617.2" x2="747.2" y2="617.2" stroke="#3a3a3a" stroke-width="1.2"/>
<line x1="742.2" y1="586.5" x2="745.4" y2="586.5" stroke="#3a3a3a" stroke-width="1.2"/>
<line x1="742.2" y1="555.8" x2="747.2" y2="555.8" stroke="#3a3a3a" stroke-width="1.2"/>
<text x="737.5" y="743.6" font-size="11.6" text-anchor="end" stroke="#2a2a2a" stroke-width="0.2">1</text>
<text x="737.5" y="682.2" font-size="11.6" text-anchor="end" stroke="#2a2a2a" stroke-width="0.2">2</text>
<text x="737.5" y="620.8" font-size="11.6" text-anchor="end" stroke="#2a2a2a" stroke-width="0.2">3</text>
<text x="737.5" y="559.4" font-size="11.6" text-anchor="end" stroke="#2a2a2a" stroke-width="0.2">4</text>
<text x="737.5" y="800.2" font-size="11.6" text-anchor="end" stroke="#2a2a2a" stroke-width="0.2">0</text>
<line x1="757" y1="796.2" x2="757" y2="791.2" stroke="#3a3a3a" stroke-width="1.2"/>
<line x1="760.59" y1="796.2" x2="760.59" y2="793" stroke="#3a3a3a" stroke-width="1.1"/>
<line x1="764.19" y1="796.2" x2="764.19" y2="793" stroke="#3a3a3a" stroke-width="1.1"/>
<line x1="767.61" y1="796.2" x2="767.61" y2="793" stroke="#3a3a3a" stroke-width="1.1"/>
<line x1="770.88" y1="796.2" x2="770.88" y2="793" stroke="#3a3a3a" stroke-width="1.1"/>
<line x1="774.47" y1="796.2" x2="774.47" y2="793" stroke="#3a3a3a" stroke-width="1.1"/>
<line x1="781.33" y1="796.2" x2="781.33" y2="793" stroke="#3a3a3a" stroke-width="1.1"/>
<line x1="789.17" y1="796.2" x2="789.17" y2="793" stroke="#3a3a3a" stroke-width="1.1"/>
<line x1="799.46" y1="796.2" x2="799.46" y2="793" stroke="#3a3a3a" stroke-width="1.1"/>
<line x1="813.34" y1="796.2" x2="813.34" y2="793" stroke="#3a3a3a" stroke-width="1.1"/>
<line x1="838.65" y1="796.2" x2="838.65" y2="791.2" stroke="#3a3a3a" stroke-width="1.2"/>
<line x1="842.24" y1="796.2" x2="842.24" y2="793" stroke="#3a3a3a" stroke-width="1.1"/>
<line x1="845.84" y1="796.2" x2="845.84" y2="793" stroke="#3a3a3a" stroke-width="1.1"/>
<line x1="849.26" y1="796.2" x2="849.26" y2="793" stroke="#3a3a3a" stroke-width="1.1"/>
<line x1="852.53" y1="796.2" x2="852.53" y2="793" stroke="#3a3a3a" stroke-width="1.1"/>
<line x1="856.12" y1="796.2" x2="856.12" y2="793" stroke="#3a3a3a" stroke-width="1.1"/>
<line x1="862.98" y1="796.2" x2="862.98" y2="793" stroke="#3a3a3a" stroke-width="1.1"/>
<line x1="870.82" y1="796.2" x2="870.82" y2="793" stroke="#3a3a3a" stroke-width="1.1"/>
<line x1="881.11" y1="796.2" x2="881.11" y2="793" stroke="#3a3a3a" stroke-width="1.1"/>
<line x1="894.99" y1="796.2" x2="894.99" y2="793" stroke="#3a3a3a" stroke-width="1.1"/>
<line x1="920.3" y1="796.2" x2="920.3" y2="791.2" stroke="#3a3a3a" stroke-width="1.2"/>
<line x1="923.89" y1="796.2" x2="923.89" y2="793" stroke="#3a3a3a" stroke-width="1.1"/>
<line x1="927.49" y1="796.2" x2="927.49" y2="793" stroke="#3a3a3a" stroke-width="1.1"/>
<line x1="930.91" y1="796.2" x2="930.91" y2="793" stroke="#3a3a3a" stroke-width="1.1"/>
<line x1="934.18" y1="796.2" x2="934.18" y2="793" stroke="#3a3a3a" stroke-width="1.1"/>
<line x1="937.77" y1="796.2" x2="937.77" y2="793" stroke="#3a3a3a" stroke-width="1.1"/>
<line x1="944.63" y1="796.2" x2="944.63" y2="793" stroke="#3a3a3a" stroke-width="1.1"/>
<line x1="952.47" y1="796.2" x2="952.47" y2="793" stroke="#3a3a3a" stroke-width="1.1"/>
<line x1="962.76" y1="796.2" x2="962.76" y2="793" stroke="#3a3a3a" stroke-width="1.1"/>
<line x1="976.64" y1="796.2" x2="976.64" y2="793" stroke="#3a3a3a" stroke-width="1.1"/>
<line x1="1001.95" y1="796.2" x2="1001.95" y2="791.2" stroke="#3a3a3a" stroke-width="1.2"/>
<line x1="1005.54" y1="796.2" x2="1005.54" y2="793" stroke="#3a3a3a" stroke-width="1.1"/>
<line x1="1009.14" y1="796.2" x2="1009.14" y2="793" stroke="#3a3a3a" stroke-width="1.1"/>
<line x1="1012.56" y1="796.2" x2="1012.56" y2="793" stroke="#3a3a3a" stroke-width="1.1"/>
<line x1="1015.83" y1="796.2" x2="1015.83" y2="793" stroke="#3a3a3a" stroke-width="1.1"/>
<line x1="1019.42" y1="796.2" x2="1019.42" y2="793" stroke="#3a3a3a" stroke-width="1.1"/>
<line x1="1026.28" y1="796.2" x2="1026.28" y2="793" stroke="#3a3a3a" stroke-width="1.1"/>
<text x="757" y="811.3" font-size="12.5" text-anchor="middle" stroke="#2a2a2a" stroke-width="0.2">1</text>
<text x="838.65" y="811.3" font-size="12.5" text-anchor="middle" stroke="#2a2a2a" stroke-width="0.2" textLength="15.3" lengthAdjust="spacingAndGlyphs">10</text>
<text x="920.3" y="811.3" font-size="12.5" text-anchor="middle" stroke="#2a2a2a" stroke-width="0.2" textLength="21" lengthAdjust="spacingAndGlyphs">100</text>
<text x="1001.95" y="811.3" font-size="12.5" text-anchor="middle" stroke="#2a2a2a" stroke-width="0.2" textLength="29" lengthAdjust="spacingAndGlyphs">1000</text>
<line x1="1035" y1="796.2" x2="1030" y2="796.2" stroke="#3a3a3a" stroke-width="1.2"/>
<line x1="1035" y1="763.4" x2="1031.8" y2="763.4" stroke="#3a3a3a" stroke-width="1.2"/>
<line x1="1035" y1="724.7" x2="1030" y2="724.7" stroke="#3a3a3a" stroke-width="1.2"/>
<line x1="1035" y1="686" x2="1031.8" y2="686" stroke="#3a3a3a" stroke-width="1.2"/>
<line x1="1035" y1="646.3" x2="1030" y2="646.3" stroke="#3a3a3a" stroke-width="1.2"/>
<line x1="1035" y1="606.9" x2="1031.8" y2="606.9" stroke="#3a3a3a" stroke-width="1.2"/>
<line x1="1035" y1="566.4" x2="1030" y2="566.4" stroke="#3a3a3a" stroke-width="1.2"/>
<text x="1039.5" y="800.2" font-size="11.6" stroke="#2a2a2a" stroke-width="0.2">0</text>
<text x="1039.5" y="728.7" font-size="11.6" stroke="#2a2a2a" stroke-width="0.2" textLength="22" lengthAdjust="spacingAndGlyphs">0.01</text>
<text x="1039.5" y="650.3" font-size="11.6" stroke="#2a2a2a" stroke-width="0.2" textLength="22" lengthAdjust="spacingAndGlyphs">0.02</text>
<text x="1039.5" y="570.4" font-size="11.6" stroke="#2a2a2a" stroke-width="0.2" textLength="22" lengthAdjust="spacingAndGlyphs">0.03</text>
<text x="726.3" y="674.6" font-size="15" text-anchor="middle" fill="#2b2185" textLength="86" lengthAdjust="spacingAndGlyphs" transform="rotate(-90 726.3 674.6)">Normalized <tspan font-style="italic">E</tspan></text>
<text x="1065.5" y="682.5" font-size="15" text-anchor="middle" fill="#1d5e24" stroke="#1d5e24" stroke-width="0.2" textLength="84" lengthAdjust="spacingAndGlyphs" transform="rotate(90 1065.5 682.5)">Normalized γ</text>
<text x="895.3" y="825.6" font-size="15" text-anchor="middle" stroke="#2a2a2a" stroke-width="0.2" textLength="60.6" lengthAdjust="spacingAndGlyphs">Cycles (#)</text></svg>
</body></html>
